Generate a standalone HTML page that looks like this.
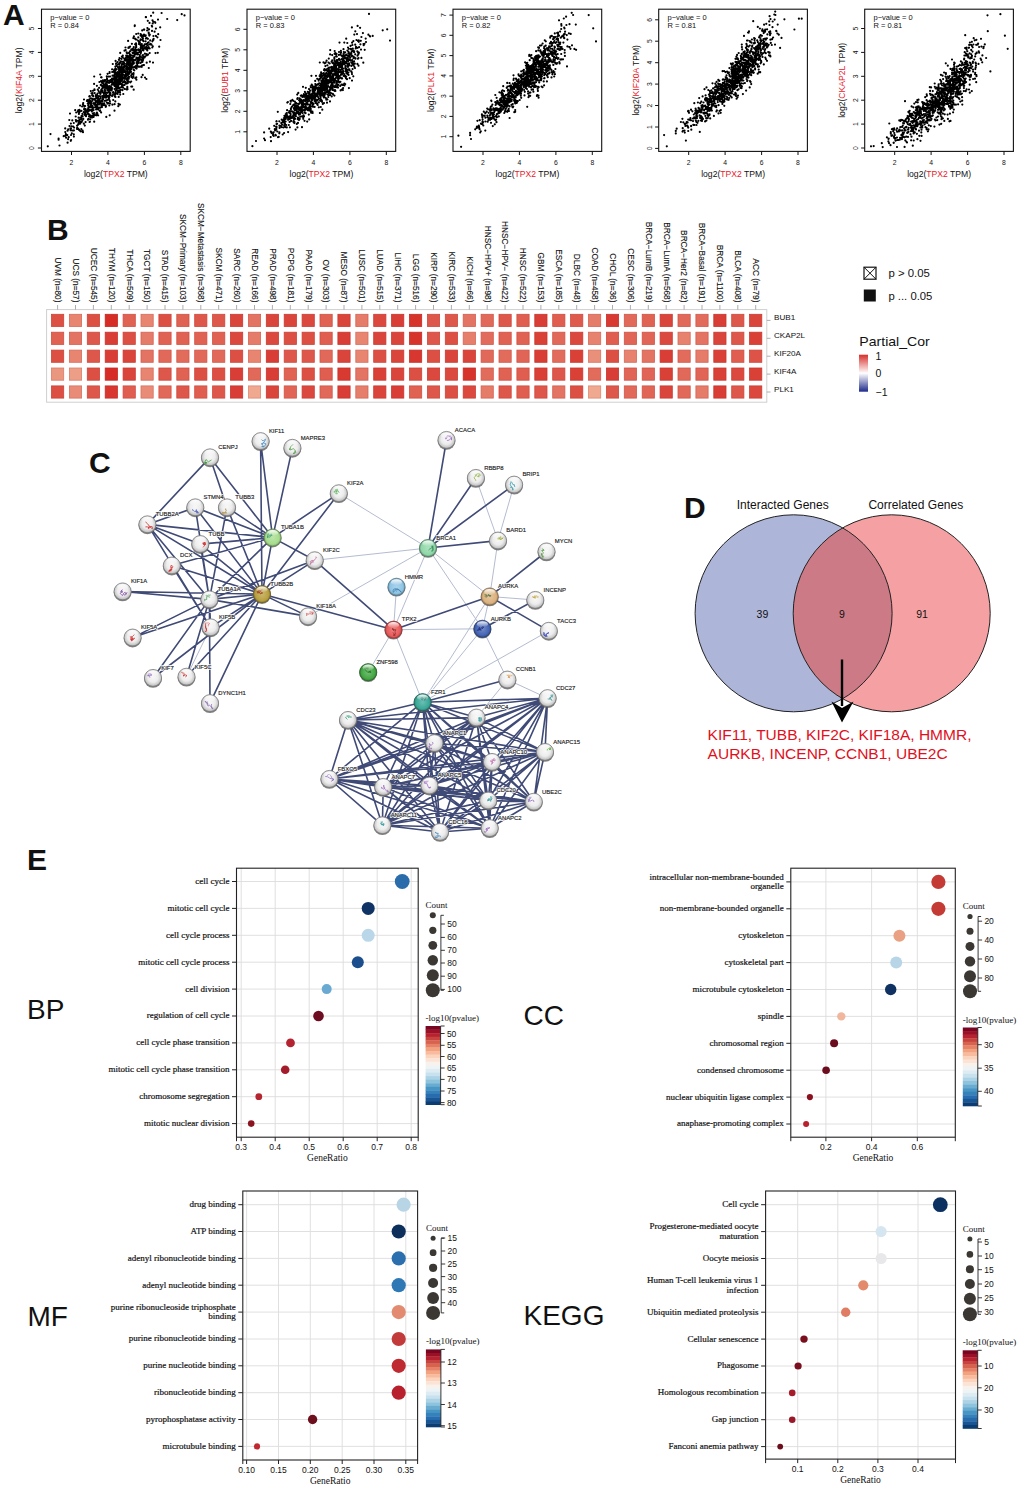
<!DOCTYPE html>
<html><head><meta charset="utf-8"><style>
html,body{margin:0;padding:0;background:#fff;width:1020px;height:1488px;overflow:hidden}
svg{display:block}
svg{font-family:"Liberation Sans",sans-serif;fill:#111}
</style></head><body>
<svg width="1020" height="1488" viewBox="0 0 1020 1488">
<rect width="1020" height="1488" fill="#fff"/>
<path d="M127.7 75.5h0M140.7 34.1h0M124.4 72h0M71.1 140h0M119.4 88.2h0M108.3 97h0M145.1 47.6h0M135.4 48.9h0M108.3 95.9h0M147.3 50.4h0M146 17.2h0M139.2 52h0M100.3 102.5h0M137.6 54.5h0M133.5 74.2h0M95.7 98.4h0M133.3 49.3h0M130.4 70.1h0M75.7 116.5h0M121.4 77.3h0M88.6 108h0M127.3 75.4h0M116.3 88.1h0M132.6 78h0M91.3 105.7h0M118.7 80.3h0M95.2 105.4h0M119.7 87.8h0M83.8 123.7h0M123.8 78.2h0M121.6 69.2h0M124.6 67.4h0M149.7 48.5h0M107.9 86.8h0M138.3 33.5h0M98.1 99.4h0M115.6 60.9h0M126.2 64h0M99.1 87.8h0M126.9 73.6h0M135.6 43.8h0M103.4 105.1h0M122.1 70.9h0M117.1 82.6h0M82.6 130.7h0M120.3 89.6h0M110.1 76.5h0M145.9 38.6h0M108.8 76.6h0M93.9 103.1h0M114.5 110.7h0M155.9 28.6h0M132.5 67.6h0M131 68.6h0M83.3 118.9h0M138.6 62.8h0M146.9 55.3h0M152.5 20.3h0M117.6 74.2h0M102.5 101.3h0M78.6 123.2h0M104.4 84.7h0M136.2 52.3h0M129.8 62.3h0M125.4 82.8h0M117.6 83.1h0M112.7 95.2h0M118.7 96.9h0M95.9 95.2h0M93.8 107.5h0M71 130.3h0M99 107.6h0M120.8 67.3h0M112.8 64h0M117.2 73.3h0M105.9 83.4h0M104.1 105h0M76.9 120.9h0M105.2 90.7h0M116.4 80.1h0M92.8 113.5h0M58.6 139.7h0M105.4 96.4h0M82.1 106.5h0M119 70.3h0M128.5 62.3h0M98.1 98.8h0M123.4 63.2h0M103 99.4h0M122.7 82.5h0M80.9 131.5h0M131.4 49.3h0M130.6 57.9h0M111.5 79.5h0M138 54.1h0M102.9 80.4h0M71.8 133.3h0M135.1 44.3h0M118.2 86.6h0M101.8 100.4h0M133.6 73.9h0M94 104h0M78.9 122.2h0M104.8 89.3h0M137.4 62.2h0M120.5 89.8h0M85.6 109.2h0M89.2 99.7h0M158 19.6h0M153.4 36h0M113.8 79.3h0M124.6 88.9h0M114.8 85.3h0M138.2 40.8h0M123.8 66.8h0M104.9 100.8h0M135.9 47.4h0M133.6 61.6h0M101 91h0M117.1 93.6h0M127.8 72.8h0M123.2 69h0M132 58.6h0M136.6 50.1h0M132.3 61.8h0M121.3 76.7h0M100.6 93.6h0M133.6 50.3h0M146.7 62.7h0M100.1 101.1h0M122.7 75.2h0M122.6 71.4h0M147.5 30.3h0M94.6 115h0M69.5 126h0M135.2 78.1h0M110.4 94.1h0M88.8 114.2h0M109.4 90.7h0M120.8 81.5h0M121.1 80.1h0M115.3 84.8h0M110.5 89.5h0M109.3 105.5h0M73.8 134.3h0M122.2 78.2h0M116.6 74.8h0M89.4 101.8h0M134.7 26.1h0M137.4 54.2h0M109.7 95.2h0M123.5 70.2h0M117.6 72.1h0M108.4 87.9h0M98.1 109.4h0M121.5 75.4h0M108.5 89.5h0M159.2 46.7h0M121.5 86.9h0M119.4 64.6h0M83 132.2h0M154.6 31.7h0M107.4 92.8h0M120.4 61.4h0M110.2 81.4h0M121.1 83.8h0M93.1 95.6h0M141.6 57h0M99.4 82h0M122.8 55.6h0M150.2 40.4h0M114.6 74.7h0M58.6 138.5h0M66.1 137.7h0M79.3 112.5h0M83.8 112.2h0M142.9 38.4h0M115.3 70.9h0M92.2 95.4h0M127.6 55.9h0M124.5 71.8h0M139.9 51.2h0M138.4 49.3h0M88.8 111h0M129.8 67h0M93 90.8h0M141.8 44h0M96.9 85.8h0M141.3 59.6h0M141 51.4h0M118.3 82.2h0M120.6 79.2h0M91.1 110h0M88.5 111.3h0M92.4 109.8h0M125.7 50.1h0M112 78.6h0M135.1 66.6h0M99.7 103.3h0M130.7 55.1h0M110.2 81.9h0M93.6 110h0M136.2 46.1h0M133.4 76.2h0M65.5 135.7h0M116.1 63.4h0M118.5 103.8h0M120.8 77h0M114.6 72.5h0M89.4 110.5h0M136.3 65.5h0M98.1 107.7h0M70.8 140.8h0M118 91.5h0M127.5 66.4h0M96.1 107.1h0M143.4 48h0M106.4 92.6h0M136.1 53.6h0M89.6 122h0M109.8 90.4h0M70.6 130.2h0M128.8 69h0M145.2 56.3h0M142.7 74.9h0M114.3 76.3h0M121.7 65.5h0M128.1 40.9h0M84.4 109.2h0M112.1 69.3h0M112.6 78.6h0M149.9 44.4h0M112.4 79.8h0M71 135h0M123.6 69.2h0M95.3 104.2h0M160.5 40h0M107.1 79.4h0M133.8 47h0M152 31h0M114.5 74.3h0M102.8 80.7h0M140.9 52.5h0M124.5 84.9h0M102.9 103.5h0M105.3 86.2h0M116.9 77.2h0M93.7 116.8h0M94.7 93.1h0M134.4 56.4h0M82.9 104.4h0M79.9 111.2h0M147.5 47.9h0M144.1 45.7h0M96.5 108h0M143.9 57.2h0M128.9 68.6h0M121.3 69.1h0M105.2 80.1h0M90.2 115.4h0M109.9 80.7h0M123.1 71.8h0M103.7 96h0M93.2 96.3h0M99.1 102h0M77.9 111.6h0M118.5 80.8h0M121 84h0M145.7 35.3h0M118 92.5h0M133.5 73.1h0M105.7 93.5h0M128.9 65.1h0M125.4 72.2h0M126.4 89.3h0M115.6 93.8h0M100.8 92.7h0M118.4 72h0M115.6 90.6h0M140.7 47.6h0M87.9 109.2h0M103.3 85.4h0M133.9 67.4h0M115.4 66.6h0M131.1 65.8h0M115.4 66.7h0M98.8 91.4h0M140.5 63h0M131 66h0M102.9 92.3h0M91.7 98.7h0M93.5 116h0M105.2 96.7h0M84.4 109.7h0M102.5 90.9h0M148.1 54.6h0M117.4 87.5h0M146.5 38.2h0M142.9 60.3h0M116.1 77.7h0M81.4 110.8h0M137.7 54.2h0M133.7 89.7h0M147.4 28h0M136.6 39.5h0M151.8 25.8h0M105.9 106.7h0M126.7 52.4h0M118.9 73.3h0M152.7 23.5h0M133 62h0M81.1 119.3h0M146.5 46.4h0M92.5 93.2h0M136.6 52.6h0M115.5 82.7h0M127.7 80.4h0M134.3 53.3h0M126.9 67.4h0M107.6 88.1h0M147.1 30.5h0M130.3 55.4h0M123.4 71.6h0M114.7 79.5h0M114.7 80.7h0M155.3 22.8h0M127.5 59.3h0M129.8 62.4h0M129.5 73.7h0M108.4 80.8h0M104 85.5h0M127.4 78.5h0M129.6 59.9h0M146.3 48.5h0M131.3 86.6h0M82.6 116.4h0M132.6 50h0M137.6 63.1h0M140.6 59.3h0M129.3 53.4h0M90.2 116.9h0M143.2 59.1h0M86.6 114.5h0M91.4 102.2h0M90.2 103.5h0M136.6 62h0M110.6 89.3h0M141.9 48.3h0M153.3 39.9h0M143.3 58h0M104.2 103.3h0M107.9 82.8h0M109.1 90h0M134.8 25.4h0M129.5 57.6h0M126.4 76.3h0M128.9 65.2h0M133.4 55.9h0M134.6 53.8h0M152 30.9h0M122.8 67.7h0M71 128.5h0M92.6 100.7h0M101.5 77.4h0M112 89h0M103.8 97.3h0M90.1 102.9h0M141.1 35.6h0M102.2 88.4h0M115.5 68.9h0M115 81.9h0M125.8 71.4h0M114.4 75.7h0M130.7 55.6h0M128.6 47.4h0M129.3 47.6h0M136.3 77.3h0M124 62.8h0M67.3 135.1h0M153 62.6h0M122.7 68.5h0M136.8 57.6h0M104.7 96h0M115.8 93.3h0M115.8 90.6h0M109.7 89.5h0M109.9 101.3h0M113.3 84.5h0M116.3 78.9h0M143.8 48.9h0M121.2 71.3h0M142.5 49.6h0M91.9 115.9h0M137.9 66.6h0M113.2 82.3h0M125.9 58.6h0M115.7 79.3h0M137.3 61.1h0M140.2 49.7h0M127.3 86.9h0M137.7 66.3h0M103.9 97.3h0M109.1 88.8h0M130.5 67.1h0M137.1 58.7h0M85.6 122.1h0M78.1 124.7h0M117.3 76.6h0M120.2 94.6h0M128.8 78.7h0M99.3 102h0M104.3 80.3h0M94.1 99h0M106.8 76.4h0M112.2 72h0M97.5 104.7h0M84.6 114.8h0M115.7 92.4h0M121.8 61.6h0M106.2 84.8h0M110.7 80.9h0M88.2 105.6h0M129.2 60.1h0M81.6 115.9h0M129.1 62.1h0M126.2 55.7h0M125.7 77.7h0M149.7 53h0M116.3 80.1h0M130 51.3h0M130 61.5h0M119 79.1h0M103.4 87.1h0M76.6 121.5h0M127.3 87.9h0M123.7 82.1h0M123.3 94h0M123.2 74.5h0M74.1 127.6h0M127.7 62.1h0M84 99.5h0M122.3 79.4h0M91.1 107.5h0M116.8 83.3h0M106.3 116.9h0M118.3 85.4h0M114.6 89h0M131.3 59.5h0M118.1 86.5h0M115.8 93.4h0M116 74.6h0M147.9 42.9h0M133.7 69.8h0M130.6 71.7h0M102.6 98h0M65.2 128.4h0M100.8 84.9h0M94.2 115h0M88.3 101.6h0M82 116.5h0M99 96.1h0M142.9 36.6h0M135.9 68.1h0M92.7 99h0M118.4 90.8h0M146.6 49.4h0M141.5 60.3h0M94.6 90.1h0M89.8 96.2h0M102.7 88.5h0M105.2 87.8h0M111.6 90.4h0M153.2 12.7h0M79.4 109.8h0M118.6 68.3h0M116.8 80.6h0M133.5 63.7h0M133.9 60.2h0M107 78.3h0M146.9 54.9h0M104.2 92.5h0M117.7 62h0M129.9 54.3h0M151 15.8h0M91.7 103.6h0M127.1 62.7h0M144.2 29.7h0M132.8 53.2h0M82.4 113.9h0M139.7 58h0M126.7 83.6h0M102 82.8h0M137.7 59.3h0M96.7 107.6h0M149.1 29.3h0M89 116.3h0M106.9 102.6h0M79.5 123.1h0M129.5 65h0M111.5 82.5h0M128.7 59.7h0M140.6 39.3h0M108.2 89.9h0M85.4 110.4h0M120.3 76.2h0M79.3 123.7h0M88.9 106.5h0M141 46h0M80.1 105.6h0M116.2 73.9h0M133.5 67.3h0M101.9 90.5h0M95.9 104.3h0M131.9 43.8h0M122.4 90.2h0M119.9 82.2h0M124.7 76.8h0M68.2 129.4h0M84.7 114.8h0M115.1 96.5h0M73.9 136.6h0M115.4 78.9h0M87.3 100.2h0M122.7 57.2h0M85.7 115.8h0M114.3 77.5h0M152.8 46.3h0M92.4 117.3h0M101.4 85.6h0M135.3 49.5h0M96.1 104.7h0M132.5 64.7h0M124.7 60.2h0M126.8 64h0M87.7 113.3h0M107.2 87.3h0M97.2 100.8h0M138.7 57.7h0M120.1 82.5h0M127.1 57.1h0M114.6 86.1h0M88.4 118.9h0M101 81.2h0M83.8 105.7h0M109.2 82.8h0M115.9 80.6h0M97.8 98.5h0M90.2 119.3h0M116.1 80h0M118.6 74.2h0M73.2 126.5h0M111.7 80.7h0M80.3 123.6h0M122.1 71.1h0M97.3 113.7h0M119.9 75.7h0M151.5 44.7h0M125.7 82.7h0M128.7 69.5h0M95.8 102.1h0M139.5 59h0M72.3 120.4h0M121.9 80.4h0M105.9 83h0M132.6 52.5h0M100.8 102.2h0M143.9 29.5h0M121.9 87.3h0M96.8 96.9h0M118.4 76.7h0M152.1 26.6h0M107.8 103.6h0M100.3 107.7h0M130.8 71.9h0M67.6 130.7h0M80.7 117.5h0M107.3 89.8h0M125.4 72.1h0M127.7 74.2h0M141.9 65.6h0M158.2 34.2h0M120.4 69.9h0M144 34.7h0M116.5 84.7h0M106.6 81.3h0M109.4 100.2h0M129.2 56.6h0M107.2 100h0M137.1 52.6h0M113 92.8h0M123.5 81.7h0M120.8 80.3h0M116.6 65.8h0M124.4 77.6h0M140.3 44.2h0M85.4 112.3h0M127.3 64.1h0M119.3 73.5h0M106.9 84.9h0M127 80.3h0M107.5 89.5h0M120.9 71.2h0M143 55.1h0M88.4 107.7h0M126.4 79.1h0M129.7 56.5h0M106.2 97.6h0M131 65.9h0M128.1 57.8h0M116.4 69.4h0M142.5 55.4h0M100.3 103.2h0M87.8 103.6h0M118.3 106.2h0M104.5 81.4h0M119.3 63.8h0M116.4 90.3h0M136 43.4h0M97.2 98.2h0M119 72.4h0M114.6 104.2h0M148.6 47.2h0M103.5 96h0M140 56.7h0M92.8 108.8h0M63.7 136.2h0M119.9 104.6h0M128.5 68h0M110.4 93.2h0M89.4 109.9h0M92.1 110.4h0M92.2 106.4h0M125.7 66.2h0M107.6 73.8h0M137.2 64.8h0M109.6 72.1h0M109.7 89.8h0M101.7 104h0M141.8 66.8h0M154.9 22h0M105.8 105.3h0M90.5 101.2h0M138.4 50h0M157.4 37.3h0M81.8 121.8h0M124.3 65.8h0M132.7 59.1h0M97.1 95.2h0M70.4 128.3h0M125.2 75.2h0M85.2 109.8h0M112.1 96.1h0M128.9 56.4h0M111.7 84.8h0M132 74h0M124.5 81.2h0M115.5 84.2h0M98.1 115.3h0M149.5 22.9h0M140.4 40.2h0M136.6 68.6h0M110.7 87.5h0M116 64h0M149.8 34.7h0M134.3 70.3h0M94.2 121.7h0M81.3 129.1h0M124.2 58.6h0M73.8 123h0M91.6 117.4h0M142.9 40h0M131.8 66.1h0M118.6 84.2h0M95.5 107.2h0M79.5 122.6h0M121.9 56.6h0M136.5 67.1h0M115.8 84.7h0M140.6 35.6h0M87.3 100.2h0M109.5 96.9h0M75.2 110.2h0M102.3 86.1h0M97.1 113.7h0M119.5 58.2h0M127.6 82.8h0M70.9 123.6h0M121.9 85.6h0M101.1 112.4h0M161.6 13h0M127.4 62.7h0M117.7 79.3h0M117.8 76.6h0M99.5 99.6h0M132.8 63.6h0M99.6 107.8h0M148.8 33.7h0M140.7 50.9h0M136.8 58.7h0M91.8 111.4h0M117.5 81.6h0M114.8 96.6h0M92.8 108.3h0M101.4 105.2h0M119.9 62.9h0M116.8 89h0M86 116.2h0M122.1 73.3h0M91.1 101.3h0M122.9 67.7h0M146.2 44.1h0M90.8 91.1h0M109.7 87.7h0M95.2 100.6h0M100.2 74.5h0M113.3 92.1h0M123.4 61.8h0M100.4 93.9h0M127.5 81.3h0M129.4 71.7h0M101.3 89.6h0M123 87.5h0M140.7 53.3h0M119.7 66.8h0M129.9 66.8h0M107 88.2h0M118.7 84.1h0M139.1 60.4h0M93.4 110.2h0M106.1 94.8h0M131.5 55.4h0M137.2 54.5h0M136.2 34h0M112 79.8h0M130.5 60.5h0M145.8 17.2h0M126.7 69.3h0M142.7 58.4h0M144.7 44.3h0M122.3 84.6h0M134 53.5h0M118 64.5h0M84.8 109.4h0M121.4 78.5h0M113.7 84.5h0M122.5 67.9h0M121.8 61.7h0M129.4 69.2h0M130.8 67.8h0M103.5 84.8h0M112.1 82.8h0M129.1 61.5h0M131.1 57.5h0M124.5 78.8h0M167.2 19h0M141.9 37h0M121.8 75.4h0M135.4 59.9h0M145.6 41.3h0M129.3 60.7h0M94.1 83.9h0M124.9 78.7h0M71.6 126.3h0M92.5 105.8h0M149.3 35.6h0M68.1 139.2h0M139 41.8h0M118.5 68.8h0M126.4 59.6h0M98.3 101.5h0M124.9 66.2h0M78.8 120.6h0M122.1 64.5h0M116.7 79.8h0M119.9 68h0M115.1 94.5h0M121.5 77.4h0M146.4 79h0M104 95.2h0M95.8 96.3h0M123.3 74.7h0M141.2 62.3h0M145.8 48.8h0M144.6 57.4h0M111.5 90.3h0M125.7 74.2h0M79.1 129.9h0M113.5 92.7h0M133.9 36.4h0M97.7 102.9h0M89.2 102.5h0M102 107.1h0M127.5 68.4h0M143.4 41.2h0M85.3 114.8h0M147.9 48.5h0M98.5 101.4h0M85 113.6h0M126.5 59.4h0M141.8 35.4h0M96.9 112.5h0M115.3 101.4h0M116.6 81.7h0M124.7 70.3h0M121.2 67.2h0M132.9 48.7h0M142 57.5h0M125.5 47.5h0M136.9 52.8h0M157.8 52.8h0M107.2 81.5h0M106.8 88.2h0M133 57.3h0M155.5 53.1h0M127.3 70.6h0M142.8 46.5h0M119.4 78.1h0M139.9 44h0M114.1 70.4h0M135.9 39.4h0M90.5 98.4h0M131.3 64.2h0M147.8 20.8h0M142.7 45.5h0M114.8 73.5h0M139.7 55.2h0M96.4 113.6h0M141.5 77.2h0M65.3 132.1h0M72.5 130.5h0M126.2 68.8h0M139.1 42.6h0M117.6 93.9h0M80.2 131h0M120.7 72.4h0M118.2 74.3h0M127.4 70.1h0M82.4 120.3h0M96.3 115.3h0M160.2 27.3h0M127.8 74.8h0M97.1 97.7h0M143.6 36.1h0M125 75.9h0M128.9 60.8h0M137.4 53.1h0M110.5 80h0M76.2 112.5h0M123.8 64.5h0M129.6 56.8h0M142.3 39.5h0M99.4 102.4h0M121.1 74.7h0M132.2 57.6h0M120.2 63h0M97.8 89.7h0M101.1 77.3h0M108.8 98.7h0M102.3 96h0M110.1 103.4h0M126.1 74.5h0M120 92.6h0M113.6 71.8h0M134.5 50.1h0M142.5 61.8h0M90.7 105.4h0M135.2 49.4h0M83.2 103.1h0M139.9 42.3h0M98.4 98.8h0M81.2 118.4h0M134.2 52h0M134.9 54.8h0M100 102.3h0M78.4 128.9h0M153.2 21.7h0M116.8 86.8h0M97.7 102.9h0M104.5 86.2h0M79.6 119.7h0M79.7 111.3h0M125.1 81.8h0M145.3 36.1h0M59.5 145.5h0M133 77.4h0M77 128.9h0M118.7 76.1h0M130 71.6h0M118.5 91.5h0M114.3 70.7h0M136 68h0M111.2 87h0M126.2 65.9h0M111.6 89.9h0M123.4 68.2h0M116 74.4h0M143.1 49.3h0M126.1 57.6h0M126 75.2h0M94.1 113h0M76.1 121.4h0M105.9 100.6h0M78.6 117.7h0M124.3 71.9h0M131.8 67.2h0M135.2 51.3h0M91.1 103.4h0M109.7 115.3h0M153.6 38.9h0M129.3 63.4h0M119.8 71.1h0M105.4 97.3h0M131.2 75.5h0M115.9 79.4h0M116.5 73.1h0M127.5 89.3h0M127.7 83.2h0M110.2 92.5h0M145 77.5h0M107.2 95.9h0M105.2 85.1h0M129.1 76.9h0M90.4 107.2h0M77.2 127.7h0M117 75.2h0M124.6 63.7h0M114.4 69.6h0M96.2 101.7h0M136.1 44.6h0M106.8 87.1h0M120 80.8h0M102.8 82.1h0M124.2 77.4h0M100.3 96.4h0M70 113.6h0M125.2 60.6h0M146.5 54.1h0M119.5 73.4h0M99.7 103.3h0M142.9 50.2h0M108.2 103.2h0M86.3 110.9h0M84.8 125.6h0M112.4 81h0M116.1 76.7h0M84.3 108.4h0M120.2 52.9h0M89.9 121.8h0M68.7 137.2h0M121.6 84.4h0M105.3 97.6h0M97.5 93.5h0M153 40h0M131.2 69.3h0M138.9 66.7h0M107.3 96.1h0M123 77h0M120.1 76.9h0M99.7 110.8h0M132.7 61.8h0M120.1 70h0M98.1 97.4h0M140.1 66.7h0M136.2 47.2h0M130.1 55.2h0M108.3 86.4h0M114.5 94.3h0M144 65h0M118.9 76.8h0M128 77.8h0M125.9 83.4h0M104.7 85.1h0M112.5 75.7h0M90.2 103.5h0M127.2 53.3h0M122 64.2h0M101.8 106.4h0M129.1 52.7h0M132.2 60.2h0M124.4 66.2h0M109.6 73h0M131 58h0M142.2 30.4h0M94.9 103.2h0M152.4 41.3h0M137.9 62.9h0M136.4 58h0M113.2 100h0M105.6 92.7h0M114.8 83.1h0M92.3 110.7h0M132.2 86.6h0M148.8 68h0M142.7 40.1h0M126.5 78.7h0M87.7 100.7h0M118.9 84.4h0M117.5 75.2h0M96.5 114h0M138.8 61.1h0M115.7 83h0M117.7 72.7h0M89.3 96.4h0M115.1 72h0M119.9 90.9h0M87.1 111.7h0M130 66h0M118.7 83.9h0M127.1 61.3h0M130.1 46.6h0M92.8 109.5h0M126.8 52.9h0M108.9 98.4h0M94.5 89.5h0M135 38.7h0M97.3 98.6h0M118.9 59.8h0M129.2 62.3h0M84.4 106h0M119.7 69.5h0M110.3 95h0M147.9 38.8h0M130.1 65.8h0M122.8 77.8h0M88 119.7h0M128.5 74.4h0M123 85.4h0M130.4 51.1h0M67.6 142.7h0M129.5 63.9h0M128.4 72.8h0M114.9 94.1h0M84.1 109.5h0M131 71.9h0M88 101.6h0M135.5 59.6h0M138.9 49.5h0M129.9 65.7h0M134.3 51.5h0M119.3 67.2h0M121.3 79h0M143 48.4h0M91.5 93.3h0M80.7 122.3h0M94.4 89.4h0M150.5 43.9h0M97 106.1h0M131.2 81.5h0M152.3 47.5h0M149.9 61.7h0M77.1 125.6h0M99.5 92.8h0M100.6 98.1h0M136.6 63.1h0M118 88.6h0M124.6 77.9h0M128.8 81.6h0M131.3 76.8h0M133.3 38.1h0M104.8 90.8h0M97.4 108.7h0M148.7 32.7h0M78.2 110.4h0M144.9 53.7h0M114.1 83.7h0M93.4 115.4h0M115.4 96.9h0M118 64.3h0M94.2 76.5h0M119.4 84.1h0M105.7 106.8h0M138.3 37.4h0M114.4 72h0M146.6 37.9h0M121.5 58.9h0M112.2 88h0M131.4 59.4h0M138.9 44h0M108.6 91.8h0M119.3 71.8h0M148 45h0M107.3 86h0M109.8 86h0M126.8 89.3h0M103.7 93.4h0M100.1 110.4h0M96.1 109.5h0M130.3 82.3h0M88.7 103.8h0M134 63.1h0M80.2 121.5h0M103.4 83.5h0M135.4 49.5h0M143.4 50.5h0M112.4 104.7h0M139.9 44.4h0M65.9 134.2h0M127.3 71.4h0M130.2 55.8h0M99.2 104.5h0M148.6 42.3h0M78.9 113.9h0M122.4 67.2h0M115.8 86.8h0M86.9 101h0M131.3 49.8h0M124.5 50.7h0M147.8 43h0M86.5 110.7h0M85.1 106h0M75.8 120.1h0M119.4 75.2h0M119.2 77.8h0M109.5 90.6h0M109.7 93.7h0M116.5 86.3h0M141.6 45.1h0M155.9 35.9h0M143.3 65.1h0M112.3 84.2h0M128.4 47.9h0M101.3 85h0M136.4 79.7h0M73.9 130.4h0M92.9 99.5h0M122.4 72.3h0M119.9 75.2h0M113.4 84.6h0M87.9 110.4h0M137.9 66.4h0M141.9 35.4h0M126.8 79.2h0M118.3 79.3h0M69.3 120h0M118 67.2h0M130.8 63.2h0M122.1 73.4h0M47.8 146.3h0M50.5 134.1h0M177.2 20.1h0M181.7 14.2h0M184.5 15.4h0" stroke="#000" stroke-width="2.2" stroke-linecap="round" fill="none"/>
<rect x="41.5" y="9.2" width="148.7" height="142.2" fill="none" stroke="#111" stroke-width="1.1"/>
<line x1="71.5" y1="151.4" x2="71.5" y2="155.0" stroke="#111" stroke-width="1"/>
<text x="71.5" y="165" font-size="6.8" text-anchor="middle">2</text>
<line x1="107.9" y1="151.4" x2="107.9" y2="155.0" stroke="#111" stroke-width="1"/>
<text x="107.9" y="165" font-size="6.8" text-anchor="middle">4</text>
<line x1="144.4" y1="151.4" x2="144.4" y2="155.0" stroke="#111" stroke-width="1"/>
<text x="144.4" y="165" font-size="6.8" text-anchor="middle">6</text>
<line x1="180.8" y1="151.4" x2="180.8" y2="155.0" stroke="#111" stroke-width="1"/>
<text x="180.8" y="165" font-size="6.8" text-anchor="middle">8</text>
<line x1="37.9" y1="148.0" x2="41.5" y2="148.0" stroke="#111" stroke-width="1"/>
<text transform="translate(34.3 148.0) rotate(-90)" font-size="6.8" text-anchor="middle">0</text>
<line x1="37.9" y1="124.1" x2="41.5" y2="124.1" stroke="#111" stroke-width="1"/>
<text transform="translate(34.3 124.1) rotate(-90)" font-size="6.8" text-anchor="middle">1</text>
<line x1="37.9" y1="100.2" x2="41.5" y2="100.2" stroke="#111" stroke-width="1"/>
<text transform="translate(34.3 100.2) rotate(-90)" font-size="6.8" text-anchor="middle">2</text>
<line x1="37.9" y1="76.3" x2="41.5" y2="76.3" stroke="#111" stroke-width="1"/>
<text transform="translate(34.3 76.3) rotate(-90)" font-size="6.8" text-anchor="middle">3</text>
<line x1="37.9" y1="52.4" x2="41.5" y2="52.4" stroke="#111" stroke-width="1"/>
<text transform="translate(34.3 52.4) rotate(-90)" font-size="6.8" text-anchor="middle">4</text>
<line x1="37.9" y1="28.5" x2="41.5" y2="28.5" stroke="#111" stroke-width="1"/>
<text transform="translate(34.3 28.5) rotate(-90)" font-size="6.8" text-anchor="middle">5</text>
<text x="50.3" y="19.7" font-size="7.5">p−value = 0</text>
<text x="50.3" y="28.1" font-size="7.5">R = 0.84</text>
<text x="115.8" y="176.5" font-size="8.6" text-anchor="middle">log2(<tspan fill="#e8202a">TPX2</tspan> TPM)</text>
<text transform="translate(22.0 80.3) rotate(-90)" font-size="8.6" text-anchor="middle">log2(<tspan fill="#e8202a">KIF4A</tspan> TPM)</text>
<path d="M333.2 82.3h0M346.2 68.6h0M329.9 82.2h0M276.6 121.3h0M324.9 88.8h0M313.8 91.2h0M350.6 54.4h0M340.9 65h0M313.8 97.9h0M352.8 48.7h0M351.5 56.2h0M344.7 64h0M305.8 106.5h0M343.1 88.1h0M339 63.8h0M301.2 101.9h0M338.8 76h0M335.9 75.6h0M281.2 123h0M326.9 91.6h0M294.1 108.9h0M332.8 70.5h0M321.8 80.6h0M338.1 62.9h0M296.8 123.9h0M324.2 81h0M300.7 110.7h0M325.2 74.9h0M289.3 111.1h0M329.3 73.2h0M327.1 83.4h0M330.1 54.4h0M355.2 54.3h0M313.4 104.1h0M343.8 56.1h0M303.6 115.4h0M321.1 72.3h0M331.7 68.8h0M304.6 94.3h0M332.4 67.7h0M341.1 64.5h0M308.9 110h0M327.6 87.4h0M322.6 82.1h0M288.1 119.8h0M325.8 80.6h0M315.6 99.2h0M351.4 66h0M314.3 92.6h0M299.4 103.5h0M320 89.4h0M361.4 57.9h0M338 87.6h0M336.5 53.9h0M288.8 125h0M344.1 74.1h0M352.4 64.3h0M358 40.9h0M323.1 93h0M308 96.7h0M284.1 120.3h0M309.9 107.8h0M341.7 66.4h0M335.3 86h0M330.9 80.4h0M323.1 80.3h0M318.2 93.2h0M324.2 93.4h0M301.4 109.9h0M299.3 110.1h0M276.5 126.7h0M304.5 120.8h0M326.3 99.7h0M318.3 87.3h0M322.7 88.1h0M311.4 97.8h0M309.6 98h0M282.4 124.6h0M310.7 102.1h0M370.1 36.5h0M321.9 82.4h0M298.3 107.6h0M264.1 138.5h0M310.9 106.5h0M287.6 117.8h0M324.5 95.5h0M334 82.3h0M303.6 104.1h0M328.9 80.1h0M308.5 92.4h0M328.2 74h0M286.4 117.4h0M336.9 76.2h0M336.1 74.1h0M317 94.7h0M343.5 49.2h0M308.4 97.3h0M277.3 131.5h0M340.6 77.6h0M323.7 75.6h0M307.3 108.3h0M339.1 67.4h0M299.5 107.6h0M284.4 115.8h0M310.3 105.7h0M342.9 62.4h0M326 82.2h0M291.1 111.2h0M294.7 104.1h0M363.5 44h0M358.9 52.5h0M319.3 83.3h0M330.1 92.6h0M320.3 87.9h0M343.7 75.9h0M329.3 91.5h0M310.4 110.9h0M341.4 84.7h0M339.1 62.9h0M306.5 96h0M322.6 86.4h0M333.3 67.2h0M328.7 81h0M337.5 77.1h0M342.1 78.4h0M337.8 64.8h0M326.8 76h0M306.1 93.5h0M339.1 78.5h0M352.2 60.1h0M305.6 113.1h0M328.2 71.6h0M328.1 75.5h0M353 50.9h0M300.1 108.3h0M275 130.5h0M340.7 72.7h0M315.9 84.8h0M294.3 117.4h0M314.9 87.5h0M326.3 81.1h0M326.6 92h0M320.8 100.9h0M316 99.8h0M314.8 94.9h0M279.3 133.3h0M327.7 76.6h0M322.1 78h0M294.9 109.2h0M340.2 86h0M342.9 90.1h0M315.2 87.3h0M329 67.5h0M323.1 90.1h0M313.9 91.3h0M303.6 106.9h0M327 88.4h0M314 87.5h0M364.7 49.8h0M327 75.3h0M324.9 70h0M288.5 119.1h0M360.1 27.8h0M312.9 106.7h0M325.9 75.8h0M315.7 93.6h0M326.6 60.7h0M298.6 109.2h0M347.1 70.6h0M304.9 91.9h0M328.3 95.2h0M355.7 48.5h0M320.1 95.9h0M264.1 132.4h0M271.6 133h0M284.8 116.5h0M289.3 117.9h0M348.4 72.5h0M320.8 107h0M297.7 98.1h0M333.1 74.6h0M330 90.3h0M345.4 67.4h0M343.9 55.9h0M294.3 123.1h0M335.3 53.1h0M298.5 111.3h0M347.3 66h0M302.4 96.9h0M346.8 60.6h0M346.5 73.4h0M323.8 78.1h0M326.1 79.8h0M296.6 103.7h0M294 119.7h0M297.9 117.9h0M331.2 73h0M317.5 95.7h0M340.6 90.4h0M305.2 107.9h0M336.2 67.7h0M315.7 99.7h0M299.1 100.3h0M341.7 73.2h0M338.9 72h0M271 141.2h0M321.6 95h0M324 87.5h0M326.3 78.5h0M320.1 88.1h0M294.9 105.8h0M341.8 89.7h0M303.6 104.9h0M276.3 129.6h0M323.5 95.4h0M333 77.4h0M301.6 112.2h0M348.9 56.3h0M311.9 100.2h0M341.6 63.4h0M295.1 118.8h0M315.3 84h0M276.1 126.8h0M334.3 59h0M350.7 60.3h0M348.2 66.7h0M319.8 88.9h0M327.2 86.9h0M333.6 86.2h0M289.9 117.2h0M317.6 92.6h0M318.1 97h0M355.4 58.1h0M317.9 99.8h0M276.5 127.8h0M329.1 93.1h0M300.8 95.7h0M366 42h0M312.6 89.4h0M339.3 82.5h0M357.5 47.8h0M320 91h0M308.3 93.3h0M346.4 54.5h0M330 95h0M308.4 92h0M310.8 110.1h0M322.4 76h0M299.2 109.4h0M300.2 116.6h0M339.9 63.2h0M288.4 118.3h0M285.4 127.1h0M353 64.4h0M349.6 55h0M302 116.4h0M349.4 69.3h0M334.4 58.1h0M326.8 90h0M310.7 95.7h0M295.7 109.2h0M315.4 86.4h0M328.6 73.5h0M309.2 119.4h0M298.7 112.9h0M304.6 95.5h0M283.4 127.5h0M324 70.1h0M326.5 81.3h0M351.2 71.4h0M323.5 81.4h0M339 52h0M311.2 103.4h0M334.4 70.3h0M330.9 87.3h0M331.9 83.6h0M321.1 87.7h0M306.3 98.8h0M323.9 82.9h0M321.1 86.9h0M346.2 38.7h0M293.4 121.4h0M308.8 114.6h0M339.4 65h0M320.9 87.3h0M336.6 87.2h0M320.9 74.2h0M304.3 109.7h0M346 78.3h0M336.5 69.4h0M308.4 95.8h0M297.2 94.6h0M299 120h0M310.7 108.5h0M289.9 119h0M308 104.4h0M353.6 56.6h0M322.9 93.1h0M352 74.1h0M348.4 65.9h0M321.6 82.1h0M286.9 115h0M343.2 73.2h0M339.2 65.5h0M368.4 34.7h0M352.9 61.8h0M342.1 71.3h0M357.3 51.3h0M311.4 75.8h0M332.2 76.2h0M324.4 93.3h0M358.2 52.6h0M338.5 76.9h0M286.6 113.1h0M352 80.6h0M298 117.7h0M342.1 59.4h0M321 85.1h0M333.2 76.5h0M339.8 63h0M332.4 90h0M313.1 93.3h0M352.6 69.1h0M335.8 86.5h0M328.9 76.5h0M320.2 96.3h0M320.2 92.6h0M360.8 40.8h0M333 86.8h0M335.3 68.8h0M335 53.4h0M313.9 97.1h0M309.5 92.1h0M332.9 69.8h0M335.1 86.9h0M351.8 72.3h0M336.8 73.1h0M288.1 132.1h0M338.1 71.4h0M343.1 64h0M346.1 58.7h0M334.8 70.8h0M295.7 103h0M348.7 64.3h0M292.1 106.5h0M296.9 107.4h0M295.7 108.5h0M342.1 69.2h0M316.1 85.5h0M347.4 70h0M358.8 41.8h0M348.8 48.8h0M309.7 104.6h0M313.4 103.5h0M314.6 100.9h0M340.3 69.8h0M335 71.4h0M331.9 69.8h0M334.4 57.4h0M338.9 54.9h0M340.1 66.9h0M357.5 55.7h0M328.3 92.5h0M276.5 124h0M298.1 106.3h0M307 104h0M317.5 93.3h0M309.3 100.7h0M295.6 129.6h0M346.6 63.5h0M307.7 98.7h0M321 89.7h0M320.5 98.2h0M331.3 78.1h0M319.9 85.6h0M336.2 56.2h0M334.1 65.7h0M334.8 69.4h0M341.8 68.4h0M329.5 92.6h0M272.8 134h0M358.5 65.7h0M328.2 82.5h0M342.3 56.6h0M310.2 90.6h0M321.3 80.6h0M321.3 88.2h0M315.2 86.1h0M315.4 96.2h0M318.8 107.3h0M321.8 86.7h0M349.3 59.6h0M326.7 98.8h0M348 67h0M297.4 127.4h0M343.4 71.2h0M318.7 80.7h0M331.4 84.5h0M321.2 77.2h0M342.8 64.6h0M345.7 71.5h0M332.8 93.8h0M343.2 58.8h0M309.4 94.5h0M314.6 106.9h0M336 77.9h0M342.6 55.9h0M291.1 120.9h0M283.6 120.2h0M322.8 103.9h0M325.7 92.3h0M334.3 68.6h0M304.8 112.7h0M309.8 110.5h0M299.6 118.4h0M312.3 99.9h0M317.7 105h0M303 106.4h0M290.1 113.4h0M321.2 75.3h0M327.3 86.1h0M311.7 84.7h0M316.2 88.6h0M293.7 115.3h0M334.7 70.2h0M287.1 110.2h0M334.6 60.9h0M331.7 71.1h0M331.2 79.5h0M355.2 44.7h0M321.8 86h0M335.5 72.7h0M335.5 71.8h0M324.5 69.2h0M308.9 109.4h0M282.1 124.3h0M332.8 87.3h0M329.2 72.7h0M328.8 70.9h0M328.7 68.7h0M279.6 127.9h0M333.2 76.1h0M289.5 112.6h0M327.8 80.3h0M296.6 109.2h0M322.3 85.6h0M311.8 95.2h0M323.8 86.9h0M320.1 85.7h0M336.8 87.2h0M323.6 89.8h0M321.3 99.8h0M321.5 88.9h0M353.4 63.6h0M339.2 65.2h0M336.1 61.5h0M308.1 110.3h0M270.7 137.1h0M306.3 99.9h0M299.7 98.3h0M293.8 108.6h0M287.5 116.4h0M304.5 104.5h0M348.4 65.6h0M341.4 64.4h0M298.2 106.3h0M323.9 84.4h0M352.1 63.3h0M347 79.2h0M300.1 114.1h0M295.3 114.9h0M308.2 109.6h0M310.7 95.8h0M317.1 104.1h0M358.7 53.4h0M284.9 119.3h0M324.1 78.4h0M322.3 85.3h0M339 58.8h0M339.4 76.1h0M312.5 102.9h0M352.4 45h0M309.7 106.1h0M323.2 87.8h0M335.4 91h0M356.5 40h0M297.2 105.8h0M332.6 84.2h0M349.7 78.2h0M338.3 69h0M287.9 117.2h0M345.2 52.3h0M332.2 60.3h0M307.5 99.6h0M343.2 68.7h0M302.2 107.9h0M354.6 57.7h0M294.5 122.2h0M312.4 104h0M285 121.9h0M335 90.5h0M317 103.3h0M334.2 64.1h0M346.1 70.5h0M313.7 89.1h0M290.9 109.2h0M325.8 83.9h0M284.8 116.6h0M294.4 114.4h0M346.5 72.1h0M285.6 121.5h0M321.7 87.4h0M339 69.6h0M307.4 100.9h0M301.4 109.8h0M337.4 62.1h0M327.9 83.7h0M325.4 88h0M330.2 71h0M273.7 136h0M290.2 116.9h0M320.6 76.5h0M279.4 125.7h0M320.9 76.6h0M292.8 116.3h0M328.2 86.1h0M291.2 117h0M319.8 94.5h0M358.3 54.4h0M297.9 113h0M306.9 95.7h0M340.8 64.9h0M301.6 108.2h0M338 78.9h0M330.2 50.1h0M332.3 79.3h0M293.2 105h0M312.7 105.8h0M302.7 111h0M344.2 52.8h0M325.6 93.7h0M332.6 87h0M320.1 89.9h0M293.9 118.3h0M306.5 104.4h0M289.3 116.6h0M314.7 87.5h0M321.4 86.5h0M303.3 103h0M295.7 103h0M321.6 75.8h0M324.1 88.5h0M278.7 136.9h0M317.2 100.4h0M285.8 114.1h0M327.6 86.4h0M302.8 110.7h0M325.4 88.2h0M357 34.1h0M331.2 77.9h0M334.2 79h0M301.3 111.9h0M345 75.6h0M277.8 111.8h0M327.4 82.6h0M311.4 96.4h0M338.1 74.5h0M306.3 94.3h0M349.4 70.3h0M327.4 99.5h0M302.3 110.1h0M323.9 82.7h0M357.6 25.9h0M313.3 96.4h0M305.8 109.2h0M336.3 75.5h0M273.1 135.2h0M286.2 125h0M312.8 95.5h0M330.9 76h0M333.2 82.6h0M347.4 50.5h0M363.7 45.2h0M325.9 82.6h0M349.5 65.1h0M322 84.3h0M312.1 93.7h0M314.9 88.9h0M334.7 82.7h0M312.7 91.3h0M342.6 72.5h0M318.5 90h0M329 73.8h0M326.3 69.7h0M322.1 91.2h0M329.9 89.8h0M345.8 62h0M290.9 108.3h0M332.8 79.9h0M324.8 63.3h0M312.4 111.5h0M332.5 63h0M313 86.7h0M326.4 73.2h0M348.5 69.3h0M293.9 104.5h0M331.9 66.8h0M335.2 62.4h0M311.7 99h0M336.5 75.3h0M333.6 63.7h0M321.9 84.5h0M348 64.8h0M305.8 108.9h0M293.3 112.2h0M323.8 97.5h0M310 94.3h0M324.8 83.3h0M321.9 100.9h0M341.5 63.4h0M302.7 96.8h0M324.5 82.8h0M320.1 100.5h0M354.1 61.3h0M309 93.3h0M345.5 77.1h0M298.3 112.1h0M269.2 128.7h0M325.4 86.6h0M334 81h0M315.9 86.7h0M294.9 101.7h0M297.6 107.4h0M297.7 119.2h0M331.2 93.3h0M313.1 97.9h0M342.7 84.9h0M315.1 94.8h0M315.2 86.6h0M307.2 121.6h0M347.3 63.8h0M360.4 44.3h0M311.3 101.9h0M296 108.9h0M343.9 60.4h0M362.9 33.1h0M287.3 102.6h0M329.8 76.8h0M338.2 80.1h0M302.6 113.1h0M275.9 135.5h0M330.7 72.3h0M290.7 114.1h0M317.6 87.8h0M334.4 73.3h0M317.2 78.8h0M337.5 61.4h0M330 70.3h0M321 94.2h0M303.6 107.1h0M355 68.1h0M345.9 70.1h0M342.1 66.5h0M316.2 103.1h0M321.5 93.5h0M355.3 31.3h0M339.8 71.5h0M299.7 118.9h0M286.8 127.4h0M329.7 80.7h0M279.3 121.3h0M297.1 111.3h0M348.4 51.7h0M337.3 69.3h0M324.1 95.2h0M301 99.7h0M285 123.9h0M327.4 65.3h0M342 73.4h0M321.3 89.4h0M346.1 68.9h0M292.8 116.2h0M315 90.4h0M280.7 125.9h0M307.8 91.8h0M302.6 102.6h0M325 70.5h0M333.1 75.8h0M276.4 121.4h0M327.4 71.3h0M306.6 103.1h0M332.9 62.5h0M323.2 81.4h0M323.3 87.9h0M305 104h0M338.3 72.7h0M305.1 101.2h0M354.3 66.7h0M346.2 62.4h0M342.3 73h0M297.3 98.9h0M323 79.7h0M320.3 74.7h0M298.3 92.9h0M306.9 97.9h0M325.4 66.1h0M322.3 83.7h0M291.5 111.3h0M327.6 90.2h0M296.6 110.3h0M328.4 68h0M351.7 51.7h0M296.3 113.7h0M315.2 93.7h0M300.7 112.4h0M305.7 107.6h0M318.8 102.4h0M328.9 70.3h0M305.9 94.3h0M333 77.4h0M334.9 87.2h0M306.8 103.4h0M328.5 62.6h0M346.2 76.5h0M325.2 88.6h0M335.4 78.4h0M312.5 90h0M324.2 96.2h0M344.6 61.7h0M298.9 114.6h0M311.6 100h0M337 84h0M342.7 61.1h0M341.7 72.3h0M317.5 96.5h0M336 62.8h0M351.3 53.7h0M332.2 55.1h0M348.2 56.3h0M350.2 57.7h0M327.8 80.4h0M339.5 42.6h0M323.5 74.8h0M290.3 118.2h0M326.9 79.5h0M319.2 94.2h0M328 75.2h0M327.3 86.5h0M334.9 79.7h0M336.3 68.7h0M309 89.1h0M317.6 84.3h0M334.6 67.6h0M336.6 72.2h0M330 101.4h0M372.7 35.9h0M347.4 63.7h0M327.3 77.1h0M340.9 50.9h0M351.1 49.5h0M334.8 91h0M299.6 108h0M330.4 81.1h0M277.1 123.8h0M364.5 43.8h0M298 122.9h0M354.8 63.7h0M273.6 132.3h0M344.5 85.5h0M324 86.4h0M331.9 80.2h0M303.8 96.6h0M330.4 80.2h0M284.3 125.5h0M327.6 82.9h0M322.2 87.1h0M325.4 75.5h0M320.6 96.9h0M327 102.7h0M351.9 27.4h0M309.5 93.4h0M301.3 106.6h0M328.8 58.6h0M357.4 63.9h0M346.7 70.8h0M351.3 62.4h0M350.1 53.7h0M317 96.1h0M331.2 71.1h0M284.6 123.6h0M319 79.4h0M339.4 65.5h0M303.2 117.3h0M294.7 113h0M307.5 109.9h0M333 78h0M348.9 60.3h0M290.8 101.7h0M353.4 58.1h0M304 116.4h0M290.5 115.8h0M332 88.6h0M347.3 43h0M302.4 100.8h0M320.8 75.2h0M322.1 91h0M330.2 89.2h0M326.7 80.4h0M338.4 84.8h0M347.5 72h0M331 85.8h0M342.4 68.7h0M363.3 62.7h0M312.7 113h0M312.3 85.4h0M338.5 76.6h0M361 49.6h0M332.8 71.3h0M348.3 56.4h0M324.9 90.6h0M345.4 68.7h0M319.6 76.1h0M341.4 55.5h0M296 106.5h0M336.8 56.6h0M353.3 76.3h0M348.2 59.7h0M320.3 91.6h0M345.2 84.1h0M301.9 103.9h0M347 55.5h0M270.8 131.7h0M278 137.2h0M331.7 80h0M344.6 62.5h0M323.1 88.4h0M285.7 118.9h0M326.2 78.8h0M323.7 73.2h0M332.9 74.4h0M287.9 102.1h0M301.8 104.7h0M365.7 38.6h0M333.3 68.7h0M302.6 106.2h0M349.1 63.4h0M330.5 67.4h0M334.4 95.6h0M342.9 84.5h0M316 75.8h0M281.7 119.6h0M329.3 75.1h0M335.1 71.4h0M347.8 58.2h0M304.9 110.5h0M326.6 85.4h0M337.7 81.7h0M325.7 73.3h0M303.3 100.2h0M306.6 100h0M314.3 91.4h0M307.8 101.7h0M315.6 102.9h0M331.6 61.7h0M325.5 78h0M319.1 91.4h0M340 63.3h0M348 47.5h0M296.2 103.1h0M340.7 61.8h0M288.7 112.5h0M345.4 65.9h0M303.9 94.2h0M286.7 113.7h0M339.7 60h0M340.4 81.8h0M305.5 98h0M283.9 118h0M358.7 40.3h0M322.3 109.7h0M303.2 118.8h0M310 96.5h0M285.1 126.8h0M285.2 118.5h0M330.6 79.6h0M350.8 48.8h0M265 140.2h0M338.5 81.4h0M282.5 120.2h0M324.2 87.6h0M335.5 85.4h0M324 103.1h0M319.8 62.5h0M341.5 71.6h0M316.7 94.6h0M331.7 96.4h0M317.1 100.7h0M328.9 82.2h0M321.5 85.1h0M348.6 52.2h0M331.6 85.1h0M331.5 73.6h0M299.6 100.1h0M281.6 127.1h0M311.4 98.2h0M284.1 133h0M329.8 87.4h0M337.3 86h0M340.7 62.1h0M296.6 112.4h0M315.2 80.9h0M359.1 47.2h0M334.8 67h0M325.3 79.6h0M310.9 96.5h0M336.7 83.5h0M321.4 73.6h0M322 88.3h0M333 94.3h0M333.2 82h0M315.7 102.7h0M350.5 45.9h0M312.7 87.9h0M310.7 86h0M334.6 53.8h0M295.9 116.2h0M282.7 134.5h0M322.5 95.4h0M330.1 75.7h0M319.9 113h0M301.7 111h0M341.6 59.2h0M312.3 103.7h0M325.5 85.2h0M308.3 107.6h0M329.7 63.5h0M305.8 87.8h0M275.5 134.8h0M330.7 86.9h0M352 55.6h0M325 78.1h0M305.2 99.9h0M348.4 53.6h0M313.7 86.9h0M291.8 106.9h0M290.3 104h0M317.9 89.3h0M321.6 91.3h0M289.8 117h0M325.7 62.6h0M295.4 105.6h0M274.2 125.8h0M327.1 69h0M310.8 87.3h0M303 86.8h0M358.5 58h0M336.7 69.8h0M344.4 55.8h0M312.8 88.6h0M328.5 83.6h0M325.6 97.8h0M305.2 104.6h0M338.2 77.3h0M325.6 84h0M303.6 95.7h0M345.6 55.2h0M341.7 78.5h0M335.6 80.5h0M313.8 93h0M320 78.7h0M349.5 59.4h0M324.4 82.4h0M333.5 90.1h0M331.4 82.2h0M310.2 104.4h0M318 89h0M295.7 113.3h0M332.7 84.8h0M327.5 91.7h0M307.3 99.3h0M334.6 81h0M337.7 60.1h0M329.9 78h0M315.1 96h0M336.5 63.7h0M347.7 74.1h0M300.4 100.8h0M357.9 58.7h0M343.4 58.2h0M341.9 74.4h0M318.7 98.7h0M311.1 112.7h0M320.3 88.7h0M297.8 106.6h0M337.7 85.8h0M354.3 34.6h0M348.2 61.2h0M332 88.5h0M293.2 100.8h0M324.4 88.8h0M323 73.5h0M302 127.2h0M344.3 42.6h0M321.2 86.6h0M323.2 86.4h0M294.8 110.5h0M320.6 99h0M325.4 75.8h0M292.6 111.7h0M335.5 71h0M324.2 90.6h0M332.6 88.4h0M335.6 70.6h0M298.3 103.8h0M369.8 36.1h0M332.3 79.4h0M314.4 99.2h0M300 102.9h0M340.5 54.4h0M302.8 106.7h0M324.4 93h0M334.7 51h0M289.9 127.3h0M325.2 82.1h0M315.8 94.4h0M353.4 41.1h0M335.6 75.5h0M328.3 96.9h0M293.5 121.7h0M334 74.7h0M328.5 81.5h0M335.9 80.5h0M273.1 134.2h0M335 90.1h0M333.9 90.3h0M320.4 94.7h0M289.6 121.9h0M336.5 74.7h0M293.5 122h0M341 52.7h0M344.4 83.5h0M335.4 65.9h0M339.8 64.3h0M324.8 70.6h0M326.8 70.2h0M348.5 74.9h0M297 108.3h0M286.2 115.4h0M299.9 101.3h0M356 46.9h0M302.5 110h0M336.7 60h0M357.8 52.1h0M355.4 58.7h0M282.6 122h0M305 106.8h0M306.1 107.5h0M342.1 65.9h0M323.5 62.4h0M330.1 76.3h0M334.3 74.3h0M336.8 77h0M338.8 67h0M310.3 107.8h0M302.9 101.7h0M354.2 51.4h0M283.7 121.6h0M350.4 53.3h0M319.6 91.3h0M298.9 104.1h0M320.9 83.6h0M323.5 80.9h0M299.7 108.2h0M324.9 76.5h0M311.2 99h0M343.8 52h0M319.9 90.3h0M352.1 42.7h0M327 80h0M317.7 91.6h0M336.9 82.3h0M344.4 58.1h0M314.1 91.9h0M324.8 84.1h0M353.5 50.6h0M312.8 94.9h0M315.3 101.3h0M332.3 88.2h0M309.2 94.5h0M305.6 101.3h0M301.6 95.3h0M335.8 53.9h0M294.2 107.4h0M339.5 63.4h0M285.7 117h0M308.9 98.9h0M340.9 74.8h0M348.9 88.1h0M317.9 84.7h0M345.4 57.5h0M271.4 132.2h0M332.8 75.3h0M335.7 64.1h0M304.7 96.7h0M354.1 52.2h0M284.4 123h0M327.9 75.9h0M321.3 80.9h0M292.4 99.9h0M336.8 81.4h0M330 74.7h0M353.3 65h0M292 117.9h0M290.6 100.8h0M281.3 126.6h0M324.9 85.5h0M324.7 89.7h0M315 86.8h0M315.2 97.2h0M322 101.8h0M347.1 60.3h0M361.4 37h0M348.8 60.4h0M317.8 90h0M333.9 82.2h0M306.8 108.9h0M341.9 67.3h0M279.4 132.3h0M298.4 112.5h0M327.9 90.7h0M325.4 86.1h0M318.9 83.5h0M293.4 114h0M343.4 54.1h0M347.4 57.9h0M332.3 78.4h0M323.8 93.7h0M274.8 129.2h0M323.5 96.3h0M336.3 65.8h0M327.6 94.3h0M252.4 146.2h0M256 141h0M382.7 30.3h0M387.2 29.3h0M390 40.6h0M369 13.9h0" stroke="#000" stroke-width="2.2" stroke-linecap="round" fill="none"/>
<rect x="247" y="9.2" width="148.7" height="142.2" fill="none" stroke="#111" stroke-width="1.1"/>
<line x1="277.0" y1="151.4" x2="277.0" y2="155.0" stroke="#111" stroke-width="1"/>
<text x="277.0" y="165" font-size="6.8" text-anchor="middle">2</text>
<line x1="313.4" y1="151.4" x2="313.4" y2="155.0" stroke="#111" stroke-width="1"/>
<text x="313.4" y="165" font-size="6.8" text-anchor="middle">4</text>
<line x1="349.9" y1="151.4" x2="349.9" y2="155.0" stroke="#111" stroke-width="1"/>
<text x="349.9" y="165" font-size="6.8" text-anchor="middle">6</text>
<line x1="386.3" y1="151.4" x2="386.3" y2="155.0" stroke="#111" stroke-width="1"/>
<text x="386.3" y="165" font-size="6.8" text-anchor="middle">8</text>
<line x1="243.4" y1="131.8" x2="247.0" y2="131.8" stroke="#111" stroke-width="1"/>
<text transform="translate(239.8 131.8) rotate(-90)" font-size="6.8" text-anchor="middle">1</text>
<line x1="243.4" y1="111.3" x2="247.0" y2="111.3" stroke="#111" stroke-width="1"/>
<text transform="translate(239.8 111.3) rotate(-90)" font-size="6.8" text-anchor="middle">2</text>
<line x1="243.4" y1="90.8" x2="247.0" y2="90.8" stroke="#111" stroke-width="1"/>
<text transform="translate(239.8 90.8) rotate(-90)" font-size="6.8" text-anchor="middle">3</text>
<line x1="243.4" y1="70.3" x2="247.0" y2="70.3" stroke="#111" stroke-width="1"/>
<text transform="translate(239.8 70.3) rotate(-90)" font-size="6.8" text-anchor="middle">4</text>
<line x1="243.4" y1="49.8" x2="247.0" y2="49.8" stroke="#111" stroke-width="1"/>
<text transform="translate(239.8 49.8) rotate(-90)" font-size="6.8" text-anchor="middle">5</text>
<line x1="243.4" y1="29.3" x2="247.0" y2="29.3" stroke="#111" stroke-width="1"/>
<text transform="translate(239.8 29.3) rotate(-90)" font-size="6.8" text-anchor="middle">6</text>
<text x="255.8" y="19.7" font-size="7.5">p−value = 0</text>
<text x="255.8" y="28.1" font-size="7.5">R = 0.83</text>
<text x="321.4" y="176.5" font-size="8.6" text-anchor="middle">log2(<tspan fill="#e8202a">TPX2</tspan> TPM)</text>
<text transform="translate(227.5 80.3) rotate(-90)" font-size="8.6" text-anchor="middle">log2(<tspan fill="#e8202a">BUB1</tspan> TPM)</text>
<path d="M539.2 80.5h0M552.2 62.3h0M535.9 86.2h0M482.6 119.7h0M530.9 82.8h0M519.8 90.7h0M556.6 42h0M546.9 81.4h0M519.8 89h0M558.8 42.3h0M557.5 36.6h0M550.7 53.7h0M511.8 99.7h0M549.1 47.3h0M545 52.1h0M507.2 82.9h0M544.8 40.3h0M541.9 66.5h0M487.2 108.5h0M532.9 72h0M500.1 112.1h0M538.8 61.1h0M527.8 67.7h0M544.1 85.3h0M502.8 93.7h0M530.2 83.9h0M506.7 87.8h0M531.2 73.5h0M495.3 108.6h0M535.3 58.6h0M533.1 76.7h0M536.1 51.2h0M561.2 54h0M519.4 92.1h0M549.8 67.2h0M509.6 92.7h0M527.1 80.4h0M537.7 61.5h0M510.6 87.5h0M538.4 60.8h0M547.1 48.2h0M514.9 83.2h0M533.6 74h0M528.6 84.8h0M494.1 116.8h0M531.8 68.5h0M521.6 89.7h0M557.4 58.4h0M520.3 93.5h0M505.4 102.2h0M526 79.1h0M567.4 39.6h0M544 72.8h0M542.5 59h0M494.8 124.3h0M550.1 59.6h0M558.4 35.8h0M564 37.9h0M529.1 67.8h0M514 92.1h0M490.1 110.9h0M515.9 90.8h0M547.7 63.3h0M541.3 62.2h0M536.9 61.4h0M529.1 95.6h0M524.2 90h0M530.2 95.8h0M507.4 106h0M505.3 110.2h0M482.5 123.5h0M510.5 98.7h0M532.3 66.8h0M524.3 73h0M528.7 86h0M517.4 94h0M515.6 87h0M488.4 119.9h0M516.7 93.9h0M576.1 49.8h0M527.9 73.6h0M504.3 100.4h0M470.1 135.2h0M516.9 101h0M493.6 118.3h0M530.5 73.4h0M540 72.2h0M509.6 106.4h0M534.9 75.8h0M514.5 86.2h0M534.2 62.1h0M492.4 104.5h0M542.9 63.1h0M542.1 62.7h0M523 82.1h0M549.5 50.4h0M514.4 88.1h0M483.3 125.5h0M546.6 67.6h0M529.7 81.2h0M513.3 88.4h0M545.1 66.9h0M505.5 106.4h0M490.4 108.2h0M516.3 79.5h0M548.9 67h0M532 76.6h0M497.1 101h0M500.7 107.9h0M569.5 24.2h0M564.9 55.9h0M525.3 84h0M536.1 65.3h0M526.3 68.1h0M549.7 47.2h0M535.3 86.9h0M516.4 102.8h0M547.4 68.1h0M545.1 53.8h0M512.5 89h0M528.6 69.5h0M539.3 61.5h0M534.7 77.9h0M543.5 67.2h0M548.1 67.7h0M543.8 55.2h0M532.8 86h0M512.1 94.4h0M545.1 59.6h0M558.2 34.4h0M511.6 101.1h0M534.2 69.7h0M534.1 82.4h0M559 35.7h0M506.1 102.9h0M481 123.7h0M546.7 69.7h0M521.9 90.5h0M500.3 109.9h0M520.9 91.5h0M532.3 64.9h0M532.6 83.7h0M526.8 78.6h0M522 78.6h0M520.8 95.7h0M485.3 130.6h0M533.7 69.6h0M528.1 93.6h0M500.9 110.3h0M546.2 61.7h0M548.9 55.1h0M521.2 88.4h0M535 78.8h0M529.1 69.8h0M519.9 85.6h0M509.6 83.2h0M533 82.5h0M520 88.1h0M570.7 33.9h0M533 69.6h0M530.9 74.6h0M494.5 110.6h0M566.1 16.7h0M518.9 89.7h0M531.9 71.6h0M521.7 84.1h0M532.6 80.3h0M504.6 96.6h0M553.1 72.6h0M510.9 87.5h0M534.3 87.1h0M561.7 47.1h0M526.1 80.5h0M470.1 132.9h0M477.6 127.4h0M490.8 106.7h0M495.3 95h0M554.4 41h0M526.8 79.3h0M503.7 106.9h0M539.1 75.3h0M536 60.3h0M551.4 45.9h0M549.9 43.4h0M500.3 98.9h0M541.3 53.2h0M504.5 106h0M553.3 61.1h0M508.4 105.5h0M552.8 53.8h0M552.5 55.9h0M529.8 76.7h0M532.1 86h0M502.6 102.4h0M500 100.5h0M503.9 101.8h0M537.2 95h0M523.5 84.1h0M546.6 63.8h0M511.2 89h0M542.2 66.4h0M521.7 80.5h0M505.1 104h0M547.7 55.9h0M544.9 52.7h0M477 126.6h0M527.6 77.3h0M530 76.1h0M532.3 69.7h0M526.1 82.4h0M500.9 101.9h0M547.8 77.2h0M509.6 98.9h0M482.3 116.6h0M529.5 72.2h0M539 77.2h0M507.6 104.7h0M554.9 47.2h0M517.9 86.6h0M547.6 54.7h0M501.1 104.5h0M521.3 85.2h0M482.1 115.6h0M540.3 75.7h0M556.7 63.8h0M554.2 41.6h0M525.8 88.1h0M533.2 68.1h0M539.6 74h0M495.9 116.4h0M523.6 71.2h0M524.1 83.9h0M561.4 59.4h0M523.9 85.4h0M482.5 121.8h0M535.1 74.3h0M506.8 98.7h0M572 45.3h0M518.6 91h0M545.3 57.5h0M563.5 35.1h0M526 80.9h0M514.3 98.9h0M552.4 74.3h0M536 58.3h0M514.4 101.3h0M516.8 94h0M528.4 79.1h0M505.2 98.2h0M506.2 100.6h0M545.9 69.1h0M494.4 111.1h0M491.4 101.1h0M559 20.3h0M555.6 53h0M508 94.2h0M555.4 69h0M540.4 64.9h0M532.8 68.4h0M516.7 92.9h0M501.7 92.3h0M521.4 79h0M534.6 67.4h0M515.2 111.8h0M504.7 105.9h0M510.6 91.1h0M489.4 118h0M530 92.7h0M532.5 80.1h0M557.2 32.9h0M529.5 72.1h0M545 53.7h0M517.2 88.5h0M540.4 51.7h0M536.9 95.9h0M537.9 80.4h0M527.1 64.2h0M512.3 86.8h0M529.9 75.5h0M527.1 83.3h0M552.2 72.6h0M499.4 109.2h0M514.8 93.4h0M545.4 70.4h0M526.9 69h0M542.6 54.7h0M526.9 83h0M510.3 90h0M552 54.9h0M542.5 62h0M514.4 96.3h0M503.2 86.2h0M505 111.7h0M516.7 91.5h0M495.9 103h0M514 85.2h0M559.6 63.4h0M528.9 86.6h0M558 48.8h0M554.4 60h0M527.6 85.4h0M492.9 113.5h0M549.2 58.9h0M545.2 51.1h0M574.4 48.9h0M558.9 35.5h0M548.1 60.9h0M563.3 35.5h0M517.4 92.4h0M538.2 47.4h0M530.4 92.6h0M564.2 27.7h0M544.5 66.7h0M492.6 113.6h0M558 32.7h0M504 103.6h0M548.1 49.6h0M527 68.1h0M539.2 73.5h0M545.8 41.3h0M538.4 57.2h0M519.1 89.7h0M558.6 44.6h0M541.8 71.9h0M534.9 69.7h0M526.2 73.8h0M526.2 72.6h0M566.8 35.1h0M539 72.9h0M541.3 71.7h0M541 74.9h0M519.9 89.4h0M515.5 86.8h0M538.9 73.6h0M541.1 72.2h0M557.8 59h0M542.8 58.6h0M494.1 112.5h0M544.1 78.3h0M549.1 46.3h0M552.1 43.4h0M540.8 66h0M501.7 106.5h0M554.7 51.6h0M498.1 113.4h0M502.9 96.3h0M501.7 95h0M548.1 48.3h0M522.1 83.2h0M553.4 50.3h0M564.8 34.1h0M554.8 33.4h0M515.7 97.4h0M519.4 87.9h0M520.6 92h0M546.3 72.2h0M541 62.8h0M537.9 58.9h0M540.4 76.5h0M544.9 52.3h0M546.1 54h0M563.5 36.3h0M534.3 60.9h0M482.5 124.2h0M504.1 91.1h0M513 96.5h0M523.5 79.3h0M515.3 103.4h0M501.6 97.8h0M552.6 53.3h0M513.7 97.4h0M527 89h0M526.5 79.1h0M537.3 57.8h0M525.9 77h0M542.2 68h0M540.1 74.1h0M540.8 76h0M547.8 62h0M535.5 86.1h0M478.8 125.7h0M564.5 28.4h0M534.2 73.6h0M548.3 59.8h0M516.2 95.4h0M527.3 74.1h0M527.3 74.8h0M521.2 74.7h0M521.4 91.5h0M524.8 91.8h0M527.8 84.7h0M555.3 63.5h0M532.7 75.2h0M554 56.6h0M503.4 108.6h0M549.4 57.8h0M524.7 74.5h0M537.4 63.5h0M527.2 85.6h0M548.8 57.6h0M551.7 51.6h0M538.8 62.4h0M549.2 60.9h0M515.4 101.5h0M520.6 84h0M542 74.3h0M548.6 61.8h0M497.1 110.1h0M489.6 109.5h0M528.8 82.8h0M531.7 74.4h0M540.3 69h0M510.8 100.1h0M515.8 84.7h0M505.6 104h0M518.3 85.2h0M523.7 81.5h0M509 111h0M496.1 119.6h0M527.2 106.8h0M533.3 71.6h0M517.7 87.6h0M522.2 89.5h0M499.7 109.6h0M540.7 69.6h0M493.1 115.8h0M540.6 67h0M537.7 70h0M537.2 78.3h0M561.2 29h0M527.8 71.2h0M541.5 69.5h0M541.5 45.3h0M530.5 55.8h0M514.9 82.8h0M488.1 109.3h0M538.8 73.9h0M535.2 75h0M534.8 86.7h0M534.7 76.4h0M485.6 112.8h0M539.2 71.8h0M495.5 120.2h0M533.8 59.4h0M502.6 90.3h0M528.3 66.3h0M517.8 101.2h0M529.8 70.5h0M526.1 88.2h0M542.8 65.6h0M529.6 71.8h0M527.3 67.3h0M527.5 85.2h0M559.4 49.9h0M545.2 73.9h0M542.1 64.9h0M514.1 100.2h0M476.7 127.9h0M512.3 88.9h0M505.7 100.8h0M499.8 105.2h0M493.5 109.8h0M510.5 90.4h0M554.4 37.4h0M547.4 70.8h0M504.2 113h0M529.9 73.1h0M558.1 40.3h0M553 39.1h0M506.1 94.8h0M501.3 93.2h0M514.2 88.9h0M516.7 95.3h0M523.1 76h0M564.7 50h0M490.9 117.8h0M530.1 73.8h0M528.3 81.3h0M545 52.8h0M545.4 65h0M518.5 74.4h0M558.4 58.1h0M515.7 86h0M529.2 82.1h0M541.4 52.3h0M562.5 48.9h0M503.2 97.8h0M538.6 97.7h0M555.7 57.9h0M544.3 46.7h0M493.9 110h0M551.2 54.2h0M538.2 60.8h0M513.5 75.3h0M549.2 68.2h0M508.2 98.8h0M560.6 49.6h0M500.5 100.6h0M518.4 94.2h0M491 122.8h0M541 80.3h0M523 78.8h0M540.2 64.8h0M552.1 45.4h0M519.7 100h0M496.9 114.1h0M531.8 80.2h0M490.8 108.7h0M500.4 102.4h0M552.5 55.4h0M491.6 119h0M527.7 77.9h0M545 66.3h0M513.4 86.7h0M507.4 86.7h0M543.4 62.2h0M533.9 83.2h0M531.4 55h0M536.2 65.1h0M479.7 120.2h0M496.2 108.3h0M526.6 79.2h0M485.4 117.7h0M526.9 78.1h0M498.8 116.4h0M534.2 79.3h0M497.2 108.7h0M525.8 80.1h0M564.3 38.2h0M503.9 99.2h0M512.9 107.3h0M546.8 69.2h0M507.6 103.4h0M544 61.3h0M536.2 72.6h0M538.3 50.4h0M499.2 108.8h0M518.7 90.2h0M508.7 108.8h0M550.2 37.7h0M531.6 74.8h0M538.6 69.3h0M526.1 86.4h0M499.9 105.1h0M512.5 96.8h0M495.3 102.2h0M520.7 92.8h0M527.4 83.4h0M509.3 101h0M501.7 100.1h0M527.6 76.7h0M530.1 68.5h0M484.7 115.8h0M523.2 79.2h0M491.8 112.5h0M533.6 65.4h0M508.8 94.1h0M531.4 72.7h0M563 59.3h0M537.2 74h0M540.2 73.1h0M507.3 111.8h0M551 41.9h0M483.8 111.7h0M533.4 64h0M517.4 85h0M544.1 48.2h0M512.3 106.8h0M555.4 37h0M533.4 91.7h0M508.3 96.9h0M529.9 76.2h0M563.6 35.5h0M519.3 82.5h0M511.8 89.6h0M542.3 71.1h0M479.1 126.9h0M492.2 117.5h0M518.8 87.2h0M536.9 73.3h0M539.2 82.5h0M553.4 42.7h0M569.7 47.1h0M531.9 79.6h0M555.5 58h0M528 85.6h0M518.1 84.4h0M520.9 91.7h0M540.7 79.7h0M518.7 93.5h0M548.6 68.1h0M524.5 95.4h0M535 63.9h0M532.3 64.8h0M528.1 91.4h0M535.9 57.1h0M551.8 35.8h0M496.9 117.2h0M538.8 64.4h0M530.8 78.9h0M518.4 82.1h0M538.5 95.6h0M519 83.2h0M532.4 78h0M554.5 46.5h0M499.9 100h0M537.9 90.9h0M541.2 66.2h0M517.7 89.4h0M542.5 58.7h0M539.6 56.8h0M527.9 73h0M554 59.9h0M511.8 89.7h0M499.3 111.2h0M529.8 70.8h0M516 92.3h0M530.8 78h0M527.9 78.2h0M547.5 74.7h0M508.7 100.1h0M530.5 87.1h0M526.1 73.4h0M560.1 31.6h0M515 102.9h0M551.5 77.4h0M504.3 100.2h0M475.2 129.3h0M531.4 83.9h0M540 45.7h0M521.9 88.6h0M500.9 111.6h0M503.6 104.3h0M503.7 100.4h0M537.2 55.6h0M519.1 85.6h0M548.7 70.2h0M521.1 90h0M521.2 71.3h0M513.2 106.6h0M553.3 53.3h0M566.4 25h0M517.3 87.6h0M502 105.3h0M549.9 65.3h0M568.9 33.3h0M493.3 108.4h0M535.8 69.3h0M544.2 52.7h0M508.6 96.4h0M481.9 114.3h0M536.7 69.1h0M496.7 102.8h0M523.6 86.2h0M540.4 50.3h0M523.2 73.7h0M543.5 56.6h0M536 80h0M527 78.5h0M509.6 118h0M561 48h0M551.9 52.5h0M548.1 66.9h0M522.2 83.6h0M527.5 74.1h0M561.3 24.2h0M545.8 60.6h0M505.7 111.3h0M492.8 126.1h0M535.7 72.8h0M485.3 113.3h0M503.1 95.2h0M554.4 50.3h0M543.3 69.7h0M530.1 83.1h0M507 100.2h0M491 112.9h0M533.4 68.4h0M548 57.1h0M527.3 62.9h0M552.1 52.3h0M498.8 103.4h0M521 77.6h0M486.7 111.7h0M513.8 97.7h0M508.6 109.3h0M531 87.3h0M539.1 64.2h0M482.4 117.4h0M533.4 70.5h0M512.6 88.1h0M573.1 15h0M538.9 75h0M529.2 55.9h0M529.3 54.9h0M511 89.8h0M544.3 63.8h0M511.1 93.5h0M560.3 59.6h0M552.2 53.4h0M548.3 65.9h0M503.3 103.2h0M529 80.7h0M526.3 63.3h0M504.3 107.5h0M512.9 91.3h0M531.4 79h0M528.3 65.1h0M497.5 100.9h0M533.6 86.8h0M502.6 109.7h0M534.4 69.9h0M557.7 54.1h0M502.3 100.4h0M521.2 85h0M506.7 106.9h0M511.7 96.9h0M524.8 78.2h0M534.9 72.5h0M511.9 93.5h0M539 64.3h0M540.9 66.8h0M512.8 83.7h0M534.5 83.6h0M552.2 48.8h0M531.2 80.2h0M541.4 61.3h0M518.5 81.7h0M530.2 71.2h0M550.6 48.5h0M504.9 95.8h0M517.6 85h0M543 65.7h0M548.7 50h0M547.7 48.8h0M523.5 76.3h0M542 61.9h0M557.3 44.9h0M538.2 86.8h0M554.2 59.8h0M556.2 51.3h0M533.8 64.2h0M545.5 49.3h0M529.5 76.2h0M496.3 115.8h0M532.9 69.7h0M525.2 73.5h0M534 66h0M533.3 79.8h0M540.9 75.9h0M542.3 72.8h0M515 99.8h0M523.6 75.2h0M540.6 63.2h0M542.6 43.5h0M536 56h0M553.4 59.4h0M533.3 67.7h0M546.9 55h0M557.1 63h0M540.8 77.8h0M505.6 105.5h0M536.4 59.1h0M483.1 122.1h0M570.5 48.8h0M504 101.3h0M560.8 37.7h0M479.6 129.2h0M550.5 36.3h0M530 83.5h0M537.9 59.3h0M509.8 91.7h0M536.4 77.2h0M490.3 114.7h0M533.6 73.2h0M528.2 82h0M531.4 69.1h0M526.6 80h0M533 89.4h0M557.9 46.5h0M515.5 100.1h0M507.3 100.7h0M534.8 70.1h0M563.4 42.6h0M552.7 42.9h0M557.3 49h0M556.1 54.9h0M523 70.6h0M537.2 63.1h0M490.6 114.6h0M525 82h0M545.4 65h0M509.2 96.7h0M500.7 111.3h0M513.5 80h0M539 56.5h0M554.9 74.2h0M496.8 114.5h0M559.4 46.4h0M510 101.2h0M496.5 122.2h0M538 62.6h0M553.3 64.9h0M508.4 93.1h0M526.8 76.5h0M528.1 66.1h0M536.2 78.9h0M532.7 58.3h0M544.4 74.1h0M553.5 37h0M537 60.3h0M548.4 53.6h0M569.3 47h0M518.7 75.5h0M518.3 82.3h0M544.5 78.2h0M567 66.4h0M538.8 74.3h0M554.3 60.4h0M530.9 70h0M551.4 53.3h0M525.6 78.9h0M547.4 64h0M502 97.4h0M542.8 69.4h0M559.3 62.1h0M554.2 76.5h0M526.3 76.5h0M551.2 61.1h0M507.9 110.7h0M553 62h0M476.8 127.2h0M484 115.6h0M537.7 88.9h0M550.6 59.7h0M529.1 71.6h0M491.7 110h0M532.2 67.6h0M529.7 60.2h0M538.9 75.8h0M493.9 114.6h0M507.8 90.7h0M571.7 12.8h0M539.3 64.2h0M508.6 99.9h0M555.1 62.4h0M536.5 64.5h0M540.4 62.8h0M548.9 67.8h0M522 89h0M487.7 121.7h0M535.3 66.1h0M541.1 66.7h0M553.8 38.8h0M510.9 85.4h0M532.6 71.2h0M543.7 51h0M531.7 65.8h0M509.3 86h0M512.6 97.2h0M520.3 81.2h0M513.8 78.5h0M521.6 79.6h0M537.6 72.5h0M531.5 72.8h0M525.1 62.3h0M546 63.6h0M554 57.6h0M502.2 97h0M546.7 62.6h0M494.7 119.5h0M551.4 69.9h0M509.9 95.8h0M492.7 115.3h0M545.7 45.7h0M546.4 65.2h0M511.5 104.8h0M489.9 118.5h0M564.7 52.7h0M528.3 68.1h0M509.2 102.3h0M516 78.6h0M491.1 109.5h0M491.2 100.5h0M536.6 70.5h0M556.8 38.9h0M471 139h0M544.5 65.8h0M488.5 119.4h0M530.2 66h0M541.5 65.7h0M530 70.5h0M525.8 86.6h0M547.5 70.9h0M522.7 84.3h0M537.7 56.3h0M523.1 83.6h0M534.9 57.1h0M527.5 81.6h0M554.6 53.8h0M537.6 71.7h0M537.5 70.9h0M505.6 104.7h0M487.6 117.2h0M517.4 95.1h0M490.1 119.8h0M535.8 56.4h0M543.3 54h0M546.7 61.8h0M502.6 106.7h0M521.2 97.8h0M565.1 31.7h0M540.8 71.4h0M531.3 57.9h0M516.9 102.8h0M542.7 59.8h0M527.4 68.5h0M528 82.8h0M539 47.9h0M539.2 57.3h0M521.7 76.4h0M556.5 57.1h0M518.7 79.3h0M516.7 81.5h0M540.6 64h0M501.9 91h0M488.7 112.8h0M528.5 97.2h0M536.1 66.8h0M525.9 65.5h0M507.7 102.1h0M547.6 50.2h0M518.3 92.8h0M531.5 74.7h0M514.3 112.2h0M535.7 86.8h0M511.8 96.2h0M481.5 123.9h0M536.7 86.5h0M558 38.8h0M531 72.1h0M511.2 101.1h0M554.4 72h0M519.7 81.9h0M497.8 110.1h0M496.3 103.7h0M523.9 73h0M527.6 81.8h0M495.8 110.3h0M531.7 68h0M501.4 105.6h0M480.2 132.5h0M533.1 68h0M516.8 87.2h0M509 101.3h0M564.5 33.8h0M542.7 67.4h0M550.4 59.6h0M518.8 81.6h0M534.5 84.8h0M531.6 89.7h0M511.2 96.4h0M544.2 75.2h0M531.6 67.7h0M509.6 102.2h0M551.6 72.1h0M547.7 62.6h0M541.6 86.5h0M519.8 76.2h0M526 81.3h0M555.5 43h0M530.4 72.2h0M539.5 65.5h0M537.4 79.2h0M516.2 84.4h0M524 85.8h0M501.7 109.2h0M538.7 87.2h0M533.5 62h0M513.3 95.1h0M540.6 70.1h0M543.7 81.4h0M535.9 62.5h0M521.1 86.8h0M542.5 54.4h0M553.7 52.5h0M506.4 105.8h0M563.9 34.4h0M549.4 72.7h0M547.9 73.9h0M524.7 83h0M517.1 83.9h0M526.3 71.4h0M503.8 102.8h0M543.7 64h0M560.3 42.5h0M554.2 53.7h0M538 73.6h0M499.2 103h0M530.4 81.1h0M529 80h0M508 89.7h0M550.3 53.6h0M527.2 84.3h0M529.2 71.8h0M500.8 105.8h0M526.6 74.7h0M531.4 83.3h0M498.6 111.8h0M541.5 78.8h0M530.2 67.1h0M538.6 55.3h0M541.6 53.9h0M504.3 99.2h0M575.8 24.6h0M538.3 70.8h0M520.4 81.9h0M506 101.5h0M546.5 69.9h0M508.8 90.4h0M530.4 68.9h0M540.7 61.2h0M495.9 109.7h0M531.2 79.2h0M521.8 84.5h0M559.4 43.6h0M541.6 76.2h0M534.3 76.9h0M499.5 113h0M540 56.5h0M534.5 84.8h0M541.9 76.4h0M479.1 127.9h0M541 64.4h0M539.9 75.7h0M526.4 66.1h0M495.6 105h0M542.5 87.2h0M499.5 104.7h0M547 56.2h0M550.4 68.7h0M541.4 66.4h0M545.8 60h0M530.8 82.1h0M532.8 75.3h0M554.5 48h0M503 106.5h0M492.2 112.9h0M505.9 108.8h0M562 36.4h0M508.5 102.6h0M542.7 52.6h0M563.8 18.5h0M561.4 25.7h0M488.6 118.3h0M511 92.5h0M512.1 96.6h0M548.1 53.9h0M529.5 84.9h0M536.1 80.3h0M540.3 67.3h0M542.8 71.8h0M544.8 50.1h0M516.3 85.2h0M508.9 95.3h0M560.2 46.8h0M489.7 115.7h0M556.4 39.3h0M525.6 81.1h0M504.9 101.3h0M526.9 64.7h0M529.5 76.6h0M505.7 102.4h0M530.9 78.3h0M517.2 80h0M549.8 61.6h0M525.9 85.4h0M558.1 35.9h0M533 64h0M523.7 71.9h0M542.9 72.2h0M550.4 51.5h0M520.1 91.6h0M530.8 72.8h0M559.5 62.8h0M518.8 89.8h0M521.3 77.2h0M538.3 66.8h0M515.2 110.1h0M511.6 87.7h0M507.6 96.2h0M541.8 67.7h0M500.2 105.5h0M545.5 64.3h0M491.7 106.1h0M514.9 92.3h0M546.9 75.4h0M554.9 59.9h0M523.9 69.9h0M551.4 43.5h0M477.4 120.8h0M538.8 75.6h0M541.7 60h0M510.7 88.4h0M560.1 44h0M490.4 109.7h0M533.9 63.1h0M527.3 71.1h0M498.4 104.1h0M542.8 59.4h0M536 82.2h0M559.3 49.1h0M498 102h0M496.6 97.8h0M487.3 115.5h0M530.9 66.7h0M530.7 76.2h0M521 93.7h0M521.2 82.3h0M528 75.2h0M553.1 61.9h0M567.4 46.4h0M554.8 50.4h0M523.8 87.5h0M539.9 62.2h0M512.8 104h0M547.9 50.4h0M485.4 121.5h0M504.4 99.1h0M533.9 87h0M531.4 67.4h0M524.9 80.4h0M499.4 92.3h0M549.4 73.3h0M553.4 71.2h0M538.3 61.9h0M529.8 69.6h0M480.8 131.3h0M529.5 73h0M542.3 55.5h0M533.6 60.8h0M458.4 135.7h0M461.1 146.8h0M588.7 15.1h0M593.2 28.3h0M596 41.4h0" stroke="#000" stroke-width="2.2" stroke-linecap="round" fill="none"/>
<rect x="453" y="9.2" width="148.7" height="142.2" fill="none" stroke="#111" stroke-width="1.1"/>
<line x1="483.0" y1="151.4" x2="483.0" y2="155.0" stroke="#111" stroke-width="1"/>
<text x="483.0" y="165" font-size="6.8" text-anchor="middle">2</text>
<line x1="519.4" y1="151.4" x2="519.4" y2="155.0" stroke="#111" stroke-width="1"/>
<text x="519.4" y="165" font-size="6.8" text-anchor="middle">4</text>
<line x1="555.9" y1="151.4" x2="555.9" y2="155.0" stroke="#111" stroke-width="1"/>
<text x="555.9" y="165" font-size="6.8" text-anchor="middle">6</text>
<line x1="592.3" y1="151.4" x2="592.3" y2="155.0" stroke="#111" stroke-width="1"/>
<text x="592.3" y="165" font-size="6.8" text-anchor="middle">8</text>
<line x1="449.4" y1="136.7" x2="453.0" y2="136.7" stroke="#111" stroke-width="1"/>
<text transform="translate(445.8 136.7) rotate(-90)" font-size="6.8" text-anchor="middle">1</text>
<line x1="449.4" y1="116.4" x2="453.0" y2="116.4" stroke="#111" stroke-width="1"/>
<text transform="translate(445.8 116.4) rotate(-90)" font-size="6.8" text-anchor="middle">2</text>
<line x1="449.4" y1="96.2" x2="453.0" y2="96.2" stroke="#111" stroke-width="1"/>
<text transform="translate(445.8 96.2) rotate(-90)" font-size="6.8" text-anchor="middle">3</text>
<line x1="449.4" y1="75.9" x2="453.0" y2="75.9" stroke="#111" stroke-width="1"/>
<text transform="translate(445.8 75.9) rotate(-90)" font-size="6.8" text-anchor="middle">4</text>
<line x1="449.4" y1="55.6" x2="453.0" y2="55.6" stroke="#111" stroke-width="1"/>
<text transform="translate(445.8 55.6) rotate(-90)" font-size="6.8" text-anchor="middle">5</text>
<line x1="449.4" y1="35.3" x2="453.0" y2="35.3" stroke="#111" stroke-width="1"/>
<text transform="translate(445.8 35.3) rotate(-90)" font-size="6.8" text-anchor="middle">6</text>
<line x1="449.4" y1="15.1" x2="453.0" y2="15.1" stroke="#111" stroke-width="1"/>
<text transform="translate(445.8 15.1) rotate(-90)" font-size="6.8" text-anchor="middle">7</text>
<text x="461.8" y="19.7" font-size="7.5">p−value = 0</text>
<text x="461.8" y="28.1" font-size="7.5">R = 0.82</text>
<text x="527.4" y="176.5" font-size="8.6" text-anchor="middle">log2(<tspan fill="#e8202a">TPX2</tspan> TPM)</text>
<text transform="translate(433.5 80.3) rotate(-90)" font-size="8.6" text-anchor="middle">log2(<tspan fill="#e8202a">PLK1</tspan> TPM)</text>
<path d="M744.9 64.5h0M757.9 66.8h0M741.6 88.1h0M688.3 110.9h0M736.6 71.5h0M725.5 79.1h0M762.3 48.3h0M752.6 59.1h0M725.5 89.1h0M764.5 52.5h0M763.2 46.8h0M756.4 63.9h0M717.5 98.9h0M754.8 42.3h0M750.7 58.7h0M712.9 105.3h0M750.5 41.6h0M747.6 49.5h0M692.9 118.5h0M738.6 89.3h0M705.8 98.1h0M744.5 53.4h0M733.5 83.9h0M749.8 45.5h0M708.5 110.4h0M735.9 78.4h0M712.4 104.1h0M736.9 73.3h0M701 112.5h0M741 56.6h0M738.8 76.1h0M741.8 65.1h0M766.9 38.3h0M725.1 85.6h0M755.5 61.9h0M715.3 98.1h0M732.8 67.1h0M743.4 59.5h0M716.3 105.8h0M744.1 70.7h0M752.8 66.8h0M720.6 98.2h0M739.3 78.2h0M734.3 88.8h0M699.8 109.6h0M737.5 65.8h0M727.3 84.1h0M763.1 49h0M726 85.5h0M711.1 107.6h0M731.7 71.4h0M749.7 87.4h0M748.2 58h0M700.5 111.6h0M755.8 50.7h0M764.1 45.5h0M769.7 52.7h0M734.8 77.9h0M719.7 96.6h0M695.8 117.1h0M721.6 91.8h0M753.4 61h0M747 40.6h0M742.6 80.5h0M734.8 80.8h0M729.9 93.7h0M735.9 77.5h0M713.1 88.4h0M711 102.3h0M688.2 127.6h0M716.2 107.2h0M738 68.7h0M730 88.7h0M734.4 72h0M723.1 95.6h0M721.3 96.1h0M694.1 118.2h0M722.4 103.9h0M733.6 88.9h0M710 102h0M675.8 130.9h0M722.6 71.2h0M699.3 110h0M736.2 68h0M745.7 69.9h0M715.3 98.9h0M740.6 70.9h0M720.2 84.3h0M739.9 80.9h0M698.1 111.7h0M748.6 32.7h0M747.8 72.1h0M728.7 99.8h0M755.2 59h0M720.1 94h0M689 112.8h0M752.3 52h0M735.4 66.2h0M719 99.7h0M750.8 59.3h0M711.2 99.7h0M696.1 121.3h0M722 88.6h0M754.6 57.2h0M737.7 71.8h0M702.8 119.2h0M706.4 120.6h0M775.2 11.6h0M770.6 33.4h0M731 82.2h0M741.8 44.6h0M732 71.2h0M755.4 48.3h0M741 76.3h0M722.1 87.6h0M753.1 53.3h0M750.8 61.2h0M718.2 83.5h0M734.3 70.7h0M745 59.8h0M740.4 78.3h0M749.2 67.3h0M753.8 43.2h0M749.5 57.6h0M738.5 77.8h0M717.8 92.4h0M750.8 58.1h0M763.9 46.9h0M717.3 96.8h0M739.9 63.9h0M739.8 68h0M764.7 50.8h0M711.8 106.3h0M686.7 122.2h0M752.4 67.2h0M727.6 83.5h0M706 107.3h0M726.6 96.7h0M738 95.5h0M738.3 80.7h0M732.5 79.5h0M727.7 84.7h0M726.5 75.3h0M691 120.3h0M739.4 72.5h0M733.8 74.8h0M706.6 109.1h0M751.9 39.5h0M754.6 60h0M726.9 92.9h0M740.7 75.1h0M734.8 66.2h0M725.6 91.7h0M715.3 103.5h0M738.7 67.3h0M725.7 77.1h0M776.4 31.2h0M738.7 66.3h0M736.6 81.2h0M700.2 103.2h0M771.8 45h0M724.6 90.5h0M737.6 78h0M727.4 93.1h0M738.3 74.1h0M710.3 97.9h0M758.8 58h0M716.6 81.8h0M740 69.1h0M767.4 34.4h0M731.8 87.4h0M675.8 133.4h0M683.3 122.3h0M696.5 121.9h0M701 116.1h0M760.1 56.6h0M732.5 91.4h0M709.4 99.2h0M744.8 73.8h0M741.7 53.9h0M757.1 64.6h0M755.6 56.8h0M706 106.6h0M747 73.3h0M710.2 118.4h0M759 56h0M714.1 99.3h0M758.5 59.8h0M758.2 47.2h0M735.5 93.5h0M737.8 71.3h0M708.3 90h0M705.7 100.6h0M709.6 96.4h0M742.9 71.7h0M729.2 87.2h0M752.3 45.6h0M716.9 98.9h0M747.9 56h0M727.4 93.7h0M710.8 99.6h0M753.4 54.1h0M750.6 81.9h0M682.7 128.2h0M733.3 74h0M735.7 71.5h0M738 70.4h0M731.8 69.4h0M706.6 106.8h0M753.5 63.7h0M715.3 91h0M688 111.3h0M735.2 80.1h0M744.7 51.4h0M713.3 101.2h0M760.6 63.3h0M723.6 96.8h0M753.3 65h0M706.8 98.1h0M727 85h0M687.8 126.4h0M746 63.4h0M762.4 29.3h0M759.9 48.7h0M731.5 87.4h0M738.9 69.4h0M745.3 73.7h0M701.6 107.7h0M729.3 74.8h0M729.8 81.2h0M767.1 43.8h0M729.6 82h0M688.2 131h0M740.8 55.8h0M712.5 83.3h0M777.7 24.6h0M724.3 105.8h0M751 65.7h0M769.2 52.8h0M731.7 97.4h0M720 94.3h0M758.1 52h0M741.7 75.7h0M720.1 84.3h0M722.5 90.3h0M734.1 87h0M710.9 99.2h0M711.9 110.6h0M751.6 61.7h0M700.1 117.9h0M697.1 113.3h0M764.7 44.9h0M761.3 52.6h0M713.7 97.6h0M761.1 41.3h0M746.1 62.1h0M738.5 62.9h0M722.4 99.2h0M707.4 102.8h0M727.1 71.6h0M740.3 71.2h0M720.9 110h0M710.4 95.8h0M716.3 98.5h0M695.1 113h0M735.7 73.9h0M738.2 67.9h0M762.9 30.7h0M735.2 75.8h0M750.7 51.1h0M722.9 100.8h0M746.1 73.3h0M742.6 69.8h0M743.6 52.2h0M732.8 87h0M718 97.9h0M735.6 70.5h0M732.8 84.3h0M757.9 64.3h0M705.1 121.4h0M720.5 86.4h0M751.1 70.2h0M732.6 76.8h0M748.3 56.8h0M732.6 88.8h0M716 93.9h0M757.7 73.7h0M748.2 63.3h0M720.1 101.4h0M708.9 102.6h0M710.7 101.1h0M722.4 89.2h0M701.6 107.1h0M719.7 98.6h0M765.3 57.6h0M734.6 88.9h0M763.7 32.1h0M760.1 59.1h0M733.3 82.2h0M698.6 111.6h0M754.9 55.8h0M750.9 69.2h0M780.1 47.9h0M764.6 31.5h0M753.8 61.6h0M769 55.3h0M723.1 95.3h0M743.9 66.7h0M736.1 94h0M769.9 33.7h0M750.2 59.8h0M698.3 111.3h0M763.7 43.2h0M709.7 110.7h0M753.8 72.6h0M732.7 81.6h0M744.9 71.2h0M751.5 42.7h0M744.1 69.9h0M724.8 84.9h0M764.3 41.9h0M747.5 80.6h0M740.6 63.9h0M731.9 84.9h0M731.9 93.5h0M772.5 27.2h0M744.7 54.4h0M747 64.9h0M746.7 66.8h0M725.6 92.9h0M721.2 95.5h0M744.6 55.7h0M746.8 63.1h0M763.5 39h0M748.5 56.2h0M699.8 131.9h0M749.8 58.8h0M754.8 48.5h0M757.8 48.5h0M746.5 79h0M707.4 111.3h0M760.4 40.2h0M703.8 106.5h0M708.6 101.5h0M707.4 113.9h0M753.8 52.9h0M727.8 73h0M759.1 48.8h0M770.5 19.1h0M760.5 38h0M721.4 85.4h0M725.1 93.7h0M726.3 92.3h0M752 64.7h0M746.7 52.8h0M743.6 55.7h0M746.1 75h0M750.6 72.6h0M751.8 56.8h0M769.2 21.4h0M740 69.4h0M688.2 119.6h0M709.8 100.1h0M718.7 90.2h0M729.2 84.9h0M721 88.6h0M707.3 101.1h0M758.3 51.4h0M719.4 80.8h0M732.7 89.4h0M732.2 83.9h0M743 76.6h0M731.6 71.8h0M747.9 52h0M745.8 72.5h0M746.5 63.7h0M753.5 60.7h0M741.2 83.4h0M684.5 130.6h0M770.2 31.4h0M739.9 66.7h0M754 63h0M721.9 91.5h0M733 72.4h0M733 67.5h0M726.9 83.3h0M727.1 92.8h0M730.5 96h0M733.5 78.5h0M761 50.2h0M738.4 79.1h0M759.7 55.9h0M709.1 108.2h0M755.1 52.6h0M730.4 76.7h0M743.1 76.1h0M732.9 63.4h0M754.5 40.1h0M757.4 53.9h0M744.5 63.7h0M754.9 38.5h0M721.1 99.5h0M726.3 91.9h0M747.7 68.9h0M754.3 65.5h0M702.8 105.4h0M695.3 118.2h0M734.5 77.1h0M737.4 74h0M746 66.8h0M716.5 85.4h0M721.5 93.1h0M711.3 108.2h0M724 100.4h0M729.4 89.3h0M714.7 97.3h0M701.8 109.9h0M732.9 77.1h0M739 76.7h0M723.4 86.2h0M727.9 81.2h0M705.4 115.9h0M746.4 60.5h0M698.8 111.2h0M746.3 67.1h0M743.4 57.4h0M742.9 67.9h0M766.9 47.6h0M733.5 70.7h0M747.2 46h0M747.2 74.7h0M736.2 76.6h0M720.6 85.7h0M693.8 114.5h0M744.5 56.7h0M740.9 58.3h0M740.5 87.8h0M740.4 64.7h0M691.3 129.7h0M744.9 75.2h0M701.2 118.6h0M739.5 67.7h0M708.3 116.5h0M734 77.5h0M723.5 101.9h0M735.5 58.8h0M731.8 85.4h0M748.5 62.1h0M735.3 87.5h0M733 84.6h0M733.2 67.7h0M765.1 38.7h0M750.9 70.8h0M747.8 67.7h0M719.8 94.7h0M682.4 118.8h0M718 96.2h0M711.4 98.7h0M705.5 100.4h0M699.2 98.1h0M716.2 92.2h0M760.1 59.3h0M753.1 66.6h0M709.9 91.2h0M735.6 73h0M763.8 64.4h0M758.7 55.1h0M711.8 104.8h0M707 108.5h0M719.9 88.3h0M722.4 85.4h0M728.8 72.6h0M770.4 56.5h0M696.6 113.9h0M735.8 78.3h0M734 87.9h0M750.7 50.7h0M751.1 72.2h0M724.2 100.4h0M764.1 24.7h0M721.4 88.5h0M734.9 70h0M747.1 50.5h0M768.2 52.1h0M708.9 94.6h0M744.3 65.7h0M761.4 40.3h0M750 51.9h0M699.6 108.9h0M756.9 55.7h0M743.9 67.3h0M719.2 92.8h0M754.9 43.1h0M713.9 115.9h0M766.3 23.8h0M706.2 113.2h0M724.1 71h0M696.7 112.6h0M746.7 46.5h0M728.7 85.9h0M745.9 47.8h0M757.8 46h0M725.4 84h0M702.6 107.1h0M737.5 97.3h0M696.5 125h0M706.1 118.1h0M758.2 49.1h0M697.3 116.4h0M733.4 71.6h0M750.7 55.5h0M719.1 84.2h0M713.1 105.4h0M749.1 57.5h0M739.6 76.7h0M737.1 85.6h0M741.9 86.3h0M685.4 125.9h0M701.9 117h0M732.3 85h0M691.1 126.2h0M732.6 89.7h0M704.5 89.2h0M739.9 71.4h0M702.9 118.8h0M731.5 82.9h0M770 35.1h0M709.6 114.3h0M718.6 86.4h0M752.5 66.8h0M713.3 96.2h0M749.7 65.2h0M741.9 77.5h0M744 35.9h0M704.9 112.5h0M724.4 101.6h0M714.4 103.1h0M755.9 63.9h0M737.3 65h0M744.3 62.8h0M731.8 91.6h0M705.6 95.4h0M718.2 97.2h0M701 120.6h0M726.4 77.7h0M733.1 73.8h0M715 106.4h0M707.4 114h0M733.3 80.9h0M735.8 82.9h0M690.4 118.2h0M728.9 81.8h0M697.5 122.8h0M739.3 83.1h0M714.5 101h0M737.1 63.3h0M768.7 44.8h0M742.9 62.9h0M745.9 71.8h0M713 97.3h0M756.7 58.6h0M689.5 119.8h0M739.1 81.5h0M723.1 96.6h0M749.8 41h0M718 88.4h0M761.1 60.9h0M739.1 62.1h0M714 101h0M735.6 64.7h0M769.3 52.4h0M725 89.4h0M717.5 99.6h0M748 70.1h0M684.8 132.6h0M697.9 102.5h0M724.5 89.1h0M742.6 72.4h0M744.9 83h0M759.1 37.3h0M775.4 15h0M737.6 76.4h0M761.2 62.2h0M733.7 74h0M723.8 89.7h0M726.6 99.2h0M746.4 43.9h0M724.4 83h0M754.3 65.9h0M730.2 90h0M740.7 63.7h0M738 63.1h0M733.8 73.5h0M741.6 65.1h0M757.5 55.3h0M702.6 96.4h0M744.5 69.4h0M736.5 73.6h0M724.1 85.9h0M744.2 69.6h0M724.7 81.9h0M738.1 59.2h0M760.2 72.2h0M705.6 108.9h0M743.6 55.2h0M746.9 49.5h0M723.4 93.6h0M748.2 55.3h0M745.3 63.6h0M733.6 77.4h0M759.7 55h0M717.5 87.8h0M705 99.6h0M735.5 61.9h0M721.7 89.2h0M736.5 74.2h0M733.6 68.4h0M753.2 21.2h0M714.4 100.5h0M736.2 76.5h0M731.8 64.8h0M765.8 53.2h0M720.7 112.8h0M757.2 40.4h0M710 92.8h0M680.9 122h0M737.1 65.2h0M745.7 53.8h0M727.6 90.9h0M706.6 98.7h0M709.3 110.8h0M709.4 114.9h0M742.9 70.2h0M724.8 98.8h0M754.4 66.1h0M726.8 91.4h0M726.9 89.4h0M718.9 93h0M759 60h0M772.1 39.2h0M723 91.2h0M707.7 104.1h0M755.6 48.1h0M774.6 19.6h0M699 112h0M741.5 65.4h0M749.9 53h0M714.3 98.9h0M687.6 122.4h0M742.4 77.5h0M702.4 108.7h0M729.3 74.7h0M746.1 71h0M728.9 72.3h0M749.2 66h0M741.7 59.1h0M732.7 64.5h0M715.3 96.1h0M766.7 43.7h0M757.6 45.7h0M753.8 59.5h0M727.9 92.6h0M733.2 69.7h0M767 60.8h0M751.5 48.6h0M711.4 107.5h0M698.5 107.9h0M741.4 74.7h0M691 109.7h0M708.8 107.9h0M760.1 72.3h0M749 31.3h0M735.8 75.9h0M712.7 101.4h0M696.7 115.6h0M739.1 75.6h0M753.7 52.3h0M733 86.2h0M757.8 26.9h0M704.5 113.1h0M726.7 80.6h0M692.4 111.3h0M719.5 95.4h0M714.3 92.3h0M736.7 80.2h0M744.8 75.8h0M688.1 127.6h0M739.1 62.3h0M718.3 86.6h0M778.8 34.7h0M744.6 56.3h0M734.9 85.5h0M735 75.5h0M716.7 91h0M750 81.1h0M716.8 91.6h0M766 43.7h0M757.9 66.5h0M754 48h0M709 102.1h0M734.7 74.3h0M732 83h0M710 108.2h0M718.6 105.2h0M737.1 77.1h0M734 88h0M703.2 112.8h0M739.3 68.7h0M708.3 99.2h0M740.1 67.6h0M763.4 40.6h0M708 107.2h0M726.9 78h0M712.4 92.1h0M717.4 99.8h0M730.5 86.2h0M740.6 80.4h0M717.6 98.1h0M744.7 70.7h0M746.6 44.6h0M718.5 84.1h0M740.2 84.5h0M757.9 42.2h0M736.9 77.5h0M747.1 81.1h0M724.2 86.9h0M735.9 82.7h0M756.3 49.2h0M710.6 98.9h0M723.3 95.4h0M748.7 46.6h0M754.4 53.4h0M753.4 64.3h0M729.2 98h0M747.7 40.5h0M763 53.3h0M743.9 66.7h0M759.9 45.1h0M761.9 35.8h0M739.5 85.3h0M751.2 84.1h0M735.2 76.2h0M702 121h0M738.6 76.1h0M730.9 63.7h0M739.7 77.9h0M739 66.7h0M746.6 75.5h0M748 32.5h0M720.7 95.8h0M729.3 80.3h0M746.3 66.2h0M748.3 68.6h0M741.7 59.7h0M784.4 19.3h0M759.1 59.5h0M739 78.2h0M752.6 60.6h0M762.8 43.8h0M746.5 63.3h0M711.3 108.4h0M742.1 74.8h0M688.8 111h0M776.2 30.9h0M709.7 94h0M766.5 45.6h0M685.3 124h0M756.2 60.1h0M735.7 95.5h0M743.6 73.8h0M715.5 91.7h0M742.1 57.9h0M696 110.1h0M739.3 78.6h0M733.9 82.4h0M737.1 86.6h0M732.3 78.7h0M738.7 66.4h0M763.6 42h0M721.2 99h0M713 98.1h0M740.5 71.2h0M769.1 32h0M758.4 53h0M763 43h0M761.8 54.8h0M728.7 92.3h0M742.9 94.1h0M696.3 115.2h0M730.7 81.4h0M751.1 69.7h0M714.9 87.3h0M706.4 98.7h0M719.2 81h0M744.7 68.3h0M760.6 50.8h0M702.5 108.6h0M765.1 31.7h0M715.7 86.4h0M702.2 117.5h0M743.7 69.8h0M759 72.1h0M714.1 101.7h0M732.5 72.3h0M733.8 72.9h0M741.9 47.1h0M738.4 67.6h0M750.1 64.9h0M759.2 57.8h0M742.7 66.5h0M754.1 38.1h0M775 44.6h0M724.4 97.1h0M724 88.8h0M750.2 63.9h0M772.7 21.5h0M744.5 71.6h0M760 47.9h0M736.6 76.1h0M757.1 49.6h0M731.3 69.5h0M753.1 70.5h0M707.7 118.2h0M748.5 77.6h0M765 45.5h0M759.9 47.3h0M732 76.2h0M756.9 48.9h0M713.6 99.1h0M758.7 69.6h0M682.5 131.6h0M689.7 119.5h0M743.4 80.5h0M756.3 58.3h0M734.8 81.9h0M697.4 112.2h0M737.9 82.8h0M735.4 92.8h0M744.6 70.5h0M699.6 115.3h0M713.5 93.8h0M777.4 33.5h0M745 68.8h0M714.3 103.4h0M760.8 52.9h0M742.2 49.4h0M746.1 90.6h0M754.6 48.8h0M727.7 92.6h0M693.4 118.4h0M741 85.9h0M746.8 62.4h0M759.5 58h0M716.6 92.7h0M738.3 61.3h0M749.4 74.2h0M737.4 90.2h0M715 89.9h0M718.3 79.9h0M726 87.4h0M719.5 110.9h0M727.3 99.6h0M743.3 59h0M737.2 58.9h0M730.8 83.4h0M751.7 72.7h0M759.7 36.2h0M707.9 115.4h0M752.4 64.9h0M700.4 116.8h0M757.1 59h0M715.6 93.9h0M698.4 120.8h0M751.4 57.4h0M752.1 46.7h0M717.2 88h0M695.6 108.5h0M770.4 39.7h0M734 94.5h0M714.9 97.4h0M721.7 90.1h0M696.8 114h0M696.9 118.2h0M742.3 65h0M762.5 56.9h0M676.7 128.7h0M750.2 42h0M694.2 117.3h0M735.9 76.1h0M747.2 57.4h0M735.7 71.8h0M731.5 76.4h0M753.2 54.5h0M728.4 87.3h0M743.4 52.6h0M728.8 94.8h0M740.6 60.6h0M733.2 87.4h0M760.3 42.6h0M743.3 77.6h0M743.2 83.5h0M711.3 109.9h0M693.3 124.8h0M723.1 79.4h0M695.8 120.5h0M741.5 77.2h0M749 71.8h0M752.4 58.1h0M708.3 105.4h0M726.9 81.7h0M770.8 42.9h0M746.5 76.8h0M737 76.1h0M722.6 83.9h0M748.4 54.9h0M733.1 88.8h0M733.7 83.7h0M744.7 63.5h0M744.9 72.4h0M727.4 98h0M762.2 43.6h0M724.4 92.2h0M722.4 88.8h0M746.3 56.5h0M707.6 109.4h0M694.4 125h0M734.2 85.6h0M741.8 62.7h0M731.6 80.6h0M713.4 94.4h0M753.3 60.3h0M724 83.4h0M737.2 79.8h0M720 98.8h0M741.4 70.6h0M717.5 97.1h0M687.2 125.5h0M742.4 68.9h0M763.7 33.1h0M736.7 82h0M716.9 110.4h0M760.1 43.8h0M725.4 72.1h0M703.5 102.5h0M702 119.1h0M729.6 79.6h0M733.3 69.5h0M701.5 105.6h0M737.4 58h0M707.1 100.3h0M685.9 140.6h0M738.8 68h0M722.5 97.4h0M714.7 106h0M770.2 55.6h0M748.4 75.4h0M756.1 57.1h0M724.5 79.8h0M740.2 60.9h0M737.3 69h0M716.9 87.1h0M749.9 64.7h0M737.3 83h0M715.3 83.7h0M757.3 46.6h0M753.4 60.1h0M747.3 56.2h0M725.5 94.2h0M731.7 67.2h0M761.2 61.4h0M736.1 81.5h0M745.2 68h0M743.1 70.5h0M721.9 101.9h0M729.7 75.8h0M707.4 101.5h0M744.4 66.4h0M739.2 67.4h0M719 98.2h0M746.3 55.1h0M749.4 67h0M741.6 80.5h0M726.8 87.9h0M748.2 64.5h0M759.4 45.1h0M712.1 96.3h0M769.6 16.2h0M755.1 68.4h0M753.6 72.8h0M730.4 80h0M722.8 79.7h0M732 71.5h0M709.5 104.6h0M749.4 63.3h0M766 43.7h0M759.9 28.5h0M743.7 69.5h0M704.9 105.8h0M736.1 87.3h0M734.7 69.2h0M713.7 100.6h0M756 55.6h0M732.9 82.1h0M734.9 78.5h0M706.5 87.4h0M732.3 74.6h0M737.1 68.7h0M704.3 113.7h0M747.2 77.3h0M735.9 95.9h0M744.3 72.4h0M747.3 61.4h0M710 101.3h0M781.5 37.9h0M744 60.5h0M726.1 91.5h0M711.7 93h0M752.2 59.8h0M714.5 98.2h0M736.1 82.6h0M746.4 70.9h0M701.6 110.8h0M736.9 69.5h0M727.5 79h0M765.1 49.2h0M747.3 75.4h0M740 67.4h0M705.2 98.7h0M745.7 69.6h0M740.2 75.2h0M747.6 67.1h0M684.8 123.9h0M746.7 54.1h0M745.6 74.2h0M732.1 76.3h0M701.3 101.7h0M748.2 55.8h0M705.2 112.9h0M752.7 71.5h0M756.1 51.9h0M747.1 49.6h0M751.5 49.6h0M736.5 62h0M738.5 76.3h0M760.2 46.4h0M708.7 109.9h0M697.9 110.7h0M711.6 102.7h0M767.7 46.6h0M714.2 101.6h0M748.4 55.7h0M769.5 25h0M767.1 29.3h0M694.3 103.2h0M716.7 90.2h0M717.8 102.1h0M753.8 43.5h0M735.2 84.1h0M741.8 79.4h0M746 56.9h0M748.5 67h0M750.5 58.5h0M722 94.6h0M714.6 99.5h0M765.9 59.1h0M695.4 110.7h0M762.1 30.8h0M731.3 82.7h0M710.6 92.9h0M732.6 71.5h0M735.2 65.4h0M711.4 90.4h0M736.6 85.8h0M722.9 82.8h0M755.5 53.9h0M731.6 73.5h0M763.8 45h0M738.7 53h0M729.4 68.1h0M748.6 60.8h0M756.1 46.8h0M725.8 84.4h0M736.5 72.3h0M765.2 29.7h0M724.5 95.7h0M727 97h0M744 55.1h0M720.9 88.7h0M717.3 98.6h0M713.3 104.2h0M747.5 76.6h0M705.9 108.3h0M751.2 75.2h0M697.4 113.5h0M720.6 89.6h0M752.6 62.8h0M760.6 35.1h0M729.6 75.9h0M757.1 48.5h0M683.1 130.8h0M744.5 72.1h0M747.4 71.7h0M716.4 111.4h0M765.8 39.7h0M696.1 111.2h0M739.6 85.8h0M733 75.8h0M704.1 110.2h0M748.5 60.2h0M741.7 62.5h0M765 30.7h0M703.7 113.5h0M702.3 105.2h0M693 121.1h0M736.6 98.7h0M736.4 56.7h0M726.7 85.7h0M726.9 88.5h0M733.7 66.4h0M758.8 44.1h0M773.1 37.5h0M760.5 44.7h0M729.5 80.3h0M745.6 67h0M718.5 113.4h0M753.6 54h0M691.1 125.9h0M710.1 110.6h0M739.6 71.6h0M737.1 54.9h0M730.6 92.4h0M705.1 105.6h0M755.1 69.4h0M759.1 66.4h0M744 70.5h0M735.5 68.2h0M686.5 122.9h0M735.2 74.4h0M748 50.1h0M739.3 67.7h0M664.1 135.1h0M666.8 146.3h0M794.4 29.5h0M798.9 18.7h0M801.7 18.7h0M774.3 14.5h0" stroke="#000" stroke-width="2.2" stroke-linecap="round" fill="none"/>
<rect x="658.7" y="9.2" width="148.7" height="142.2" fill="none" stroke="#111" stroke-width="1.1"/>
<line x1="688.7" y1="151.4" x2="688.7" y2="155.0" stroke="#111" stroke-width="1"/>
<text x="688.7" y="165" font-size="6.8" text-anchor="middle">2</text>
<line x1="725.1" y1="151.4" x2="725.1" y2="155.0" stroke="#111" stroke-width="1"/>
<text x="725.1" y="165" font-size="6.8" text-anchor="middle">4</text>
<line x1="761.6" y1="151.4" x2="761.6" y2="155.0" stroke="#111" stroke-width="1"/>
<text x="761.6" y="165" font-size="6.8" text-anchor="middle">6</text>
<line x1="798.0" y1="151.4" x2="798.0" y2="155.0" stroke="#111" stroke-width="1"/>
<text x="798.0" y="165" font-size="6.8" text-anchor="middle">8</text>
<line x1="655.1" y1="148.4" x2="658.7" y2="148.4" stroke="#111" stroke-width="1"/>
<text transform="translate(651.5 148.4) rotate(-90)" font-size="6.8" text-anchor="middle">0</text>
<line x1="655.1" y1="127.0" x2="658.7" y2="127.0" stroke="#111" stroke-width="1"/>
<text transform="translate(651.5 127.0) rotate(-90)" font-size="6.8" text-anchor="middle">1</text>
<line x1="655.1" y1="105.5" x2="658.7" y2="105.5" stroke="#111" stroke-width="1"/>
<text transform="translate(651.5 105.5) rotate(-90)" font-size="6.8" text-anchor="middle">2</text>
<line x1="655.1" y1="84.1" x2="658.7" y2="84.1" stroke="#111" stroke-width="1"/>
<text transform="translate(651.5 84.1) rotate(-90)" font-size="6.8" text-anchor="middle">3</text>
<line x1="655.1" y1="62.7" x2="658.7" y2="62.7" stroke="#111" stroke-width="1"/>
<text transform="translate(651.5 62.7) rotate(-90)" font-size="6.8" text-anchor="middle">4</text>
<line x1="655.1" y1="41.2" x2="658.7" y2="41.2" stroke="#111" stroke-width="1"/>
<text transform="translate(651.5 41.2) rotate(-90)" font-size="6.8" text-anchor="middle">5</text>
<line x1="655.1" y1="19.8" x2="658.7" y2="19.8" stroke="#111" stroke-width="1"/>
<text transform="translate(651.5 19.8) rotate(-90)" font-size="6.8" text-anchor="middle">6</text>
<text x="667.5" y="19.7" font-size="7.5">p−value = 0</text>
<text x="667.5" y="28.1" font-size="7.5">R = 0.81</text>
<text x="733.1" y="176.5" font-size="8.6" text-anchor="middle">log2(<tspan fill="#e8202a">TPX2</tspan> TPM)</text>
<text transform="translate(639.2 80.3) rotate(-90)" font-size="8.6" text-anchor="middle">log2(<tspan fill="#e8202a">KIF20A</tspan> TPM)</text>
<path d="M950.9 94.7h0M963.9 85h0M947.6 95.1h0M894.3 133h0M942.6 100.4h0M931.5 109.9h0M968.3 75.2h0M958.6 89.2h0M931.5 118.9h0M970.5 75.5h0M969.2 44.9h0M962.4 62.5h0M923.5 102.6h0M960.8 75.8h0M956.7 83.4h0M918.9 111.6h0M956.5 86.5h0M953.6 72.6h0M898.9 131.5h0M944.6 86.7h0M911.8 129.8h0M950.5 68.9h0M939.5 97.9h0M955.8 75.4h0M914.5 127.7h0M941.9 104.7h0M918.4 112.9h0M942.9 113.6h0M907 118h0M947 98.8h0M944.8 84.7h0M947.8 98.6h0M972.9 62.9h0M931.1 107.1h0M961.5 65.5h0M921.3 123.7h0M938.8 95.2h0M949.4 86.8h0M922.3 108.9h0M950.1 98.3h0M958.8 79.4h0M926.6 118.5h0M945.3 98.2h0M940.3 88.4h0M905.8 119.4h0M943.5 105.7h0M933.3 107.5h0M969.1 68.1h0M932 116.1h0M917.1 122.9h0M937.7 112.4h0M979.1 47h0M955.7 93.9h0M954.2 68.9h0M906.5 141.8h0M961.8 69.4h0M970.1 58.4h0M975.7 67.4h0M940.8 116h0M925.7 111.2h0M901.8 139.1h0M927.6 101.3h0M959.4 77.7h0M953 86.4h0M948.6 89.8h0M940.8 91.4h0M935.9 103.9h0M941.9 92.3h0M919.1 115.2h0M917 124.1h0M894.2 128.4h0M922.2 102.1h0M944 84.3h0M936 102.4h0M940.4 92.5h0M929.1 119.7h0M927.3 118.9h0M900.1 137.8h0M928.4 115.8h0M987.8 31.2h0M939.6 108.4h0M916 125.9h0M928.6 116.7h0M905.3 140.4h0M942.2 88.6h0M951.7 89.5h0M921.3 108.8h0M946.6 78.9h0M926.2 108.4h0M945.9 90.4h0M904.1 128.4h0M954.6 89.3h0M953.8 109.6h0M934.7 103.2h0M961.2 85.2h0M926.1 121.4h0M895 138.7h0M958.3 80.7h0M941.4 91.5h0M925 122.3h0M956.8 96.4h0M917.2 111.2h0M902.1 126.9h0M928 103.8h0M960.6 80.9h0M943.7 110.4h0M908.8 116.3h0M912.4 113.9h0M981.2 59.9h0M976.6 52.6h0M937 92.2h0M947.8 65.7h0M938 89.9h0M961.4 70.2h0M947 94.9h0M928.1 114.8h0M959.1 80h0M956.8 89.5h0M924.2 108.6h0M940.3 97.9h0M951 90.9h0M946.4 103.7h0M955.2 82.3h0M959.8 82.3h0M955.5 78.9h0M944.5 104.8h0M923.8 108.4h0M956.8 83.1h0M969.9 42.5h0M923.3 121.3h0M945.9 73.1h0M945.8 63.3h0M970.7 65.3h0M917.8 102.3h0M892.7 128.9h0M958.4 93.4h0M933.6 110.5h0M912 115.4h0M932.6 103.2h0M944 86h0M944.3 90.1h0M938.5 86h0M933.7 107.2h0M932.5 115.8h0M897 137.5h0M945.4 93.7h0M939.8 108h0M912.6 122.9h0M957.9 82.1h0M960.6 80.3h0M932.9 106.1h0M946.7 96.1h0M940.8 88.3h0M931.6 105.9h0M921.3 109.4h0M944.7 109h0M931.7 106.5h0M982.4 55.4h0M944.7 114.3h0M942.6 75.7h0M906.2 136.7h0M977.8 44.6h0M930.6 101h0M943.6 83.4h0M933.4 109.4h0M944.3 120.9h0M916.3 114.8h0M964.8 72.9h0M922.6 109.1h0M946 94.4h0M973.4 44.5h0M937.8 95.9h0M881.8 143.2h0M889.3 123.5h0M902.5 133.8h0M907 142.5h0M966.1 68.6h0M938.5 95.5h0M915.4 115.9h0M950.8 93.4h0M947.7 91.1h0M963.1 83.4h0M961.6 80.2h0M912 117.8h0M953 90.8h0M916.2 114h0M965 74.2h0M920.1 115.9h0M964.5 75.7h0M964.2 58.7h0M941.5 96.1h0M943.8 103h0M914.3 120.3h0M911.7 114.2h0M915.6 118.2h0M948.9 100.9h0M935.2 110.7h0M958.3 91.1h0M922.9 102.9h0M953.9 82.2h0M933.4 97h0M916.8 112.8h0M959.4 81.9h0M956.6 69h0M888.7 138.6h0M939.3 96.5h0M941.7 117.7h0M944 96.1h0M937.8 105.3h0M912.6 128.8h0M959.5 76h0M921.3 126.9h0M894 136.9h0M941.2 123.8h0M950.7 90.8h0M919.3 123.7h0M966.6 49.3h0M929.6 107.6h0M959.3 72.1h0M912.8 145.7h0M933 110.4h0M893.8 142.8h0M952 72.9h0M968.4 56.3h0M965.9 69.8h0M937.5 100.5h0M944.9 93.7h0M951.3 88.7h0M907.6 122.1h0M935.3 98.6h0M935.8 105.2h0M973.1 71.6h0M935.6 88.5h0M894.2 138h0M946.8 100.5h0M918.5 99.7h0M983.7 46.8h0M930.3 110.1h0M957 97h0M975.2 72.8h0M937.7 88.4h0M926 115.2h0M964.1 59.5h0M947.7 102.9h0M926.1 105h0M928.5 108.6h0M940.1 103.2h0M916.9 133.8h0M917.9 107.8h0M957.6 78.7h0M906.1 127.5h0M903.1 123.1h0M970.7 76.8h0M967.3 51.2h0M919.7 110.3h0M967.1 61.8h0M952.1 79.4h0M944.5 100.9h0M928.4 111h0M913.4 118.3h0M933.1 110h0M946.3 78h0M926.9 103.4h0M916.4 108.2h0M922.3 127.5h0M901.1 119.8h0M941.7 101.8h0M944.2 102.2h0M968.9 69.8h0M941.2 83h0M956.7 75.6h0M928.9 105.3h0M952.1 74.5h0M948.6 78.1h0M949.6 76.3h0M938.8 90.4h0M924 110.6h0M941.6 91.7h0M938.8 113.2h0M963.9 74.1h0M911.1 140.3h0M926.5 112h0M957.1 79.2h0M938.6 107.5h0M954.3 89.4h0M938.6 89.7h0M922 118.1h0M963.7 72.6h0M954.2 62.7h0M926.1 108.8h0M914.9 113.5h0M916.7 115.8h0M928.4 104.5h0M907.6 117.9h0M925.7 114h0M971.3 54.3h0M940.6 103.1h0M969.7 70.7h0M966.1 62.7h0M939.3 105.7h0M904.6 146.9h0M960.9 79.2h0M956.9 66.7h0M986.1 58h0M970.6 57.6h0M959.8 82.3h0M975 78.7h0M929.1 112.4h0M949.9 113.7h0M942.1 85.3h0M975.9 63.4h0M956.2 78.2h0M904.3 129h0M969.7 84.7h0M915.7 124h0M959.8 64.9h0M938.7 92.9h0M950.9 92.4h0M957.5 89.3h0M950.1 90.1h0M930.8 120.2h0M970.3 62.8h0M953.5 103.6h0M946.6 100.9h0M937.9 93.6h0M937.9 101.8h0M978.5 63.9h0M950.7 87.2h0M953 89.1h0M952.7 83.8h0M931.6 97.7h0M927.2 112.4h0M950.6 107.1h0M952.8 81.8h0M969.5 76.8h0M954.5 71.9h0M905.8 121.1h0M955.8 83.3h0M960.8 72.1h0M963.8 91.1h0M952.5 105.6h0M913.4 125.3h0M966.4 66.6h0M909.8 115.2h0M914.6 127h0M913.4 129.8h0M959.8 88.3h0M933.8 112.6h0M965.1 70.2h0M976.5 76.2h0M966.5 61.4h0M927.4 123h0M931.1 87.4h0M932.3 108.2h0M958 79.5h0M952.7 104.5h0M949.6 86.8h0M952.1 107.8h0M956.6 72.7h0M957.8 88h0M975.2 56.4h0M946 88.4h0M894.2 129.6h0M915.8 110.2h0M924.7 104h0M935.2 97.2h0M927 117.1h0M913.3 131.4h0M964.3 64.4h0M925.4 110.2h0M938.7 106h0M938.2 101.9h0M949 80.6h0M937.6 93.2h0M953.9 91.8h0M951.8 101.7h0M952.5 107.5h0M959.5 84.1h0M947.2 95.6h0M890.5 145.2h0M976.2 44.8h0M945.9 74.1h0M960 87h0M927.9 104.3h0M939 101.8h0M939 95.1h0M932.9 104.8h0M933.1 106.9h0M936.5 94h0M939.5 93.2h0M967 74.7h0M944.4 90.3h0M965.7 78.5h0M915.1 121.6h0M961.1 69.9h0M936.4 98.6h0M949.1 106.7h0M938.9 94.9h0M960.5 91.3h0M963.4 71.6h0M950.5 81.3h0M960.9 94.3h0M927.1 121h0M932.3 99.4h0M953.7 81.8h0M960.3 101.6h0M908.8 118.8h0M901.3 135.1h0M940.5 110.7h0M943.4 93.6h0M952 94h0M922.5 115.1h0M927.5 108.8h0M917.3 100.1h0M930 100.5h0M935.4 101.6h0M920.7 116.1h0M907.8 124.1h0M938.9 95.9h0M945 100.9h0M929.4 104.9h0M933.9 111.8h0M911.4 128.3h0M952.4 87.7h0M904.8 121.5h0M952.3 77.8h0M949.4 121.3h0M948.9 77.7h0M972.9 61.7h0M939.5 99.3h0M953.2 70h0M953.2 93.7h0M942.2 107.9h0M926.6 129.3h0M899.8 139.7h0M950.5 80.1h0M946.9 101.1h0M946.5 103.9h0M946.4 89.2h0M897.3 140h0M950.9 96.6h0M907.2 133h0M945.5 90.1h0M914.3 127.4h0M940 104.7h0M929.5 111.3h0M941.5 116.6h0M937.8 104.4h0M954.5 104.6h0M941.3 110.5h0M939 105.6h0M939.2 99.6h0M971.1 68.3h0M956.9 70.3h0M953.8 84.3h0M925.8 108.1h0M888.4 141.4h0M924 120h0M917.4 106.5h0M911.5 136.7h0M905.2 120.5h0M922.2 122.4h0M966.1 63.5h0M959.1 94.4h0M915.9 117.2h0M941.6 95.3h0M969.8 92.7h0M964.7 80.8h0M917.8 114.4h0M913 115.5h0M925.9 110.4h0M928.4 115.8h0M934.8 105.5h0M976.4 75h0M902.6 137.2h0M941.8 96.1h0M940 100.1h0M956.7 74.6h0M957.1 79.9h0M930.2 104h0M970.1 67.7h0M927.4 106.3h0M940.9 74.8h0M953.1 97.1h0M974.2 59.5h0M914.9 125.4h0M950.3 84h0M967.4 64.2h0M956 92.1h0M905.6 127.2h0M962.9 72.6h0M949.9 90.8h0M925.2 110.6h0M960.9 61.4h0M919.9 112.7h0M972.3 66.6h0M912.2 121.7h0M930.1 90.9h0M902.7 134.3h0M952.7 74.3h0M934.7 110.9h0M951.9 104.6h0M963.8 81.9h0M931.4 104.6h0M908.6 127.8h0M943.5 103.2h0M902.5 135.6h0M912.1 130.9h0M964.2 85.8h0M903.3 133.9h0M939.4 124.6h0M956.7 77.3h0M925.1 110.8h0M919.1 117.5h0M955.1 73.9h0M945.6 100.2h0M943.1 96.7h0M947.9 118.9h0M891.4 135.8h0M907.9 129.6h0M938.3 95.6h0M897.1 128.3h0M938.6 102.9h0M910.5 134.3h0M945.9 90.4h0M908.9 119.8h0M937.5 93.5h0M976 65.5h0M915.6 128.3h0M924.6 116.2h0M958.5 92h0M919.3 135.8h0M955.7 79.3h0M947.9 87.3h0M950 82.7h0M910.9 131.1h0M930.4 109.3h0M920.4 127.5h0M961.9 93.5h0M943.3 92h0M950.3 108.8h0M937.8 105.4h0M911.6 106.4h0M924.2 104h0M907 122.6h0M932.4 101.6h0M939.1 102.8h0M921 121.9h0M913.4 107.3h0M939.3 102.5h0M941.8 104h0M896.4 130h0M934.9 105.3h0M903.5 120.8h0M945.3 101.1h0M920.5 124.1h0M943.1 100.8h0M974.7 40.3h0M948.9 80.9h0M951.9 84.7h0M919 117.6h0M962.7 71.2h0M895.5 140.7h0M945.1 89.4h0M929.1 114.3h0M955.8 80.4h0M924 114.1h0M967.1 66.1h0M945.1 99.3h0M920 109.6h0M941.6 94.5h0M975.3 69.1h0M931 104.1h0M923.5 117.5h0M954 80.8h0M890.8 132.2h0M903.9 132.7h0M930.5 108.8h0M948.6 90.1h0M950.9 88h0M965.1 48.1h0M981.4 46.6h0M943.6 107.5h0M967.2 68.2h0M939.7 105.2h0M929.8 87.2h0M932.6 112.4h0M952.4 98.6h0M930.4 101.9h0M960.3 83.7h0M936.2 106.8h0M946.7 95.1h0M944 102.3h0M939.8 103.7h0M947.6 114.6h0M963.5 75.1h0M908.6 121.3h0M950.5 68.8h0M942.5 96.3h0M930.1 101.2h0M950.2 96.6h0M930.7 94.9h0M944.1 72.5h0M966.2 66.5h0M911.6 126.3h0M949.6 88.9h0M952.9 69.1h0M929.4 120.4h0M954.2 70.4h0M951.3 98.2h0M939.6 107.8h0M965.7 67.8h0M923.5 108.8h0M911 116.8h0M941.5 83.6h0M927.7 120.7h0M942.5 96.1h0M939.6 92.1h0M959.2 75.6h0M920.4 107.6h0M942.2 96.7h0M937.8 104.2h0M971.8 91.1h0M926.7 128h0M963.2 64.8h0M916 129.4h0M886.9 137.3h0M943.1 89.6h0M951.7 88.4h0M933.6 96h0M912.6 127.8h0M915.3 116.2h0M915.4 121.8h0M948.9 105.8h0M930.8 126.1h0M960.4 79.6h0M932.8 91.1h0M932.9 95.3h0M924.9 109h0M965 62.5h0M978.1 43.7h0M929 111.7h0M913.7 112h0M961.6 72.9h0M980.6 58.6h0M905 101.2h0M947.5 84.7h0M955.9 83.8h0M920.3 110.6h0M893.6 142.8h0M948.4 103.6h0M908.4 111.9h0M935.3 97.9h0M952.1 98.4h0M934.9 119.5h0M955.2 84.5h0M947.7 102.5h0M938.7 87.7h0M921.3 132.4h0M972.7 47.3h0M963.6 85.8h0M959.8 92.7h0M933.9 105h0M939.2 112.8h0M973 69.6h0M957.5 87.3h0M917.4 139.2h0M904.5 137.3h0M947.4 88.5h0M897 147h0M914.8 132.4h0M966.1 82.1h0M955 73.8h0M941.8 88.7h0M918.7 106.4h0M902.7 136.8h0M945.1 86.2h0M959.7 76h0M939 113.6h0M963.8 67.8h0M910.5 124.9h0M932.7 112.9h0M898.4 140h0M925.5 127.2h0M920.3 113.2h0M942.7 92.6h0M950.8 91.8h0M894.1 137.8h0M945.1 100.9h0M924.3 107.5h0M984.8 44.4h0M950.6 108.2h0M940.9 98h0M941 94.1h0M922.7 120.6h0M956 88.3h0M922.8 120.4h0M972 55.9h0M963.9 78.6h0M960 78.8h0M915 120.9h0M940.7 83.6h0M938 116.5h0M916 102.1h0M924.6 124.3h0M943.1 98.9h0M940 107.8h0M909.2 124.8h0M945.3 88.7h0M914.3 103.6h0M946.1 81.1h0M969.4 75.5h0M914 120.5h0M932.9 105.3h0M918.4 124.3h0M923.4 109.6h0M936.5 100.5h0M946.6 97.7h0M923.6 120.6h0M950.7 81h0M952.6 87.9h0M924.5 103.4h0M946.2 84.3h0M963.9 88.1h0M942.9 118.3h0M953.1 85.6h0M930.2 115.1h0M941.9 108.3h0M962.3 84.1h0M916.6 108.6h0M929.3 111.7h0M954.7 63.1h0M960.4 68.7h0M959.4 99h0M935.2 100h0M953.7 68.8h0M969 89.5h0M949.9 103.2h0M965.9 72.6h0M967.9 75.6h0M945.5 76.5h0M957.2 91.3h0M941.2 81.2h0M908 136.9h0M944.6 103.9h0M936.9 99.4h0M945.7 88.4h0M945 93.1h0M952.6 68.8h0M954 64.7h0M926.7 94.3h0M935.3 105h0M952.3 77.2h0M954.3 87.6h0M947.7 76.5h0M990.4 71.4h0M965.1 80h0M945 96.7h0M958.6 85.4h0M968.8 47.8h0M952.5 101.9h0M917.3 126.2h0M948.1 104.1h0M894.8 135.1h0M982.2 62.3h0M915.7 113.2h0M972.5 51.6h0M962.2 100.7h0M941.7 89.5h0M949.6 85.5h0M921.5 129.7h0M948.1 91.6h0M902 139.1h0M945.3 85.7h0M939.9 112.9h0M943.1 102.8h0M938.3 96.5h0M944.7 94.2h0M969.6 53.4h0M927.2 107.6h0M919 130.7h0M946.5 90.4h0M975.1 74.2h0M964.4 55.5h0M969 47.7h0M967.8 54.7h0M934.7 83.5h0M948.9 81.8h0M902.3 120h0M936.7 93.5h0M957.1 71.3h0M920.9 109.4h0M912.4 121h0M925.2 97.2h0M950.7 100.4h0M966.6 89.4h0M908.5 131.8h0M971.1 44.8h0M921.7 118.3h0M908.2 132.3h0M949.7 98.8h0M965 66.7h0M920.1 117.8h0M938.5 89.1h0M939.8 103h0M947.9 81.8h0M944.4 104.2h0M956.1 76.5h0M965.2 35.2h0M948.7 92.8h0M960.1 79.5h0M981 38.8h0M930.4 117.6h0M930 113.1h0M956.2 88.6h0M978.7 51.4h0M950.5 103.6h0M966 53.5h0M942.6 95.5h0M963.1 72.2h0M937.3 103.7h0M959.1 79.4h0M913.7 140.5h0M954.5 70h0M971 75.8h0M965.9 61.1h0M938 103h0M962.9 77.1h0M919.6 113.5h0M964.7 52.2h0M888.5 138.9h0M895.7 138h0M949.4 84.8h0M962.3 104.6h0M940.8 107.3h0M903.4 136.5h0M943.9 99.3h0M941.4 112h0M950.6 79.3h0M905.6 130.3h0M919.5 116.6h0M983.4 48.2h0M951 91.6h0M920.3 122.7h0M966.8 54.3h0M948.2 82.3h0M952.1 70.5h0M960.6 79.3h0M933.7 102.9h0M899.4 129.7h0M947 95.8h0M952.8 86.6h0M965.5 91.1h0M922.6 125.5h0M944.3 104.8h0M955.4 96.2h0M943.4 91.6h0M921 113.5h0M924.3 110.3h0M932 109.5h0M925.5 103.9h0M933.3 97.2h0M949.3 83.8h0M943.2 99.8h0M936.8 87.5h0M957.7 94.4h0M965.7 91.2h0M913.9 132.4h0M958.4 66h0M906.4 126.8h0M963.1 81.4h0M921.6 135.9h0M904.4 130.5h0M957.4 92.4h0M958.1 104.3h0M923.2 105.4h0M901.6 130.5h0M976.4 39.8h0M940 99.7h0M920.9 111.9h0M927.7 117.2h0M902.8 125.6h0M902.9 132.7h0M948.3 84.5h0M968.5 65.3h0M882.7 147.1h0M956.2 82.1h0M900.2 130.4h0M941.9 104.7h0M953.2 87h0M941.7 88.4h0M937.5 89.8h0M959.2 78.3h0M934.4 126.6h0M949.4 81.7h0M934.8 86.8h0M946.6 95.3h0M939.2 108.8h0M966.3 66.8h0M949.3 87.6h0M949.2 80.5h0M917.3 124.6h0M899.3 120.4h0M929.1 101.3h0M901.8 137.5h0M947.5 80.7h0M955 85.1h0M958.4 71.9h0M914.3 118.9h0M932.9 105.7h0M976.8 53h0M952.5 91h0M943 103.9h0M928.6 112.2h0M954.4 87.5h0M939.1 96.4h0M939.7 97.8h0M950.7 106h0M950.9 79.1h0M933.4 106.1h0M968.2 57.6h0M930.4 102.2h0M928.4 107.7h0M952.3 80.4h0M913.6 133.5h0M900.4 120.9h0M940.2 79.8h0M947.8 84.7h0M937.6 106.8h0M919.4 112h0M959.3 82.6h0M930 93.8h0M943.2 100.7h0M926 122.5h0M947.4 100.6h0M923.5 120.8h0M893.2 131.2h0M948.4 91.2h0M969.7 62.7h0M942.7 100h0M922.9 103.5h0M966.1 70.4h0M931.4 105.3h0M909.5 113.3h0M908 124.1h0M935.6 108.5h0M939.3 102.4h0M907.5 118.2h0M943.4 91.9h0M913.1 128.6h0M891.9 129.2h0M944.8 109.5h0M928.5 129.4h0M920.7 124.9h0M976.2 82.2h0M954.4 86.4h0M962.1 74.9h0M930.5 110.7h0M946.2 99h0M943.3 106.8h0M922.9 106.8h0M955.9 104.7h0M943.3 88.5h0M921.3 114h0M963.3 74.7h0M959.4 73.3h0M953.3 102.7h0M931.5 98.3h0M937.7 96.6h0M967.2 55.7h0M942.1 118.2h0M951.2 85h0M949.1 91.5h0M927.9 131.3h0M935.7 106.7h0M913.4 121.9h0M950.4 97.1h0M945.2 90.1h0M925 108.1h0M952.3 91.6h0M955.4 87.1h0M947.6 83.5h0M932.8 115.4h0M954.2 78.9h0M965.4 55.5h0M918.1 119.1h0M975.6 53.9h0M961.1 76.3h0M959.6 68.9h0M936.4 117.5h0M928.8 125.3h0M938 109.8h0M915.5 125.8h0M955.4 72.3h0M972 46.1h0M965.9 63.9h0M949.7 76h0M910.9 127.4h0M942.1 102.7h0M940.7 114.2h0M919.7 107.9h0M962 69.4h0M938.9 100.9h0M940.9 112.1h0M912.5 131h0M938.3 96.3h0M943.1 96.5h0M910.3 116.4h0M953.2 83.6h0M941.9 104.8h0M950.3 101.7h0M953.3 85.7h0M916 107.4h0M987.5 15.3h0M950 97.2h0M932.1 102.2h0M917.7 125.1h0M958.2 77.1h0M920.5 140.8h0M942.1 103.9h0M952.4 106.5h0M907.6 116h0M942.9 100.6h0M933.5 101.4h0M971.1 64.3h0M953.3 100.5h0M946 87h0M911.2 115.9h0M951.7 85h0M946.2 87.5h0M953.6 73.1h0M890.8 133.7h0M952.7 87.7h0M951.6 105.4h0M938.1 109.8h0M907.3 132.5h0M954.2 76.2h0M911.2 113.9h0M958.7 79.3h0M962.1 63.9h0M953.1 112.3h0M957.5 77.6h0M942.5 109h0M944.5 85.1h0M966.2 55.3h0M914.7 112.5h0M903.9 123.4h0M917.6 109.8h0M973.7 38.2h0M920.2 121.3h0M954.4 66.5h0M975.5 62.7h0M973.1 79h0M900.3 127.2h0M922.7 108.2h0M923.8 111h0M959.8 85h0M941.2 91.6h0M947.8 93.3h0M952 59.5h0M954.5 79.7h0M956.5 76.6h0M928 114.7h0M920.6 111.3h0M971.9 41.8h0M901.4 135.2h0M968.1 71.9h0M937.3 120.1h0M916.6 120.2h0M938.6 84.4h0M941.2 109.8h0M917.4 122.2h0M942.6 104h0M928.9 112h0M961.5 84.9h0M937.6 105h0M969.8 79.7h0M944.7 92.3h0M935.4 94.3h0M954.6 75.3h0M962.1 97.2h0M931.8 94.7h0M942.5 89.4h0M971.2 49.9h0M930.5 116.2h0M933 111.5h0M950 81.6h0M926.9 95.8h0M923.3 122.6h0M919.3 115.4h0M953.5 80.2h0M911.9 126.1h0M957.2 77h0M903.4 132.9h0M926.6 100.2h0M958.6 97.9h0M966.6 66.2h0M935.6 108.4h0M963.1 74.9h0M889.1 143.2h0M950.5 120.9h0M953.4 68.4h0M922.4 109h0M971.8 58h0M902.1 130.3h0M945.6 90.2h0M939 103.2h0M910.1 123.8h0M954.5 68.3h0M947.7 97.8h0M971 74.9h0M909.7 110.8h0M908.3 129.4h0M899 130.5h0M942.6 98.2h0M942.4 90.5h0M932.7 99.9h0M932.9 104.7h0M939.7 108.9h0M964.8 83h0M979.1 52.7h0M966.5 47.7h0M935.5 120.5h0M951.6 88.1h0M924.5 109.2h0M959.6 84.6h0M897.1 131.7h0M916.1 120.9h0M945.6 85.2h0M943.1 79.1h0M936.6 105.4h0M911.1 121.6h0M961.1 71.1h0M965.1 69.7h0M950 88.7h0M941.5 119.2h0M892.5 135.4h0M941.2 108.7h0M954 89.3h0M945.3 89.3h0M871 146.3h0M873.7 146.1h0M1000.4 14.2h0M1004.9 35.7h0M1007.7 48.8h0" stroke="#000" stroke-width="2.2" stroke-linecap="round" fill="none"/>
<rect x="864.7" y="9.2" width="148.7" height="142.2" fill="none" stroke="#111" stroke-width="1.1"/>
<line x1="894.7" y1="151.4" x2="894.7" y2="155.0" stroke="#111" stroke-width="1"/>
<text x="894.7" y="165" font-size="6.8" text-anchor="middle">2</text>
<line x1="931.1" y1="151.4" x2="931.1" y2="155.0" stroke="#111" stroke-width="1"/>
<text x="931.1" y="165" font-size="6.8" text-anchor="middle">4</text>
<line x1="967.6" y1="151.4" x2="967.6" y2="155.0" stroke="#111" stroke-width="1"/>
<text x="967.6" y="165" font-size="6.8" text-anchor="middle">6</text>
<line x1="1004.0" y1="151.4" x2="1004.0" y2="155.0" stroke="#111" stroke-width="1"/>
<text x="1004.0" y="165" font-size="6.8" text-anchor="middle">8</text>
<line x1="861.1" y1="148.0" x2="864.7" y2="148.0" stroke="#111" stroke-width="1"/>
<text transform="translate(857.5 148.0) rotate(-90)" font-size="6.8" text-anchor="middle">0</text>
<line x1="861.1" y1="124.1" x2="864.7" y2="124.1" stroke="#111" stroke-width="1"/>
<text transform="translate(857.5 124.1) rotate(-90)" font-size="6.8" text-anchor="middle">1</text>
<line x1="861.1" y1="100.2" x2="864.7" y2="100.2" stroke="#111" stroke-width="1"/>
<text transform="translate(857.5 100.2) rotate(-90)" font-size="6.8" text-anchor="middle">2</text>
<line x1="861.1" y1="76.3" x2="864.7" y2="76.3" stroke="#111" stroke-width="1"/>
<text transform="translate(857.5 76.3) rotate(-90)" font-size="6.8" text-anchor="middle">3</text>
<line x1="861.1" y1="52.4" x2="864.7" y2="52.4" stroke="#111" stroke-width="1"/>
<text transform="translate(857.5 52.4) rotate(-90)" font-size="6.8" text-anchor="middle">4</text>
<line x1="861.1" y1="28.5" x2="864.7" y2="28.5" stroke="#111" stroke-width="1"/>
<text transform="translate(857.5 28.5) rotate(-90)" font-size="6.8" text-anchor="middle">5</text>
<text x="873.5" y="19.7" font-size="7.5">p−value = 0</text>
<text x="873.5" y="28.1" font-size="7.5">R = 0.81</text>
<text x="939.1" y="176.5" font-size="8.6" text-anchor="middle">log2(<tspan fill="#e8202a">TPX2</tspan> TPM)</text>
<text transform="translate(845.2 80.3) rotate(-90)" font-size="8.6" text-anchor="middle">log2(<tspan fill="#e8202a">CKAP2L</tspan> TPM)</text>
<text x="3" y="25" font-size="30" font-weight="bold">A</text>
<text x="47" y="240" font-size="30" font-weight="bold">B</text>
<rect x="46.6" y="309.6" width="720.2" height="92.6" fill="none" stroke="#cfcfcf" stroke-width="1"/>
<line x1="57.6" y1="305" x2="57.6" y2="309.6" stroke="#999" stroke-width="0.8"/>
<text transform="translate(57.6 302.5) rotate(90)" font-size="8.3" text-anchor="end" dy="2.6" stroke="#111" stroke-width="0.12">UVM (n=80)</text>
<line x1="75.5" y1="305" x2="75.5" y2="309.6" stroke="#999" stroke-width="0.8"/>
<text transform="translate(75.5 302.5) rotate(90)" font-size="8.3" text-anchor="end" dy="2.6" stroke="#111" stroke-width="0.12">UCS (n=57)</text>
<line x1="93.4" y1="305" x2="93.4" y2="309.6" stroke="#999" stroke-width="0.8"/>
<text transform="translate(93.4 302.5) rotate(90)" font-size="8.3" text-anchor="end" dy="2.6" stroke="#111" stroke-width="0.12">UCEC (n=545)</text>
<line x1="111.3" y1="305" x2="111.3" y2="309.6" stroke="#999" stroke-width="0.8"/>
<text transform="translate(111.3 302.5) rotate(90)" font-size="8.3" text-anchor="end" dy="2.6" stroke="#111" stroke-width="0.12">THYM (n=120)</text>
<line x1="129.2" y1="305" x2="129.2" y2="309.6" stroke="#999" stroke-width="0.8"/>
<text transform="translate(129.2 302.5) rotate(90)" font-size="8.3" text-anchor="end" dy="2.6" stroke="#111" stroke-width="0.12">THCA (n=509)</text>
<line x1="147.1" y1="305" x2="147.1" y2="309.6" stroke="#999" stroke-width="0.8"/>
<text transform="translate(147.1 302.5) rotate(90)" font-size="8.3" text-anchor="end" dy="2.6" stroke="#111" stroke-width="0.12">TGCT (n=150)</text>
<line x1="165.0" y1="305" x2="165.0" y2="309.6" stroke="#999" stroke-width="0.8"/>
<text transform="translate(165.0 302.5) rotate(90)" font-size="8.3" text-anchor="end" dy="2.6" stroke="#111" stroke-width="0.12">STAD (n=415)</text>
<line x1="182.9" y1="305" x2="182.9" y2="309.6" stroke="#999" stroke-width="0.8"/>
<text transform="translate(182.9 302.5) rotate(90)" font-size="8.3" text-anchor="end" dy="2.6" stroke="#111" stroke-width="0.12">SKCM−Primary (n=103)</text>
<line x1="200.8" y1="305" x2="200.8" y2="309.6" stroke="#999" stroke-width="0.8"/>
<text transform="translate(200.8 302.5) rotate(90)" font-size="8.3" text-anchor="end" dy="2.6" stroke="#111" stroke-width="0.12">SKCM−Metastasis (n=368)</text>
<line x1="218.7" y1="305" x2="218.7" y2="309.6" stroke="#999" stroke-width="0.8"/>
<text transform="translate(218.7 302.5) rotate(90)" font-size="8.3" text-anchor="end" dy="2.6" stroke="#111" stroke-width="0.12">SKCM (n=471)</text>
<line x1="236.6" y1="305" x2="236.6" y2="309.6" stroke="#999" stroke-width="0.8"/>
<text transform="translate(236.6 302.5) rotate(90)" font-size="8.3" text-anchor="end" dy="2.6" stroke="#111" stroke-width="0.12">SARC (n=260)</text>
<line x1="254.5" y1="305" x2="254.5" y2="309.6" stroke="#999" stroke-width="0.8"/>
<text transform="translate(254.5 302.5) rotate(90)" font-size="8.3" text-anchor="end" dy="2.6" stroke="#111" stroke-width="0.12">READ (n=166)</text>
<line x1="272.4" y1="305" x2="272.4" y2="309.6" stroke="#999" stroke-width="0.8"/>
<text transform="translate(272.4 302.5) rotate(90)" font-size="8.3" text-anchor="end" dy="2.6" stroke="#111" stroke-width="0.12">PRAD (n=498)</text>
<line x1="290.3" y1="305" x2="290.3" y2="309.6" stroke="#999" stroke-width="0.8"/>
<text transform="translate(290.3 302.5) rotate(90)" font-size="8.3" text-anchor="end" dy="2.6" stroke="#111" stroke-width="0.12">PCPG (n=181)</text>
<line x1="308.2" y1="305" x2="308.2" y2="309.6" stroke="#999" stroke-width="0.8"/>
<text transform="translate(308.2 302.5) rotate(90)" font-size="8.3" text-anchor="end" dy="2.6" stroke="#111" stroke-width="0.12">PAAD (n=179)</text>
<line x1="326.1" y1="305" x2="326.1" y2="309.6" stroke="#999" stroke-width="0.8"/>
<text transform="translate(326.1 302.5) rotate(90)" font-size="8.3" text-anchor="end" dy="2.6" stroke="#111" stroke-width="0.12">OV (n=303)</text>
<line x1="344.0" y1="305" x2="344.0" y2="309.6" stroke="#999" stroke-width="0.8"/>
<text transform="translate(344.0 302.5) rotate(90)" font-size="8.3" text-anchor="end" dy="2.6" stroke="#111" stroke-width="0.12">MESO (n=87)</text>
<line x1="361.9" y1="305" x2="361.9" y2="309.6" stroke="#999" stroke-width="0.8"/>
<text transform="translate(361.9 302.5) rotate(90)" font-size="8.3" text-anchor="end" dy="2.6" stroke="#111" stroke-width="0.12">LUSC (n=501)</text>
<line x1="379.8" y1="305" x2="379.8" y2="309.6" stroke="#999" stroke-width="0.8"/>
<text transform="translate(379.8 302.5) rotate(90)" font-size="8.3" text-anchor="end" dy="2.6" stroke="#111" stroke-width="0.12">LUAD (n=515)</text>
<line x1="397.7" y1="305" x2="397.7" y2="309.6" stroke="#999" stroke-width="0.8"/>
<text transform="translate(397.7 302.5) rotate(90)" font-size="8.3" text-anchor="end" dy="2.6" stroke="#111" stroke-width="0.12">LIHC (n=371)</text>
<line x1="415.6" y1="305" x2="415.6" y2="309.6" stroke="#999" stroke-width="0.8"/>
<text transform="translate(415.6 302.5) rotate(90)" font-size="8.3" text-anchor="end" dy="2.6" stroke="#111" stroke-width="0.12">LGG (n=516)</text>
<line x1="433.5" y1="305" x2="433.5" y2="309.6" stroke="#999" stroke-width="0.8"/>
<text transform="translate(433.5 302.5) rotate(90)" font-size="8.3" text-anchor="end" dy="2.6" stroke="#111" stroke-width="0.12">KIRP (n=290)</text>
<line x1="451.4" y1="305" x2="451.4" y2="309.6" stroke="#999" stroke-width="0.8"/>
<text transform="translate(451.4 302.5) rotate(90)" font-size="8.3" text-anchor="end" dy="2.6" stroke="#111" stroke-width="0.12">KIRC (n=533)</text>
<line x1="469.3" y1="305" x2="469.3" y2="309.6" stroke="#999" stroke-width="0.8"/>
<text transform="translate(469.3 302.5) rotate(90)" font-size="8.3" text-anchor="end" dy="2.6" stroke="#111" stroke-width="0.12">KICH (n=66)</text>
<line x1="487.2" y1="305" x2="487.2" y2="309.6" stroke="#999" stroke-width="0.8"/>
<text transform="translate(487.2 302.5) rotate(90)" font-size="8.3" text-anchor="end" dy="2.6" stroke="#111" stroke-width="0.12">HNSC−HPV+ (n=98)</text>
<line x1="505.1" y1="305" x2="505.1" y2="309.6" stroke="#999" stroke-width="0.8"/>
<text transform="translate(505.1 302.5) rotate(90)" font-size="8.3" text-anchor="end" dy="2.6" stroke="#111" stroke-width="0.12">HNSC−HPV− (n=422)</text>
<line x1="523.0" y1="305" x2="523.0" y2="309.6" stroke="#999" stroke-width="0.8"/>
<text transform="translate(523.0 302.5) rotate(90)" font-size="8.3" text-anchor="end" dy="2.6" stroke="#111" stroke-width="0.12">HNSC (n=522)</text>
<line x1="540.9" y1="305" x2="540.9" y2="309.6" stroke="#999" stroke-width="0.8"/>
<text transform="translate(540.9 302.5) rotate(90)" font-size="8.3" text-anchor="end" dy="2.6" stroke="#111" stroke-width="0.12">GBM (n=153)</text>
<line x1="558.8" y1="305" x2="558.8" y2="309.6" stroke="#999" stroke-width="0.8"/>
<text transform="translate(558.8 302.5) rotate(90)" font-size="8.3" text-anchor="end" dy="2.6" stroke="#111" stroke-width="0.12">ESCA (n=185)</text>
<line x1="576.7" y1="305" x2="576.7" y2="309.6" stroke="#999" stroke-width="0.8"/>
<text transform="translate(576.7 302.5) rotate(90)" font-size="8.3" text-anchor="end" dy="2.6" stroke="#111" stroke-width="0.12">DLBC (n=48)</text>
<line x1="594.6" y1="305" x2="594.6" y2="309.6" stroke="#999" stroke-width="0.8"/>
<text transform="translate(594.6 302.5) rotate(90)" font-size="8.3" text-anchor="end" dy="2.6" stroke="#111" stroke-width="0.12">COAD (n=458)</text>
<line x1="612.5" y1="305" x2="612.5" y2="309.6" stroke="#999" stroke-width="0.8"/>
<text transform="translate(612.5 302.5) rotate(90)" font-size="8.3" text-anchor="end" dy="2.6" stroke="#111" stroke-width="0.12">CHOL (n=36)</text>
<line x1="630.4" y1="305" x2="630.4" y2="309.6" stroke="#999" stroke-width="0.8"/>
<text transform="translate(630.4 302.5) rotate(90)" font-size="8.3" text-anchor="end" dy="2.6" stroke="#111" stroke-width="0.12">CESC (n=306)</text>
<line x1="648.3" y1="305" x2="648.3" y2="309.6" stroke="#999" stroke-width="0.8"/>
<text transform="translate(648.3 302.5) rotate(90)" font-size="8.3" text-anchor="end" dy="2.6" stroke="#111" stroke-width="0.12">BRCA−LumB (n=219)</text>
<line x1="666.2" y1="305" x2="666.2" y2="309.6" stroke="#999" stroke-width="0.8"/>
<text transform="translate(666.2 302.5) rotate(90)" font-size="8.3" text-anchor="end" dy="2.6" stroke="#111" stroke-width="0.12">BRCA−LumA (n=568)</text>
<line x1="684.1" y1="305" x2="684.1" y2="309.6" stroke="#999" stroke-width="0.8"/>
<text transform="translate(684.1 302.5) rotate(90)" font-size="8.3" text-anchor="end" dy="2.6" stroke="#111" stroke-width="0.12">BRCA−Her2 (n=82)</text>
<line x1="702.0" y1="305" x2="702.0" y2="309.6" stroke="#999" stroke-width="0.8"/>
<text transform="translate(702.0 302.5) rotate(90)" font-size="8.3" text-anchor="end" dy="2.6" stroke="#111" stroke-width="0.12">BRCA−Basal (n=191)</text>
<line x1="719.9" y1="305" x2="719.9" y2="309.6" stroke="#999" stroke-width="0.8"/>
<text transform="translate(719.9 302.5) rotate(90)" font-size="8.3" text-anchor="end" dy="2.6" stroke="#111" stroke-width="0.12">BRCA (n=1100)</text>
<line x1="737.8" y1="305" x2="737.8" y2="309.6" stroke="#999" stroke-width="0.8"/>
<text transform="translate(737.8 302.5) rotate(90)" font-size="8.3" text-anchor="end" dy="2.6" stroke="#111" stroke-width="0.12">BLCA (n=408)</text>
<line x1="755.7" y1="305" x2="755.7" y2="309.6" stroke="#999" stroke-width="0.8"/>
<text transform="translate(755.7 302.5) rotate(90)" font-size="8.3" text-anchor="end" dy="2.6" stroke="#111" stroke-width="0.12">ACC (n=79)</text>
<line x1="766.8" y1="320.4" x2="770.5" y2="320.4" stroke="#999" stroke-width="0.8"/>
<text x="774" y="320.3" font-size="8.1">BUB1</text>
<rect x="51.5" y="314.3" width="12.2" height="12.2" fill="#dc5044" stroke="#cf4036" stroke-width="0.8"/>
<rect x="69.4" y="314.3" width="12.2" height="12.2" fill="#e78571" stroke="#d96a5a" stroke-width="0.8"/>
<rect x="87.3" y="314.3" width="12.2" height="12.2" fill="#dc5044" stroke="#cf4036" stroke-width="0.8"/>
<rect x="105.2" y="314.3" width="12.2" height="12.2" fill="#d52c25" stroke="#c8231e" stroke-width="0.8"/>
<rect x="123.1" y="314.3" width="12.2" height="12.2" fill="#e06253" stroke="#d34e42" stroke-width="0.8"/>
<rect x="141.0" y="314.3" width="12.2" height="12.2" fill="#e78571" stroke="#d96a5a" stroke-width="0.8"/>
<rect x="158.9" y="314.3" width="12.2" height="12.2" fill="#dc5044" stroke="#cf4036" stroke-width="0.8"/>
<rect x="176.8" y="314.3" width="12.2" height="12.2" fill="#e06253" stroke="#d34e42" stroke-width="0.8"/>
<rect x="194.7" y="314.3" width="12.2" height="12.2" fill="#dd574a" stroke="#d0463b" stroke-width="0.8"/>
<rect x="212.6" y="314.3" width="12.2" height="12.2" fill="#dd574a" stroke="#d0463b" stroke-width="0.8"/>
<rect x="230.5" y="314.3" width="12.2" height="12.2" fill="#da453b" stroke="#cd372f" stroke-width="0.8"/>
<rect x="248.4" y="314.3" width="12.2" height="12.2" fill="#e37362" stroke="#d55c4e" stroke-width="0.8"/>
<rect x="266.3" y="314.3" width="12.2" height="12.2" fill="#da453b" stroke="#cd372f" stroke-width="0.8"/>
<rect x="284.2" y="314.3" width="12.2" height="12.2" fill="#da453b" stroke="#cd372f" stroke-width="0.8"/>
<rect x="302.1" y="314.3" width="12.2" height="12.2" fill="#db493e" stroke="#ce3a32" stroke-width="0.8"/>
<rect x="320.0" y="314.3" width="12.2" height="12.2" fill="#e06253" stroke="#d34e42" stroke-width="0.8"/>
<rect x="337.9" y="314.3" width="12.2" height="12.2" fill="#da453b" stroke="#cd372f" stroke-width="0.8"/>
<rect x="355.8" y="314.3" width="12.2" height="12.2" fill="#e57b69" stroke="#d76254" stroke-width="0.8"/>
<rect x="373.7" y="314.3" width="12.2" height="12.2" fill="#db493e" stroke="#ce3a32" stroke-width="0.8"/>
<rect x="391.6" y="314.3" width="12.2" height="12.2" fill="#d83e35" stroke="#cb322a" stroke-width="0.8"/>
<rect x="409.5" y="314.3" width="12.2" height="12.2" fill="#d6332b" stroke="#c92922" stroke-width="0.8"/>
<rect x="427.4" y="314.3" width="12.2" height="12.2" fill="#dd574a" stroke="#d0463b" stroke-width="0.8"/>
<rect x="445.3" y="314.3" width="12.2" height="12.2" fill="#dd574a" stroke="#d0463b" stroke-width="0.8"/>
<rect x="463.2" y="314.3" width="12.2" height="12.2" fill="#e37362" stroke="#d55c4e" stroke-width="0.8"/>
<rect x="481.1" y="314.3" width="12.2" height="12.2" fill="#e16959" stroke="#d45447" stroke-width="0.8"/>
<rect x="499.0" y="314.3" width="12.2" height="12.2" fill="#dd574a" stroke="#d0463b" stroke-width="0.8"/>
<rect x="516.9" y="314.3" width="12.2" height="12.2" fill="#df5e50" stroke="#d24b40" stroke-width="0.8"/>
<rect x="534.8" y="314.3" width="12.2" height="12.2" fill="#d83e35" stroke="#cb322a" stroke-width="0.8"/>
<rect x="552.7" y="314.3" width="12.2" height="12.2" fill="#df5e50" stroke="#d24b40" stroke-width="0.8"/>
<rect x="570.6" y="314.3" width="12.2" height="12.2" fill="#de5a4c" stroke="#d1483d" stroke-width="0.8"/>
<rect x="588.5" y="314.3" width="12.2" height="12.2" fill="#e57b69" stroke="#d76254" stroke-width="0.8"/>
<rect x="606.4" y="314.3" width="12.2" height="12.2" fill="#d83a31" stroke="#cb2e27" stroke-width="0.8"/>
<rect x="624.3" y="314.3" width="12.2" height="12.2" fill="#e16959" stroke="#d45447" stroke-width="0.8"/>
<rect x="642.2" y="314.3" width="12.2" height="12.2" fill="#e06253" stroke="#d34e42" stroke-width="0.8"/>
<rect x="660.1" y="314.3" width="12.2" height="12.2" fill="#da453b" stroke="#cd372f" stroke-width="0.8"/>
<rect x="678.0" y="314.3" width="12.2" height="12.2" fill="#e16959" stroke="#d45447" stroke-width="0.8"/>
<rect x="695.9" y="314.3" width="12.2" height="12.2" fill="#e26c5c" stroke="#d4564a" stroke-width="0.8"/>
<rect x="713.8" y="314.3" width="12.2" height="12.2" fill="#d83e35" stroke="#cb322a" stroke-width="0.8"/>
<rect x="731.7" y="314.3" width="12.2" height="12.2" fill="#dd574a" stroke="#d0463b" stroke-width="0.8"/>
<rect x="749.6" y="314.3" width="12.2" height="12.2" fill="#da453b" stroke="#cd372f" stroke-width="0.8"/>
<line x1="766.8" y1="338.3" x2="770.5" y2="338.3" stroke="#999" stroke-width="0.8"/>
<text x="774" y="338.2" font-size="8.1">CKAP2L</text>
<rect x="51.5" y="332.2" width="12.2" height="12.2" fill="#e06253" stroke="#d34e42" stroke-width="0.8"/>
<rect x="69.4" y="332.2" width="12.2" height="12.2" fill="#e37362" stroke="#d55c4e" stroke-width="0.8"/>
<rect x="87.3" y="332.2" width="12.2" height="12.2" fill="#dd574a" stroke="#d0463b" stroke-width="0.8"/>
<rect x="105.2" y="332.2" width="12.2" height="12.2" fill="#d83e35" stroke="#cb322a" stroke-width="0.8"/>
<rect x="123.1" y="332.2" width="12.2" height="12.2" fill="#dc5044" stroke="#cf4036" stroke-width="0.8"/>
<rect x="141.0" y="332.2" width="12.2" height="12.2" fill="#e57b69" stroke="#d76254" stroke-width="0.8"/>
<rect x="158.9" y="332.2" width="12.2" height="12.2" fill="#e06253" stroke="#d34e42" stroke-width="0.8"/>
<rect x="176.8" y="332.2" width="12.2" height="12.2" fill="#e06253" stroke="#d34e42" stroke-width="0.8"/>
<rect x="194.7" y="332.2" width="12.2" height="12.2" fill="#e06253" stroke="#d34e42" stroke-width="0.8"/>
<rect x="212.6" y="332.2" width="12.2" height="12.2" fill="#e06253" stroke="#d34e42" stroke-width="0.8"/>
<rect x="230.5" y="332.2" width="12.2" height="12.2" fill="#db493e" stroke="#ce3a32" stroke-width="0.8"/>
<rect x="248.4" y="332.2" width="12.2" height="12.2" fill="#e57b69" stroke="#d76254" stroke-width="0.8"/>
<rect x="266.3" y="332.2" width="12.2" height="12.2" fill="#db493e" stroke="#ce3a32" stroke-width="0.8"/>
<rect x="284.2" y="332.2" width="12.2" height="12.2" fill="#dc5044" stroke="#cf4036" stroke-width="0.8"/>
<rect x="302.1" y="332.2" width="12.2" height="12.2" fill="#dc5044" stroke="#cf4036" stroke-width="0.8"/>
<rect x="320.0" y="332.2" width="12.2" height="12.2" fill="#df5e50" stroke="#d24b40" stroke-width="0.8"/>
<rect x="337.9" y="332.2" width="12.2" height="12.2" fill="#d83e35" stroke="#cb322a" stroke-width="0.8"/>
<rect x="355.8" y="332.2" width="12.2" height="12.2" fill="#e78571" stroke="#d96a5a" stroke-width="0.8"/>
<rect x="373.7" y="332.2" width="12.2" height="12.2" fill="#da453b" stroke="#cd372f" stroke-width="0.8"/>
<rect x="391.6" y="332.2" width="12.2" height="12.2" fill="#da453b" stroke="#cd372f" stroke-width="0.8"/>
<rect x="409.5" y="332.2" width="12.2" height="12.2" fill="#d6332b" stroke="#c92922" stroke-width="0.8"/>
<rect x="427.4" y="332.2" width="12.2" height="12.2" fill="#dd574a" stroke="#d0463b" stroke-width="0.8"/>
<rect x="445.3" y="332.2" width="12.2" height="12.2" fill="#dc5044" stroke="#cf4036" stroke-width="0.8"/>
<rect x="463.2" y="332.2" width="12.2" height="12.2" fill="#e57e6b" stroke="#d76556" stroke-width="0.8"/>
<rect x="481.1" y="332.2" width="12.2" height="12.2" fill="#e26c5c" stroke="#d4564a" stroke-width="0.8"/>
<rect x="499.0" y="332.2" width="12.2" height="12.2" fill="#e06253" stroke="#d34e42" stroke-width="0.8"/>
<rect x="516.9" y="332.2" width="12.2" height="12.2" fill="#e06253" stroke="#d34e42" stroke-width="0.8"/>
<rect x="534.8" y="332.2" width="12.2" height="12.2" fill="#d94137" stroke="#cc342c" stroke-width="0.8"/>
<rect x="552.7" y="332.2" width="12.2" height="12.2" fill="#e16959" stroke="#d45447" stroke-width="0.8"/>
<rect x="570.6" y="332.2" width="12.2" height="12.2" fill="#db493e" stroke="#ce3a32" stroke-width="0.8"/>
<rect x="588.5" y="332.2" width="12.2" height="12.2" fill="#e6826e" stroke="#d86858" stroke-width="0.8"/>
<rect x="606.4" y="332.2" width="12.2" height="12.2" fill="#df5e50" stroke="#d24b40" stroke-width="0.8"/>
<rect x="624.3" y="332.2" width="12.2" height="12.2" fill="#e06556" stroke="#d35145" stroke-width="0.8"/>
<rect x="642.2" y="332.2" width="12.2" height="12.2" fill="#e06556" stroke="#d35145" stroke-width="0.8"/>
<rect x="660.1" y="332.2" width="12.2" height="12.2" fill="#db493e" stroke="#ce3a32" stroke-width="0.8"/>
<rect x="678.0" y="332.2" width="12.2" height="12.2" fill="#e6826e" stroke="#d86858" stroke-width="0.8"/>
<rect x="695.9" y="332.2" width="12.2" height="12.2" fill="#e37362" stroke="#d55c4e" stroke-width="0.8"/>
<rect x="713.8" y="332.2" width="12.2" height="12.2" fill="#da453b" stroke="#cd372f" stroke-width="0.8"/>
<rect x="731.7" y="332.2" width="12.2" height="12.2" fill="#dd574a" stroke="#d0463b" stroke-width="0.8"/>
<rect x="749.6" y="332.2" width="12.2" height="12.2" fill="#d94137" stroke="#cc342c" stroke-width="0.8"/>
<line x1="766.8" y1="356.2" x2="770.5" y2="356.2" stroke="#999" stroke-width="0.8"/>
<text x="774" y="356.1" font-size="8.1">KIF20A</text>
<rect x="51.5" y="350.1" width="12.2" height="12.2" fill="#dc5044" stroke="#cf4036" stroke-width="0.8"/>
<rect x="69.4" y="350.1" width="12.2" height="12.2" fill="#e78571" stroke="#d96a5a" stroke-width="0.8"/>
<rect x="87.3" y="350.1" width="12.2" height="12.2" fill="#dd574a" stroke="#d0463b" stroke-width="0.8"/>
<rect x="105.2" y="350.1" width="12.2" height="12.2" fill="#d83e35" stroke="#cb322a" stroke-width="0.8"/>
<rect x="123.1" y="350.1" width="12.2" height="12.2" fill="#da453b" stroke="#cd372f" stroke-width="0.8"/>
<rect x="141.0" y="350.1" width="12.2" height="12.2" fill="#e37362" stroke="#d55c4e" stroke-width="0.8"/>
<rect x="158.9" y="350.1" width="12.2" height="12.2" fill="#e16959" stroke="#d45447" stroke-width="0.8"/>
<rect x="176.8" y="350.1" width="12.2" height="12.2" fill="#e26c5c" stroke="#d4564a" stroke-width="0.8"/>
<rect x="194.7" y="350.1" width="12.2" height="12.2" fill="#e16959" stroke="#d45447" stroke-width="0.8"/>
<rect x="212.6" y="350.1" width="12.2" height="12.2" fill="#e16959" stroke="#d45447" stroke-width="0.8"/>
<rect x="230.5" y="350.1" width="12.2" height="12.2" fill="#dc5044" stroke="#cf4036" stroke-width="0.8"/>
<rect x="248.4" y="350.1" width="12.2" height="12.2" fill="#e78571" stroke="#d96a5a" stroke-width="0.8"/>
<rect x="266.3" y="350.1" width="12.2" height="12.2" fill="#d83e35" stroke="#cb322a" stroke-width="0.8"/>
<rect x="284.2" y="350.1" width="12.2" height="12.2" fill="#dd574a" stroke="#d0463b" stroke-width="0.8"/>
<rect x="302.1" y="350.1" width="12.2" height="12.2" fill="#dd574a" stroke="#d0463b" stroke-width="0.8"/>
<rect x="320.0" y="350.1" width="12.2" height="12.2" fill="#e16959" stroke="#d45447" stroke-width="0.8"/>
<rect x="337.9" y="350.1" width="12.2" height="12.2" fill="#da453b" stroke="#cd372f" stroke-width="0.8"/>
<rect x="355.8" y="350.1" width="12.2" height="12.2" fill="#e78571" stroke="#d96a5a" stroke-width="0.8"/>
<rect x="373.7" y="350.1" width="12.2" height="12.2" fill="#dc5044" stroke="#cf4036" stroke-width="0.8"/>
<rect x="391.6" y="350.1" width="12.2" height="12.2" fill="#da453b" stroke="#cd372f" stroke-width="0.8"/>
<rect x="409.5" y="350.1" width="12.2" height="12.2" fill="#d7372f" stroke="#ca2c26" stroke-width="0.8"/>
<rect x="427.4" y="350.1" width="12.2" height="12.2" fill="#dc5044" stroke="#cf4036" stroke-width="0.8"/>
<rect x="445.3" y="350.1" width="12.2" height="12.2" fill="#da453b" stroke="#cd372f" stroke-width="0.8"/>
<rect x="463.2" y="350.1" width="12.2" height="12.2" fill="#da453b" stroke="#cd372f" stroke-width="0.8"/>
<rect x="481.1" y="350.1" width="12.2" height="12.2" fill="#e16959" stroke="#d45447" stroke-width="0.8"/>
<rect x="499.0" y="350.1" width="12.2" height="12.2" fill="#e26c5c" stroke="#d4564a" stroke-width="0.8"/>
<rect x="516.9" y="350.1" width="12.2" height="12.2" fill="#e06556" stroke="#d35145" stroke-width="0.8"/>
<rect x="534.8" y="350.1" width="12.2" height="12.2" fill="#d83e35" stroke="#cb322a" stroke-width="0.8"/>
<rect x="552.7" y="350.1" width="12.2" height="12.2" fill="#e26c5c" stroke="#d4564a" stroke-width="0.8"/>
<rect x="570.6" y="350.1" width="12.2" height="12.2" fill="#d94137" stroke="#cc342c" stroke-width="0.8"/>
<rect x="588.5" y="350.1" width="12.2" height="12.2" fill="#e9907a" stroke="#db7362" stroke-width="0.8"/>
<rect x="606.4" y="350.1" width="12.2" height="12.2" fill="#dc5044" stroke="#cf4036" stroke-width="0.8"/>
<rect x="624.3" y="350.1" width="12.2" height="12.2" fill="#e6826e" stroke="#d86858" stroke-width="0.8"/>
<rect x="642.2" y="350.1" width="12.2" height="12.2" fill="#e37362" stroke="#d55c4e" stroke-width="0.8"/>
<rect x="660.1" y="350.1" width="12.2" height="12.2" fill="#d83e35" stroke="#cb322a" stroke-width="0.8"/>
<rect x="678.0" y="350.1" width="12.2" height="12.2" fill="#e26c5c" stroke="#d4564a" stroke-width="0.8"/>
<rect x="695.9" y="350.1" width="12.2" height="12.2" fill="#e57b69" stroke="#d76254" stroke-width="0.8"/>
<rect x="713.8" y="350.1" width="12.2" height="12.2" fill="#d94137" stroke="#cc342c" stroke-width="0.8"/>
<rect x="731.7" y="350.1" width="12.2" height="12.2" fill="#df5e50" stroke="#d24b40" stroke-width="0.8"/>
<rect x="749.6" y="350.1" width="12.2" height="12.2" fill="#dd5347" stroke="#d04239" stroke-width="0.8"/>
<line x1="766.8" y1="374.1" x2="770.5" y2="374.1" stroke="#999" stroke-width="0.8"/>
<text x="774" y="374.0" font-size="8.1">KIF4A</text>
<rect x="51.5" y="368.0" width="12.2" height="12.2" fill="#ea9780" stroke="#dc7966" stroke-width="0.8"/>
<rect x="69.4" y="368.0" width="12.2" height="12.2" fill="#ec9e86" stroke="#de7e6b" stroke-width="0.8"/>
<rect x="87.3" y="368.0" width="12.2" height="12.2" fill="#dc5044" stroke="#cf4036" stroke-width="0.8"/>
<rect x="105.2" y="368.0" width="12.2" height="12.2" fill="#d52c25" stroke="#c8231e" stroke-width="0.8"/>
<rect x="123.1" y="368.0" width="12.2" height="12.2" fill="#da453b" stroke="#cd372f" stroke-width="0.8"/>
<rect x="141.0" y="368.0" width="12.2" height="12.2" fill="#e78571" stroke="#d96a5a" stroke-width="0.8"/>
<rect x="158.9" y="368.0" width="12.2" height="12.2" fill="#dd574a" stroke="#d0463b" stroke-width="0.8"/>
<rect x="176.8" y="368.0" width="12.2" height="12.2" fill="#e06253" stroke="#d34e42" stroke-width="0.8"/>
<rect x="194.7" y="368.0" width="12.2" height="12.2" fill="#dc5044" stroke="#cf4036" stroke-width="0.8"/>
<rect x="212.6" y="368.0" width="12.2" height="12.2" fill="#dc5044" stroke="#cf4036" stroke-width="0.8"/>
<rect x="230.5" y="368.0" width="12.2" height="12.2" fill="#d83e35" stroke="#cb322a" stroke-width="0.8"/>
<rect x="248.4" y="368.0" width="12.2" height="12.2" fill="#e16959" stroke="#d45447" stroke-width="0.8"/>
<rect x="266.3" y="368.0" width="12.2" height="12.2" fill="#d83e35" stroke="#cb322a" stroke-width="0.8"/>
<rect x="284.2" y="368.0" width="12.2" height="12.2" fill="#e06253" stroke="#d34e42" stroke-width="0.8"/>
<rect x="302.1" y="368.0" width="12.2" height="12.2" fill="#dc5044" stroke="#cf4036" stroke-width="0.8"/>
<rect x="320.0" y="368.0" width="12.2" height="12.2" fill="#df5e50" stroke="#d24b40" stroke-width="0.8"/>
<rect x="337.9" y="368.0" width="12.2" height="12.2" fill="#d83a31" stroke="#cb2e27" stroke-width="0.8"/>
<rect x="355.8" y="368.0" width="12.2" height="12.2" fill="#e37362" stroke="#d55c4e" stroke-width="0.8"/>
<rect x="373.7" y="368.0" width="12.2" height="12.2" fill="#d94137" stroke="#cc342c" stroke-width="0.8"/>
<rect x="391.6" y="368.0" width="12.2" height="12.2" fill="#da453b" stroke="#cd372f" stroke-width="0.8"/>
<rect x="409.5" y="368.0" width="12.2" height="12.2" fill="#dc5044" stroke="#cf4036" stroke-width="0.8"/>
<rect x="427.4" y="368.0" width="12.2" height="12.2" fill="#db493e" stroke="#ce3a32" stroke-width="0.8"/>
<rect x="445.3" y="368.0" width="12.2" height="12.2" fill="#db493e" stroke="#ce3a32" stroke-width="0.8"/>
<rect x="463.2" y="368.0" width="12.2" height="12.2" fill="#d6332b" stroke="#c92922" stroke-width="0.8"/>
<rect x="481.1" y="368.0" width="12.2" height="12.2" fill="#e26c5c" stroke="#d4564a" stroke-width="0.8"/>
<rect x="499.0" y="368.0" width="12.2" height="12.2" fill="#e06253" stroke="#d34e42" stroke-width="0.8"/>
<rect x="516.9" y="368.0" width="12.2" height="12.2" fill="#df5e50" stroke="#d24b40" stroke-width="0.8"/>
<rect x="534.8" y="368.0" width="12.2" height="12.2" fill="#d94137" stroke="#cc342c" stroke-width="0.8"/>
<rect x="552.7" y="368.0" width="12.2" height="12.2" fill="#dd574a" stroke="#d0463b" stroke-width="0.8"/>
<rect x="570.6" y="368.0" width="12.2" height="12.2" fill="#d94137" stroke="#cc342c" stroke-width="0.8"/>
<rect x="588.5" y="368.0" width="12.2" height="12.2" fill="#e26c5c" stroke="#d4564a" stroke-width="0.8"/>
<rect x="606.4" y="368.0" width="12.2" height="12.2" fill="#d83e35" stroke="#cb322a" stroke-width="0.8"/>
<rect x="624.3" y="368.0" width="12.2" height="12.2" fill="#e06556" stroke="#d35145" stroke-width="0.8"/>
<rect x="642.2" y="368.0" width="12.2" height="12.2" fill="#e06556" stroke="#d35145" stroke-width="0.8"/>
<rect x="660.1" y="368.0" width="12.2" height="12.2" fill="#d94137" stroke="#cc342c" stroke-width="0.8"/>
<rect x="678.0" y="368.0" width="12.2" height="12.2" fill="#e16959" stroke="#d45447" stroke-width="0.8"/>
<rect x="695.9" y="368.0" width="12.2" height="12.2" fill="#e06556" stroke="#d35145" stroke-width="0.8"/>
<rect x="713.8" y="368.0" width="12.2" height="12.2" fill="#d94137" stroke="#cc342c" stroke-width="0.8"/>
<rect x="731.7" y="368.0" width="12.2" height="12.2" fill="#db493e" stroke="#ce3a32" stroke-width="0.8"/>
<rect x="749.6" y="368.0" width="12.2" height="12.2" fill="#d94137" stroke="#cc342c" stroke-width="0.8"/>
<line x1="766.8" y1="392.0" x2="770.5" y2="392.0" stroke="#999" stroke-width="0.8"/>
<text x="774" y="391.9" font-size="8.1">PLK1</text>
<rect x="51.5" y="385.9" width="12.2" height="12.2" fill="#dc5044" stroke="#cf4036" stroke-width="0.8"/>
<rect x="69.4" y="385.9" width="12.2" height="12.2" fill="#e88c77" stroke="#da705f" stroke-width="0.8"/>
<rect x="87.3" y="385.9" width="12.2" height="12.2" fill="#dd574a" stroke="#d0463b" stroke-width="0.8"/>
<rect x="105.2" y="385.9" width="12.2" height="12.2" fill="#d7372f" stroke="#ca2c26" stroke-width="0.8"/>
<rect x="123.1" y="385.9" width="12.2" height="12.2" fill="#df5e50" stroke="#d24b40" stroke-width="0.8"/>
<rect x="141.0" y="385.9" width="12.2" height="12.2" fill="#e88c77" stroke="#da705f" stroke-width="0.8"/>
<rect x="158.9" y="385.9" width="12.2" height="12.2" fill="#e16959" stroke="#d45447" stroke-width="0.8"/>
<rect x="176.8" y="385.9" width="12.2" height="12.2" fill="#dd574a" stroke="#d0463b" stroke-width="0.8"/>
<rect x="194.7" y="385.9" width="12.2" height="12.2" fill="#df5e50" stroke="#d24b40" stroke-width="0.8"/>
<rect x="212.6" y="385.9" width="12.2" height="12.2" fill="#dd574a" stroke="#d0463b" stroke-width="0.8"/>
<rect x="230.5" y="385.9" width="12.2" height="12.2" fill="#d83e35" stroke="#cb322a" stroke-width="0.8"/>
<rect x="248.4" y="385.9" width="12.2" height="12.2" fill="#eea990" stroke="#e08773" stroke-width="0.8"/>
<rect x="266.3" y="385.9" width="12.2" height="12.2" fill="#da453b" stroke="#cd372f" stroke-width="0.8"/>
<rect x="284.2" y="385.9" width="12.2" height="12.2" fill="#e06556" stroke="#d35145" stroke-width="0.8"/>
<rect x="302.1" y="385.9" width="12.2" height="12.2" fill="#db493e" stroke="#ce3a32" stroke-width="0.8"/>
<rect x="320.0" y="385.9" width="12.2" height="12.2" fill="#e16959" stroke="#d45447" stroke-width="0.8"/>
<rect x="337.9" y="385.9" width="12.2" height="12.2" fill="#d83e35" stroke="#cb322a" stroke-width="0.8"/>
<rect x="355.8" y="385.9" width="12.2" height="12.2" fill="#e57e6b" stroke="#d76556" stroke-width="0.8"/>
<rect x="373.7" y="385.9" width="12.2" height="12.2" fill="#da453b" stroke="#cd372f" stroke-width="0.8"/>
<rect x="391.6" y="385.9" width="12.2" height="12.2" fill="#d83e35" stroke="#cb322a" stroke-width="0.8"/>
<rect x="409.5" y="385.9" width="12.2" height="12.2" fill="#e06253" stroke="#d34e42" stroke-width="0.8"/>
<rect x="427.4" y="385.9" width="12.2" height="12.2" fill="#dd574a" stroke="#d0463b" stroke-width="0.8"/>
<rect x="445.3" y="385.9" width="12.2" height="12.2" fill="#dc5044" stroke="#cf4036" stroke-width="0.8"/>
<rect x="463.2" y="385.9" width="12.2" height="12.2" fill="#db493e" stroke="#ce3a32" stroke-width="0.8"/>
<rect x="481.1" y="385.9" width="12.2" height="12.2" fill="#e57b69" stroke="#d76254" stroke-width="0.8"/>
<rect x="499.0" y="385.9" width="12.2" height="12.2" fill="#dd574a" stroke="#d0463b" stroke-width="0.8"/>
<rect x="516.9" y="385.9" width="12.2" height="12.2" fill="#df5e50" stroke="#d24b40" stroke-width="0.8"/>
<rect x="534.8" y="385.9" width="12.2" height="12.2" fill="#dd574a" stroke="#d0463b" stroke-width="0.8"/>
<rect x="552.7" y="385.9" width="12.2" height="12.2" fill="#e37362" stroke="#d55c4e" stroke-width="0.8"/>
<rect x="570.6" y="385.9" width="12.2" height="12.2" fill="#dc5044" stroke="#cf4036" stroke-width="0.8"/>
<rect x="588.5" y="385.9" width="12.2" height="12.2" fill="#eea990" stroke="#e08773" stroke-width="0.8"/>
<rect x="606.4" y="385.9" width="12.2" height="12.2" fill="#dd574a" stroke="#d0463b" stroke-width="0.8"/>
<rect x="624.3" y="385.9" width="12.2" height="12.2" fill="#e16959" stroke="#d45447" stroke-width="0.8"/>
<rect x="642.2" y="385.9" width="12.2" height="12.2" fill="#e06556" stroke="#d35145" stroke-width="0.8"/>
<rect x="660.1" y="385.9" width="12.2" height="12.2" fill="#da453b" stroke="#cd372f" stroke-width="0.8"/>
<rect x="678.0" y="385.9" width="12.2" height="12.2" fill="#e16959" stroke="#d45447" stroke-width="0.8"/>
<rect x="695.9" y="385.9" width="12.2" height="12.2" fill="#e57b69" stroke="#d76254" stroke-width="0.8"/>
<rect x="713.8" y="385.9" width="12.2" height="12.2" fill="#d83e35" stroke="#cb322a" stroke-width="0.8"/>
<rect x="731.7" y="385.9" width="12.2" height="12.2" fill="#dd574a" stroke="#d0463b" stroke-width="0.8"/>
<rect x="749.6" y="385.9" width="12.2" height="12.2" fill="#db493e" stroke="#ce3a32" stroke-width="0.8"/>
<rect x="864" y="267.2" width="12" height="12" fill="none" stroke="#111" stroke-width="1.2"/>
<path d="M864 267.2L876 279.2M876 267.2L864 279.2" stroke="#111" stroke-width="1"/>
<text x="888.4" y="277" font-size="11" textLength="41.5" lengthAdjust="spacingAndGlyphs">p &gt; 0.05</text>
<rect x="863.8" y="289.5" width="12" height="12" fill="#111"/>
<text x="888.4" y="299.5" font-size="11" textLength="44" lengthAdjust="spacingAndGlyphs">p ... 0.05</text>
<text x="859.3" y="346" font-size="13.2" textLength="70.5" lengthAdjust="spacingAndGlyphs">Partial_Cor</text>
<defs><linearGradient id="pc" x1="0" y1="0" x2="0" y2="1"><stop offset="0" stop-color="#d7302a"/><stop offset="0.5" stop-color="#ffffff"/><stop offset="1" stop-color="#1e2a8a"/></linearGradient></defs>
<rect x="859" y="354.7" width="9" height="37" fill="url(#pc)"/>
<text x="875.5" y="360" font-size="10.5">1</text>
<text x="875.5" y="377" font-size="10.5">0</text>
<text x="875.5" y="395.5" font-size="10.5">−1</text>
<text x="89" y="473" font-size="30" font-weight="bold">C</text>
<defs><radialGradient id="ng_gray" cx="0.5" cy="0.45" r="0.55"><stop offset="0" stop-color="#f8f8f8"/><stop offset="0.55" stop-color="#ececec"/><stop offset="0.85" stop-color="#c8c8c8"/><stop offset="1" stop-color="#7a7a7a"/></radialGradient><radialGradient id="ng_TUBA1B" cx="0.5" cy="0.5" r="0.55"><stop offset="0" stop-color="#bce5a9"/><stop offset="0.7" stop-color="#a6dc8c"/><stop offset="1" stop-color="#6c8f5b"/></radialGradient><radialGradient id="ng_TUBB2B" cx="0.5" cy="0.5" r="0.55"><stop offset="0" stop-color="#cab870"/><stop offset="0.7" stop-color="#b8a040"/><stop offset="1" stop-color="#78682a"/></radialGradient><radialGradient id="ng_BRCA1" cx="0.5" cy="0.5" r="0.55"><stop offset="0" stop-color="#abe2be"/><stop offset="0.7" stop-color="#8fd8a8"/><stop offset="1" stop-color="#5d8c6d"/></radialGradient><radialGradient id="ng_HMMR" cx="0.5" cy="0.5" r="0.55"><stop offset="0" stop-color="#aad3eb"/><stop offset="0.7" stop-color="#8ec4e4"/><stop offset="1" stop-color="#5c7f94"/></radialGradient><radialGradient id="ng_AURKA" cx="0.5" cy="0.5" r="0.55"><stop offset="0" stop-color="#e5c59e"/><stop offset="0.7" stop-color="#dcb27e"/><stop offset="1" stop-color="#8f7452"/></radialGradient><radialGradient id="ng_TPX2" cx="0.5" cy="0.5" r="0.55"><stop offset="0" stop-color="#ee8383"/><stop offset="0.7" stop-color="#e85a5a"/><stop offset="1" stop-color="#973a3a"/></radialGradient><radialGradient id="ng_AURKB" cx="0.5" cy="0.5" r="0.55"><stop offset="0" stop-color="#738bc7"/><stop offset="0.7" stop-color="#4464b4"/><stop offset="1" stop-color="#2c4175"/></radialGradient><radialGradient id="ng_ZNF598" cx="0.5" cy="0.5" r="0.55"><stop offset="0" stop-color="#73be73"/><stop offset="0.7" stop-color="#44a844"/><stop offset="1" stop-color="#2c6d2c"/></radialGradient><radialGradient id="ng_FZR1" cx="0.5" cy="0.5" r="0.55"><stop offset="0" stop-color="#6bbeb2"/><stop offset="0.7" stop-color="#3aa898"/><stop offset="1" stop-color="#266d63"/></radialGradient><linearGradient id="hl" x1="0" y1="0" x2="0" y2="1"><stop offset="0" stop-color="#fff" stop-opacity="0.95"/><stop offset="1" stop-color="#fff" stop-opacity="0"/></linearGradient></defs>
<path d="M475.9 478.0L498.0 540.6M514.1 484.7L498.0 540.6M338.8 493.3L428.0 548.0M428.0 548.0L314.7 560.3M428.0 548.0L308.0 616.4M428.0 548.0L393.5 629.7M428.0 548.0L489.7 596.5M428.0 548.0L482.4 628.8M498.0 540.6L489.7 596.5M396.5 586.8L393.5 629.7M393.5 629.7L482.4 628.8M393.5 629.7L368.2 672.2M393.5 629.7L422.6 702.2M489.7 596.5L535.3 600.0M489.7 596.5L482.4 628.8M489.7 596.5L422.6 702.2M482.4 628.8L507.4 679.6M482.4 628.8L422.6 702.2M548.8 630.9L422.6 702.2M507.4 679.6L547.6 698.2M507.4 679.6L476.5 717.6M210.6 627.4L186.5 676.8" stroke="#b4bcd0" stroke-width="1" fill="none"/>
<path d="M210.0 457.4L147.4 524.4M210.0 457.4L227.0 507.4M210.0 457.4L272.6 537.6M260.6 441.2L272.6 537.6M260.6 441.2L262.0 594.1M292.4 447.9L272.6 537.6M338.8 493.3L272.6 537.6M338.8 493.3L262.0 594.1M195.3 507.4L147.4 524.4M195.3 507.4L272.6 537.6M195.3 507.4L209.4 599.4M195.3 507.4L262.0 594.1M227.0 507.4L272.6 537.6M227.0 507.4L262.0 594.1M227.0 507.4L209.4 599.4M147.4 524.4L272.6 537.6M147.4 524.4L200.3 544.1M147.4 524.4L262.0 594.1M147.4 524.4L209.4 599.4M147.4 524.4L210.6 627.4M200.3 544.1L272.6 537.6M200.3 544.1L209.4 599.4M200.3 544.1L262.0 594.1M171.8 565.6L272.6 537.6M171.8 565.6L262.0 594.1M171.8 565.6L210.6 627.4M314.7 560.3L262.0 594.1M314.7 560.3L209.4 599.4M314.7 560.3L393.5 629.7M272.6 537.6L262.0 594.1M272.6 537.6L209.4 599.4M122.6 591.5L209.4 599.4M122.6 591.5L262.0 594.1M209.4 599.4L262.0 594.1M209.4 599.4L210.6 627.4M209.4 599.4L132.6 637.6M209.4 599.4L153.0 678.0M209.4 599.4L186.5 676.8M209.4 599.4L210.0 703.2M262.0 594.1L308.0 616.4M262.0 594.1L132.6 637.6M262.0 594.1L210.6 627.4M262.0 594.1L153.0 678.0M262.0 594.1L186.5 676.8M262.0 594.1L210.0 703.2M262.0 594.1L393.5 629.7M209.4 599.4L308.0 616.4M446.5 440.0L428.0 548.0M475.9 478.0L428.0 548.0M514.1 484.7L428.0 548.0M428.0 548.0L498.0 540.6M546.5 551.5L489.7 596.5M393.5 629.7L489.7 596.5M489.7 596.5L548.8 630.9M482.4 628.8L535.3 600.0M507.4 679.6L422.6 702.2M272.6 537.6L314.7 560.3M422.6 702.2L547.6 698.2M422.6 702.2L348.0 720.0M422.6 702.2L476.5 717.6M422.6 702.2L434.4 743.2M422.6 702.2L545.0 752.0M422.6 702.2L492.0 762.0M422.6 702.2L329.4 779.0M422.6 702.2L383.2 787.0M422.6 702.2L429.4 785.6M422.6 702.2L488.2 800.6M422.6 702.2L533.8 801.8M422.6 702.2L382.4 825.3M422.6 702.2L440.0 832.0M422.6 702.2L489.7 828.2M547.6 698.2L348.0 720.0M547.6 698.2L476.5 717.6M547.6 698.2L434.4 743.2M547.6 698.2L545.0 752.0M547.6 698.2L492.0 762.0M547.6 698.2L329.4 779.0M547.6 698.2L383.2 787.0M547.6 698.2L429.4 785.6M547.6 698.2L488.2 800.6M547.6 698.2L533.8 801.8M547.6 698.2L382.4 825.3M547.6 698.2L440.0 832.0M547.6 698.2L489.7 828.2M348.0 720.0L476.5 717.6M348.0 720.0L434.4 743.2M348.0 720.0L545.0 752.0M348.0 720.0L492.0 762.0M348.0 720.0L329.4 779.0M348.0 720.0L383.2 787.0M348.0 720.0L429.4 785.6M348.0 720.0L488.2 800.6M348.0 720.0L533.8 801.8M348.0 720.0L382.4 825.3M348.0 720.0L440.0 832.0M348.0 720.0L489.7 828.2M476.5 717.6L434.4 743.2M476.5 717.6L545.0 752.0M476.5 717.6L492.0 762.0M476.5 717.6L329.4 779.0M476.5 717.6L383.2 787.0M476.5 717.6L429.4 785.6M476.5 717.6L488.2 800.6M476.5 717.6L533.8 801.8M476.5 717.6L382.4 825.3M476.5 717.6L440.0 832.0M476.5 717.6L489.7 828.2M434.4 743.2L545.0 752.0M434.4 743.2L492.0 762.0M434.4 743.2L329.4 779.0M434.4 743.2L383.2 787.0M434.4 743.2L429.4 785.6M434.4 743.2L488.2 800.6M434.4 743.2L533.8 801.8M434.4 743.2L382.4 825.3M434.4 743.2L440.0 832.0M434.4 743.2L489.7 828.2M545.0 752.0L492.0 762.0M545.0 752.0L329.4 779.0M545.0 752.0L383.2 787.0M545.0 752.0L429.4 785.6M545.0 752.0L488.2 800.6M545.0 752.0L533.8 801.8M545.0 752.0L382.4 825.3M545.0 752.0L440.0 832.0M545.0 752.0L489.7 828.2M492.0 762.0L329.4 779.0M492.0 762.0L383.2 787.0M492.0 762.0L429.4 785.6M492.0 762.0L488.2 800.6M492.0 762.0L533.8 801.8M492.0 762.0L382.4 825.3M492.0 762.0L440.0 832.0M492.0 762.0L489.7 828.2M329.4 779.0L383.2 787.0M329.4 779.0L429.4 785.6M329.4 779.0L488.2 800.6M329.4 779.0L533.8 801.8M329.4 779.0L382.4 825.3M329.4 779.0L440.0 832.0M329.4 779.0L489.7 828.2M383.2 787.0L429.4 785.6M383.2 787.0L488.2 800.6M383.2 787.0L533.8 801.8M383.2 787.0L382.4 825.3M383.2 787.0L440.0 832.0M383.2 787.0L489.7 828.2M429.4 785.6L488.2 800.6M429.4 785.6L533.8 801.8M429.4 785.6L382.4 825.3M429.4 785.6L440.0 832.0M429.4 785.6L489.7 828.2M488.2 800.6L533.8 801.8M488.2 800.6L382.4 825.3M488.2 800.6L440.0 832.0M488.2 800.6L489.7 828.2M533.8 801.8L382.4 825.3M533.8 801.8L440.0 832.0M533.8 801.8L489.7 828.2M382.4 825.3L440.0 832.0M382.4 825.3L489.7 828.2M440.0 832.0L489.7 828.2" stroke="#404a76" stroke-width="1.6" fill="none"/>
<circle cx="260.6" cy="442.1" r="8.9" fill="#555" opacity="0.75"/>
<circle cx="260.6" cy="441.2" r="8.6" fill="url(#ng_gray)" stroke="#7c7c7c" stroke-width="0.8"/>
<path d="M261.3 443.2L262.8 445.4L264.0 446.7L261.7 446.5L263.9 446.7L265.6 444.8L265.4 443.5L265.6 443.9L263.2 442.5L262.1 444.5L263.4 442.8L264.9 441.0L265.5 439.2L263.0 441.0L261.5 439.6" stroke="#4a90c8" stroke-width="1" fill="none" opacity="0.8" stroke-linejoin="round"/>
<ellipse cx="260.6" cy="436.6" rx="5.6" ry="3" fill="url(#hl)"/>
<circle cx="292.4" cy="448.8" r="8.9" fill="#555" opacity="0.75"/>
<circle cx="292.4" cy="447.9" r="8.6" fill="url(#ng_gray)" stroke="#7c7c7c" stroke-width="0.8"/>
<path d="M295.3 450.6L294.2 452.9L294.4 453.4L293.0 453.4L293.9 453.4L295.9 452.4L295.2 450.7L293.4 448.5L292.4 449.1L289.9 450.0L289.1 449.0L290.7 448.9L289.8 448.8L290.8 446.6L293.2 444.2" stroke="#5aa050" stroke-width="1" fill="none" opacity="0.8" stroke-linejoin="round"/>
<ellipse cx="292.4" cy="443.3" rx="5.6" ry="3" fill="url(#hl)"/>
<circle cx="210.0" cy="458.3" r="8.9" fill="#555" opacity="0.75"/>
<circle cx="210.0" cy="457.4" r="8.6" fill="url(#ng_gray)" stroke="#7c7c7c" stroke-width="0.8"/>
<path d="M211.5 460.0L209.1 461.4L208.4 461.8L206.0 459.5L205.0 461.8L205.0 462.9L207.1 462.9L206.4 462.2L206.5 462.9L205.0 462.9L206.5 462.9L205.0 462.9L205.0 462.1L205.6 462.9L205.0 462.9" stroke="#40a040" stroke-width="1" fill="none" opacity="0.8" stroke-linejoin="round"/>
<ellipse cx="210.0" cy="452.8" rx="5.6" ry="3" fill="url(#hl)"/>
<circle cx="338.8" cy="494.2" r="8.9" fill="#555" opacity="0.75"/>
<circle cx="338.8" cy="493.3" r="8.6" fill="url(#ng_gray)" stroke="#7c7c7c" stroke-width="0.8"/>
<path d="M339.1 492.7L338.2 491.1L336.0 489.3L337.0 491.8L335.3 489.5L337.7 489.7L337.3 488.8L337.7 490.4L337.5 490.0L335.3 492.1L333.8 492.1L335.5 490.2L336.7 492.5L337.3 493.9L335.3 493.6" stroke="#60b060" stroke-width="1" fill="none" opacity="0.8" stroke-linejoin="round"/>
<ellipse cx="338.8" cy="488.7" rx="5.6" ry="3" fill="url(#hl)"/>
<circle cx="195.3" cy="508.3" r="8.9" fill="#555" opacity="0.75"/>
<circle cx="195.3" cy="507.4" r="8.6" fill="url(#ng_gray)" stroke="#7c7c7c" stroke-width="0.8"/>
<path d="M193.2 510.0L192.2 509.7L194.7 511.5L197.0 511.3L197.0 512.4L196.9 511.4L196.4 509.6L195.8 512.0L198.1 512.7L198.1 511.9L196.0 510.7L197.4 512.6L196.7 512.9L198.1 512.9L198.9 512.9" stroke="#6070c0" stroke-width="1" fill="none" opacity="0.8" stroke-linejoin="round"/>
<ellipse cx="195.3" cy="502.8" rx="5.6" ry="3" fill="url(#hl)"/>
<circle cx="227.0" cy="508.3" r="8.9" fill="#555" opacity="0.75"/>
<circle cx="227.0" cy="507.4" r="8.6" fill="url(#ng_gray)" stroke="#7c7c7c" stroke-width="0.8"/>
<path d="M226.2 509.1L225.1 509.1L226.4 510.0L225.4 512.2L226.2 512.6L223.7 512.9L222.5 512.9L222.3 512.9L223.0 512.9L222.3 512.9L223.4 512.9L222.7 512.9L224.5 512.9L226.9 512.9L227.0 512.9" stroke="#b89850" stroke-width="1" fill="none" opacity="0.8" stroke-linejoin="round"/>
<ellipse cx="227.0" cy="502.8" rx="5.6" ry="3" fill="url(#hl)"/>
<circle cx="147.4" cy="525.3" r="8.9" fill="#555" opacity="0.75"/>
<circle cx="147.4" cy="524.4" r="8.6" fill="url(#ng_gray)" stroke="#7c7c7c" stroke-width="0.8"/>
<path d="M145.4 526.9L147.6 526.8L148.5 527.9L149.7 526.3L151.1 526.7L151.9 526.3L152.4 527.6L152.4 528.7L150.0 527.0L149.7 527.8L148.3 528.7L149.0 526.4L148.9 525.1L146.6 523.2L145.7 521.6" stroke="#d03030" stroke-width="1" fill="none" opacity="0.8" stroke-linejoin="round"/>
<ellipse cx="147.4" cy="519.8" rx="5.6" ry="3" fill="url(#hl)"/>
<circle cx="272.6" cy="538.5" r="8.9" fill="#555" opacity="0.75"/>
<circle cx="272.6" cy="537.6" r="8.6" fill="url(#ng_TUBA1B)" stroke="#648454" stroke-width="0.8"/>
<path d="M270.8 535.3L270.6 534.7L271.1 535.2L269.8 537.2L267.6 536.7L267.6 536.3L267.6 537.9L267.6 535.6L268.2 533.6L268.4 533.1L268.8 535.4L270.4 535.0L272.0 535.7L271.3 533.9L271.8 534.2" stroke="#40a080" stroke-width="1" fill="none" opacity="0.8" stroke-linejoin="round"/>
<ellipse cx="272.6" cy="533.0" rx="5.6" ry="3" fill="url(#hl)"/>
<circle cx="200.3" cy="545.0" r="8.9" fill="#555" opacity="0.75"/>
<circle cx="200.3" cy="544.1" r="8.6" fill="url(#ng_gray)" stroke="#7c7c7c" stroke-width="0.8"/>
<path d="M203.0 547.4L203.6 546.7L205.3 544.2L203.3 544.5L203.9 542.7L204.6 544.7L203.9 544.3L202.6 543.3L204.9 542.7L205.3 544.7L205.3 543.5L205.3 543.5L204.9 542.6L205.3 542.6L204.2 542.5" stroke="#d03030" stroke-width="1" fill="none" opacity="0.8" stroke-linejoin="round"/>
<ellipse cx="200.3" cy="539.5" rx="5.6" ry="3" fill="url(#hl)"/>
<circle cx="314.7" cy="561.2" r="8.9" fill="#555" opacity="0.75"/>
<circle cx="314.7" cy="560.3" r="8.6" fill="url(#ng_gray)" stroke="#7c7c7c" stroke-width="0.8"/>
<path d="M312.4 561.5L312.1 560.5L313.6 562.1L311.1 562.3L310.0 564.5L311.4 563.2L310.2 561.5L312.7 560.4L313.2 560.3L313.9 560.8L315.2 558.9L316.5 557.9L316.6 557.1L315.6 557.3L315.4 556.6" stroke="#c070a0" stroke-width="1" fill="none" opacity="0.8" stroke-linejoin="round"/>
<ellipse cx="314.7" cy="555.7" rx="5.6" ry="3" fill="url(#hl)"/>
<circle cx="171.8" cy="566.5" r="8.9" fill="#555" opacity="0.75"/>
<circle cx="171.8" cy="565.6" r="8.6" fill="url(#ng_gray)" stroke="#7c7c7c" stroke-width="0.8"/>
<path d="M173.3 566.6L171.0 565.4L170.7 567.5L172.7 567.7L170.2 569.1L169.9 569.5L170.9 570.1L170.8 571.1L170.3 570.6L172.0 569.0L171.0 570.7L168.8 571.1L169.8 570.8L168.7 571.1L170.8 569.3" stroke="#d03030" stroke-width="1" fill="none" opacity="0.8" stroke-linejoin="round"/>
<ellipse cx="171.8" cy="561.0" rx="5.6" ry="3" fill="url(#hl)"/>
<circle cx="122.6" cy="592.4" r="8.9" fill="#555" opacity="0.75"/>
<circle cx="122.6" cy="591.5" r="8.6" fill="url(#ng_gray)" stroke="#7c7c7c" stroke-width="0.8"/>
<path d="M122.5 592.3L122.5 591.4L120.7 591.9L122.3 589.7L120.9 591.3L122.4 592.1L120.0 593.2L122.4 595.7L123.4 593.5L125.1 592.1L125.9 594.3L126.9 592.5L125.9 594.6L124.1 595.2L123.7 593.5" stroke="#9060b0" stroke-width="1" fill="none" opacity="0.8" stroke-linejoin="round"/>
<ellipse cx="122.6" cy="586.9" rx="5.6" ry="3" fill="url(#hl)"/>
<circle cx="209.4" cy="600.3" r="8.9" fill="#555" opacity="0.75"/>
<circle cx="209.4" cy="599.4" r="8.6" fill="url(#ng_gray)" stroke="#7c7c7c" stroke-width="0.8"/>
<path d="M210.1 597.2L208.2 596.6L206.0 594.9L206.4 596.1L208.3 594.9L208.0 594.9L208.5 594.9L210.7 594.9L208.4 595.9L206.7 596.5L206.7 598.6L207.0 599.2L205.8 599.5L204.6 600.7L204.7 598.9" stroke="#50a060" stroke-width="1" fill="none" opacity="0.8" stroke-linejoin="round"/>
<ellipse cx="209.4" cy="594.8" rx="5.6" ry="3" fill="url(#hl)"/>
<circle cx="262.0" cy="595.0" r="8.9" fill="#555" opacity="0.75"/>
<circle cx="262.0" cy="594.1" r="8.6" fill="url(#ng_TUBB2B)" stroke="#6e6026" stroke-width="0.8"/>
<path d="M260.4 593.8L261.6 592.2L262.7 593.0L260.6 593.8L258.5 592.0L259.0 590.7L260.9 590.6L260.0 592.0L257.7 593.2L257.0 591.4L259.3 592.3L257.9 590.4L260.2 591.2L261.8 589.6L262.5 589.6" stroke="#a04020" stroke-width="1" fill="none" opacity="0.8" stroke-linejoin="round"/>
<ellipse cx="262.0" cy="589.5" rx="5.6" ry="3" fill="url(#hl)"/>
<circle cx="308.0" cy="617.3" r="8.9" fill="#555" opacity="0.75"/>
<circle cx="308.0" cy="616.4" r="8.6" fill="url(#ng_gray)" stroke="#7c7c7c" stroke-width="0.8"/>
<path d="M306.4 615.9L307.0 615.1L306.4 613.3L308.1 614.1L309.6 613.7L311.3 613.8L311.8 614.2L313.0 613.7L311.0 611.9L309.5 611.9L311.4 611.9L312.7 611.9L312.6 613.8L313.0 613.5L312.8 611.9" stroke="#d04040" stroke-width="1" fill="none" opacity="0.8" stroke-linejoin="round"/>
<ellipse cx="308.0" cy="611.8" rx="5.6" ry="3" fill="url(#hl)"/>
<circle cx="210.6" cy="628.3" r="8.9" fill="#555" opacity="0.75"/>
<circle cx="210.6" cy="627.4" r="8.6" fill="url(#ng_gray)" stroke="#7c7c7c" stroke-width="0.8"/>
<path d="M208.5 625.9L207.9 625.3L209.8 623.5L208.6 622.9L206.9 622.9L205.6 622.9L205.6 625.0L205.6 627.2L206.5 628.1L206.4 630.3L205.6 631.2L205.6 632.0L206.7 630.3L205.6 628.0L205.6 625.9" stroke="#d03030" stroke-width="1" fill="none" opacity="0.8" stroke-linejoin="round"/>
<ellipse cx="210.6" cy="622.8" rx="5.6" ry="3" fill="url(#hl)"/>
<circle cx="132.6" cy="638.5" r="8.9" fill="#555" opacity="0.75"/>
<circle cx="132.6" cy="637.6" r="8.6" fill="url(#ng_gray)" stroke="#7c7c7c" stroke-width="0.8"/>
<path d="M132.0 640.9L131.3 640.0L131.2 638.9L132.3 640.0L130.6 638.7L131.5 640.9L132.2 640.6L134.6 638.1L132.4 639.5L132.0 637.2L132.2 639.7L132.3 638.9L130.3 636.8L132.3 636.7L134.4 634.5" stroke="#d03030" stroke-width="1" fill="none" opacity="0.8" stroke-linejoin="round"/>
<ellipse cx="132.6" cy="633.0" rx="5.6" ry="3" fill="url(#hl)"/>
<circle cx="153.0" cy="678.9" r="8.9" fill="#555" opacity="0.75"/>
<circle cx="153.0" cy="678.0" r="8.6" fill="url(#ng_gray)" stroke="#7c7c7c" stroke-width="0.8"/>
<path d="M151.5 675.8L150.9 673.6L149.7 673.5L148.8 673.5L148.0 675.9L148.0 675.9L148.0 676.1L148.0 675.1L148.0 675.3L150.1 675.8L151.9 674.4L149.5 674.6L149.4 675.0L148.8 675.6L149.9 677.6" stroke="#9a70c0" stroke-width="1" fill="none" opacity="0.8" stroke-linejoin="round"/>
<ellipse cx="153.0" cy="673.4" rx="5.6" ry="3" fill="url(#hl)"/>
<circle cx="186.5" cy="677.7" r="8.9" fill="#555" opacity="0.75"/>
<circle cx="186.5" cy="676.8" r="8.6" fill="url(#ng_gray)" stroke="#7c7c7c" stroke-width="0.8"/>
<path d="M185.3 677.0L187.0 675.6L185.1 674.7L183.0 676.0L184.6 675.1L182.7 673.0L181.5 672.3L181.5 672.7L181.5 672.3L182.5 672.3L181.5 672.3L181.5 672.3L181.5 672.3L182.8 672.6L184.7 673.4" stroke="#d03030" stroke-width="1" fill="none" opacity="0.8" stroke-linejoin="round"/>
<ellipse cx="186.5" cy="672.2" rx="5.6" ry="3" fill="url(#hl)"/>
<circle cx="210.0" cy="704.1" r="8.9" fill="#555" opacity="0.75"/>
<circle cx="210.0" cy="703.2" r="8.6" fill="url(#ng_gray)" stroke="#7c7c7c" stroke-width="0.8"/>
<path d="M211.6 704.1L211.3 705.7L212.0 708.0L213.2 708.7L212.0 708.7L211.4 706.9L209.3 705.2L208.1 706.1L207.0 703.9L208.3 704.2L206.0 701.9L205.0 701.2L206.8 703.5L207.4 702.1L207.0 701.4" stroke="#9070b8" stroke-width="1" fill="none" opacity="0.8" stroke-linejoin="round"/>
<ellipse cx="210.0" cy="698.6" rx="5.6" ry="3" fill="url(#hl)"/>
<circle cx="446.5" cy="440.9" r="8.9" fill="#555" opacity="0.75"/>
<circle cx="446.5" cy="440.0" r="8.6" fill="url(#ng_gray)" stroke="#7c7c7c" stroke-width="0.8"/>
<path d="M445.5 437.6L445.9 439.2L447.0 437.2L447.2 435.5L448.2 435.5L450.4 437.0L448.5 436.1L450.6 435.9L450.3 435.6L451.5 437.8L451.5 440.1L451.5 438.1L451.5 437.7L449.3 440.1L446.9 440.5" stroke="#a070c0" stroke-width="1" fill="none" opacity="0.8" stroke-linejoin="round"/>
<ellipse cx="446.5" cy="435.4" rx="5.6" ry="3" fill="url(#hl)"/>
<circle cx="475.9" cy="478.9" r="8.9" fill="#555" opacity="0.75"/>
<circle cx="475.9" cy="478.0" r="8.6" fill="url(#ng_gray)" stroke="#7c7c7c" stroke-width="0.8"/>
<path d="M475.8 480.8L475.3 479.4L474.1 477.9L474.5 477.2L475.7 475.9L475.0 474.6L477.4 476.3L479.1 476.9L478.6 475.1L480.3 475.1L478.0 473.5L476.0 474.6L478.0 473.5L479.5 473.5L480.4 475.3" stroke="#90b040" stroke-width="1" fill="none" opacity="0.8" stroke-linejoin="round"/>
<ellipse cx="475.9" cy="473.4" rx="5.6" ry="3" fill="url(#hl)"/>
<circle cx="514.1" cy="485.6" r="8.9" fill="#555" opacity="0.75"/>
<circle cx="514.1" cy="484.7" r="8.6" fill="url(#ng_gray)" stroke="#7c7c7c" stroke-width="0.8"/>
<path d="M514.8 487.0L514.2 484.6L514.3 485.0L512.7 484.4L511.8 482.1L510.8 481.5L510.7 482.5L510.2 484.9L511.8 487.0L512.8 487.9L513.0 489.4L512.3 489.8L513.2 490.0L512.1 487.8L510.0 487.1" stroke="#40a0b0" stroke-width="1" fill="none" opacity="0.8" stroke-linejoin="round"/>
<ellipse cx="514.1" cy="480.1" rx="5.6" ry="3" fill="url(#hl)"/>
<circle cx="428.0" cy="548.9" r="8.9" fill="#555" opacity="0.75"/>
<circle cx="428.0" cy="548.0" r="8.6" fill="url(#ng_BRCA1)" stroke="#568265" stroke-width="0.8"/>
<path d="M428.5 550.1L429.6 549.1L431.7 548.0L432.8 545.8L433.0 546.7L433.0 548.7L433.0 550.4L433.0 550.9L431.5 551.0L433.0 549.7L433.0 549.9L432.5 547.4L431.9 545.8L432.7 547.8L433.0 548.4" stroke="#409060" stroke-width="1" fill="none" opacity="0.8" stroke-linejoin="round"/>
<ellipse cx="428.0" cy="543.4" rx="5.6" ry="3" fill="url(#hl)"/>
<circle cx="498.0" cy="541.5" r="8.9" fill="#555" opacity="0.75"/>
<circle cx="498.0" cy="540.6" r="8.6" fill="url(#ng_gray)" stroke="#7c7c7c" stroke-width="0.8"/>
<path d="M497.3 538.8L498.3 539.0L499.3 538.4L501.3 537.0L500.3 536.1L500.9 538.1L499.2 538.8L500.6 537.4L498.4 537.7L500.0 539.6L501.2 539.2L500.8 539.3L502.8 538.3L501.7 538.9L503.0 537.3" stroke="#a0b040" stroke-width="1" fill="none" opacity="0.8" stroke-linejoin="round"/>
<ellipse cx="498.0" cy="536.0" rx="5.6" ry="3" fill="url(#hl)"/>
<circle cx="546.5" cy="552.4" r="8.9" fill="#555" opacity="0.75"/>
<circle cx="546.5" cy="551.5" r="8.6" fill="url(#ng_gray)" stroke="#7c7c7c" stroke-width="0.8"/>
<path d="M543.7 549.7L544.0 550.2L542.4 548.7L542.9 549.4L543.8 550.5L541.6 550.5L543.3 552.7L542.4 554.5L543.1 556.6L541.8 557.0L543.5 556.9L541.5 555.4L541.5 553.3L541.5 553.9L541.5 555.2" stroke="#60a050" stroke-width="1" fill="none" opacity="0.8" stroke-linejoin="round"/>
<ellipse cx="546.5" cy="546.9" rx="5.6" ry="3" fill="url(#hl)"/>
<circle cx="396.5" cy="587.7" r="8.9" fill="#555" opacity="0.75"/>
<circle cx="396.5" cy="586.8" r="8.6" fill="url(#ng_HMMR)" stroke="#557689" stroke-width="0.8"/>
<path d="M397.9 589.2L399.4 590.3L401.5 592.3L401.5 592.3L399.5 590.3L397.3 588.8L396.7 588.6L397.6 589.9L395.5 589.4L395.7 588.7L393.8 589.2L393.2 590.2L393.2 592.3L395.4 590.2L396.7 591.3" stroke="#4080b0" stroke-width="1" fill="none" opacity="0.8" stroke-linejoin="round"/>
<ellipse cx="396.5" cy="582.2" rx="5.6" ry="3" fill="url(#hl)"/>
<circle cx="489.7" cy="597.4" r="8.9" fill="#555" opacity="0.75"/>
<circle cx="489.7" cy="596.5" r="8.6" fill="url(#ng_AURKA)" stroke="#846b4c" stroke-width="0.8"/>
<path d="M488.5 594.7L488.4 594.0L489.6 596.1L489.0 595.0L489.0 596.0L490.4 596.4L489.4 595.6L491.1 595.7L488.9 595.3L487.6 596.1L485.4 595.0L484.7 594.8L487.1 595.0L486.6 597.2L484.7 596.5" stroke="#608050" stroke-width="1" fill="none" opacity="0.8" stroke-linejoin="round"/>
<ellipse cx="489.7" cy="591.9" rx="5.6" ry="3" fill="url(#hl)"/>
<circle cx="535.3" cy="600.9" r="8.9" fill="#555" opacity="0.75"/>
<circle cx="535.3" cy="600.0" r="8.6" fill="url(#ng_gray)" stroke="#7c7c7c" stroke-width="0.8"/>
<path d="M537.2 597.5L538.5 596.8L536.1 595.6L535.9 595.5L536.0 595.5L534.5 597.9L534.3 597.7L532.2 596.6L534.5 597.6L534.5 595.5L534.0 596.9L533.6 597.4L535.6 598.1L536.3 595.8L533.9 597.1" stroke="#c0a030" stroke-width="1" fill="none" opacity="0.8" stroke-linejoin="round"/>
<ellipse cx="535.3" cy="595.4" rx="5.6" ry="3" fill="url(#hl)"/>
<circle cx="393.5" cy="630.6" r="8.9" fill="#555" opacity="0.75"/>
<circle cx="393.5" cy="629.7" r="8.6" fill="url(#ng_TPX2)" stroke="#8b3636" stroke-width="0.8"/>
<path d="M393.0 632.4L394.6 634.5L394.0 635.2L395.3 635.2L393.5 635.2L393.1 635.2L395.6 633.8L395.2 632.6L395.1 631.6L395.9 629.7L394.2 629.5L392.1 628.9L394.1 630.8L392.6 628.4L394.2 630.7" stroke="#a03030" stroke-width="1" fill="none" opacity="0.8" stroke-linejoin="round"/>
<ellipse cx="393.5" cy="625.1" rx="5.6" ry="3" fill="url(#hl)"/>
<circle cx="482.4" cy="629.7" r="8.9" fill="#555" opacity="0.75"/>
<circle cx="482.4" cy="628.8" r="8.6" fill="url(#ng_AURKB)" stroke="#293c6c" stroke-width="0.8"/>
<path d="M483.0 627.1L481.7 629.2L483.9 626.9L482.3 626.5L481.1 627.8L480.5 629.2L478.7 629.3L481.1 630.3L479.1 628.3L479.8 627.7L479.1 627.6L479.5 629.9L478.2 630.3L477.4 630.5L478.6 628.7" stroke="#203080" stroke-width="1" fill="none" opacity="0.8" stroke-linejoin="round"/>
<ellipse cx="482.4" cy="624.2" rx="5.6" ry="3" fill="url(#hl)"/>
<circle cx="548.8" cy="631.8" r="8.9" fill="#555" opacity="0.75"/>
<circle cx="548.8" cy="630.9" r="8.6" fill="url(#ng_gray)" stroke="#7c7c7c" stroke-width="0.8"/>
<path d="M548.7 632.6L546.2 634.0L545.8 634.0L546.4 635.5L544.2 635.5L543.8 634.9L543.8 632.5L543.8 632.3L544.6 634.4L543.9 634.5L545.0 636.4L547.2 636.4L546.2 634.7L548.4 632.6L548.2 633.8" stroke="#4050c0" stroke-width="1" fill="none" opacity="0.8" stroke-linejoin="round"/>
<ellipse cx="548.8" cy="626.3" rx="5.6" ry="3" fill="url(#hl)"/>
<circle cx="368.2" cy="673.1" r="8.9" fill="#555" opacity="0.75"/>
<circle cx="368.2" cy="672.2" r="8.6" fill="url(#ng_ZNF598)" stroke="#296529" stroke-width="0.8"/>
<path d="M368.4 672.0L370.5 671.0L370.8 672.7L368.9 671.9L368.9 672.3L367.5 672.0L365.3 670.0L364.5 668.2L366.8 667.7L365.7 669.1L366.9 667.9L368.5 668.6L368.0 669.2L366.7 668.0L368.6 667.7" stroke="#207020" stroke-width="1" fill="none" opacity="0.8" stroke-linejoin="round"/>
<ellipse cx="368.2" cy="667.6" rx="5.6" ry="3" fill="url(#hl)"/>
<circle cx="507.4" cy="680.5" r="8.9" fill="#555" opacity="0.75"/>
<circle cx="507.4" cy="679.6" r="8.6" fill="url(#ng_gray)" stroke="#7c7c7c" stroke-width="0.8"/>
<path d="M509.8 678.2L508.0 675.9L509.2 676.2L506.7 675.1L508.3 675.1L510.2 675.1L510.6 675.1L511.7 675.7L512.3 675.1L512.4 675.1L510.2 676.0L508.2 675.1L508.0 675.8L509.9 676.9L507.8 677.7" stroke="#d09040" stroke-width="1" fill="none" opacity="0.8" stroke-linejoin="round"/>
<ellipse cx="507.4" cy="675.0" rx="5.6" ry="3" fill="url(#hl)"/>
<circle cx="422.6" cy="703.1" r="8.9" fill="#555" opacity="0.75"/>
<circle cx="422.6" cy="702.2" r="8.6" fill="url(#ng_FZR1)" stroke="#23655b" stroke-width="0.8"/>
<path d="M424.7 700.4L425.9 699.2L424.9 697.7L426.2 697.8L427.6 697.7L425.9 697.7L424.7 699.9L423.2 697.9L422.5 697.7L422.1 698.3L422.9 697.7L421.1 697.7L422.0 697.7L422.4 699.8L420.6 698.6" stroke="#207060" stroke-width="1" fill="none" opacity="0.8" stroke-linejoin="round"/>
<ellipse cx="422.6" cy="697.6" rx="5.6" ry="3" fill="url(#hl)"/>
<circle cx="547.6" cy="699.1" r="8.9" fill="#555" opacity="0.75"/>
<circle cx="547.6" cy="698.2" r="8.6" fill="url(#ng_gray)" stroke="#7c7c7c" stroke-width="0.8"/>
<path d="M547.6 698.9L549.6 699.2L550.4 698.8L551.8 700.5L550.8 698.5L549.6 697.8L551.5 696.6L552.2 697.3L552.6 695.4L552.6 694.6L550.6 695.2L552.3 695.7L550.1 698.0L549.5 698.7L550.6 697.5" stroke="#50a0a0" stroke-width="1" fill="none" opacity="0.8" stroke-linejoin="round"/>
<ellipse cx="547.6" cy="693.6" rx="5.6" ry="3" fill="url(#hl)"/>
<circle cx="348.0" cy="720.9" r="8.9" fill="#555" opacity="0.75"/>
<circle cx="348.0" cy="720.0" r="8.6" fill="url(#ng_gray)" stroke="#7c7c7c" stroke-width="0.8"/>
<path d="M347.5 719.5L345.4 717.3L346.5 716.9L348.4 715.5L347.4 715.5L349.6 717.0L351.6 717.0L349.6 716.6L348.2 715.5L348.5 715.5L346.6 715.6L348.8 717.8L348.6 715.8L349.9 715.5L350.1 715.5" stroke="#40a080" stroke-width="1" fill="none" opacity="0.8" stroke-linejoin="round"/>
<ellipse cx="348.0" cy="715.4" rx="5.6" ry="3" fill="url(#hl)"/>
<circle cx="476.5" cy="718.5" r="8.9" fill="#555" opacity="0.75"/>
<circle cx="476.5" cy="717.6" r="8.6" fill="url(#ng_gray)" stroke="#7c7c7c" stroke-width="0.8"/>
<path d="M479.4 718.4L479.1 717.2L479.4 719.6L479.0 718.1L479.1 720.2L478.5 720.9L480.6 720.0L481.5 720.2L479.7 717.9L481.5 717.8L481.2 719.8L481.5 719.8L480.4 721.1L479.2 720.9L480.5 721.4" stroke="#40a0a0" stroke-width="1" fill="none" opacity="0.8" stroke-linejoin="round"/>
<ellipse cx="476.5" cy="713.0" rx="5.6" ry="3" fill="url(#hl)"/>
<circle cx="434.4" cy="744.1" r="8.9" fill="#555" opacity="0.75"/>
<circle cx="434.4" cy="743.2" r="8.6" fill="url(#ng_gray)" stroke="#7c7c7c" stroke-width="0.8"/>
<path d="M432.2 741.9L433.2 743.1L431.2 745.5L429.4 743.9L429.4 743.6L430.0 745.4L429.4 746.4L429.4 746.8L429.4 746.1L429.4 747.2L429.4 748.5L429.4 748.7L430.1 748.6L432.0 748.7L430.9 747.9" stroke="#a070c0" stroke-width="1" fill="none" opacity="0.8" stroke-linejoin="round"/>
<ellipse cx="434.4" cy="738.6" rx="5.6" ry="3" fill="url(#hl)"/>
<circle cx="545.0" cy="752.9" r="8.9" fill="#555" opacity="0.75"/>
<circle cx="545.0" cy="752.0" r="8.6" fill="url(#ng_gray)" stroke="#7c7c7c" stroke-width="0.8"/>
<path d="M547.3 750.3L546.9 749.9L549.2 748.0L550.0 749.3L550.0 747.5L550.0 747.5L550.0 748.3L549.6 750.0L550.0 749.2L550.0 749.2L550.0 749.8L550.0 748.1L550.0 747.5L550.0 748.9L550.0 747.5" stroke="#60b040" stroke-width="1" fill="none" opacity="0.8" stroke-linejoin="round"/>
<ellipse cx="545.0" cy="747.4" rx="5.6" ry="3" fill="url(#hl)"/>
<circle cx="492.0" cy="762.9" r="8.9" fill="#555" opacity="0.75"/>
<circle cx="492.0" cy="762.0" r="8.6" fill="url(#ng_gray)" stroke="#7c7c7c" stroke-width="0.8"/>
<path d="M492.2 762.4L490.3 760.9L492.7 762.6L491.4 764.3L492.1 763.7L492.9 762.4L491.7 759.9L492.5 760.3L493.7 760.3L493.4 759.4L494.6 758.7L495.1 760.0L494.8 761.0L492.6 759.8L494.3 758.0" stroke="#c070b0" stroke-width="1" fill="none" opacity="0.8" stroke-linejoin="round"/>
<ellipse cx="492.0" cy="757.4" rx="5.6" ry="3" fill="url(#hl)"/>
<circle cx="329.4" cy="779.9" r="8.9" fill="#555" opacity="0.75"/>
<circle cx="329.4" cy="779.0" r="8.6" fill="url(#ng_gray)" stroke="#7c7c7c" stroke-width="0.8"/>
<path d="M326.7 776.6L328.1 774.6L327.9 774.5L329.4 774.5L329.5 774.5L331.0 775.8L331.6 777.5L332.1 778.6L333.9 779.2L331.5 781.1L334.0 779.6L331.8 778.8L329.8 778.2L327.7 776.8L325.2 776.4" stroke="#9070c0" stroke-width="1" fill="none" opacity="0.8" stroke-linejoin="round"/>
<ellipse cx="329.4" cy="774.4" rx="5.6" ry="3" fill="url(#hl)"/>
<circle cx="383.2" cy="787.9" r="8.9" fill="#555" opacity="0.75"/>
<circle cx="383.2" cy="787.0" r="8.6" fill="url(#ng_gray)" stroke="#7c7c7c" stroke-width="0.8"/>
<path d="M382.0 788.9L381.4 787.2L383.7 789.2L384.7 787.8L384.2 787.5L383.7 785.1L383.5 786.5L384.5 788.3L385.4 789.6L387.2 791.7L388.2 791.3L388.2 792.1L388.2 792.5L387.9 791.0L387.1 789.7" stroke="#a070c0" stroke-width="1" fill="none" opacity="0.8" stroke-linejoin="round"/>
<ellipse cx="383.2" cy="782.4" rx="5.6" ry="3" fill="url(#hl)"/>
<circle cx="429.4" cy="786.5" r="8.9" fill="#555" opacity="0.75"/>
<circle cx="429.4" cy="785.6" r="8.6" fill="url(#ng_gray)" stroke="#7c7c7c" stroke-width="0.8"/>
<path d="M430.5 787.7L429.0 787.9L430.7 787.2L428.6 787.7L427.9 786.0L426.9 783.5L425.1 783.1L424.4 781.1L424.6 783.4L426.3 782.5L428.4 781.1L426.7 781.1L424.5 781.6L425.8 781.5L427.3 781.3" stroke="#a070c0" stroke-width="1" fill="none" opacity="0.8" stroke-linejoin="round"/>
<ellipse cx="429.4" cy="781.0" rx="5.6" ry="3" fill="url(#hl)"/>
<circle cx="488.2" cy="801.5" r="8.9" fill="#555" opacity="0.75"/>
<circle cx="488.2" cy="800.6" r="8.6" fill="url(#ng_gray)" stroke="#7c7c7c" stroke-width="0.8"/>
<path d="M490.7 801.7L490.9 800.1L490.5 799.8L492.1 798.5L491.1 800.0L489.0 800.2L487.6 801.0L488.0 799.0L489.2 798.6L488.3 800.3L489.7 799.4L490.6 797.5L490.7 796.1L491.4 798.2L492.1 796.1" stroke="#40a0a0" stroke-width="1" fill="none" opacity="0.8" stroke-linejoin="round"/>
<ellipse cx="488.2" cy="796.0" rx="5.6" ry="3" fill="url(#hl)"/>
<circle cx="533.8" cy="802.7" r="8.9" fill="#555" opacity="0.75"/>
<circle cx="533.8" cy="801.8" r="8.6" fill="url(#ng_gray)" stroke="#7c7c7c" stroke-width="0.8"/>
<path d="M533.9 802.1L533.6 800.4L532.5 800.1L530.3 801.0L529.1 799.9L528.8 799.0L531.0 797.9L528.9 797.3L531.2 797.3L530.4 797.3L531.3 797.3L529.3 799.1L528.8 800.0L528.8 801.9L528.8 800.5" stroke="#9070c0" stroke-width="1" fill="none" opacity="0.8" stroke-linejoin="round"/>
<ellipse cx="533.8" cy="797.2" rx="5.6" ry="3" fill="url(#hl)"/>
<circle cx="382.4" cy="826.2" r="8.9" fill="#555" opacity="0.75"/>
<circle cx="382.4" cy="825.3" r="8.6" fill="url(#ng_gray)" stroke="#7c7c7c" stroke-width="0.8"/>
<path d="M381.1 824.4L382.7 824.4L382.0 824.4L383.7 824.8L383.4 825.6L384.0 825.1L383.7 823.3L383.3 825.1L382.4 824.5L382.9 824.9L381.3 824.7L382.4 822.4L380.5 823.6L382.5 821.5L380.4 822.1" stroke="#40a0a0" stroke-width="1" fill="none" opacity="0.8" stroke-linejoin="round"/>
<ellipse cx="382.4" cy="820.7" rx="5.6" ry="3" fill="url(#hl)"/>
<circle cx="440.0" cy="832.9" r="8.9" fill="#555" opacity="0.75"/>
<circle cx="440.0" cy="832.0" r="8.6" fill="url(#ng_gray)" stroke="#7c7c7c" stroke-width="0.8"/>
<path d="M438.7 833.4L436.4 833.2L435.0 832.4L436.0 832.4L437.7 834.1L438.3 835.9L436.7 835.8L435.8 836.4L435.0 837.5L435.0 837.5L437.2 837.5L436.7 837.5L439.2 835.7L440.4 836.8L440.2 835.7" stroke="#5090c0" stroke-width="1" fill="none" opacity="0.8" stroke-linejoin="round"/>
<ellipse cx="440.0" cy="827.4" rx="5.6" ry="3" fill="url(#hl)"/>
<circle cx="489.7" cy="829.1" r="8.9" fill="#555" opacity="0.75"/>
<circle cx="489.7" cy="828.2" r="8.6" fill="url(#ng_gray)" stroke="#7c7c7c" stroke-width="0.8"/>
<path d="M487.7 828.2L489.9 827.7L488.7 828.3L488.4 828.8L488.1 827.8L485.8 829.4L486.6 828.1L486.6 828.5L486.6 830.5L488.0 829.5L487.2 830.1L485.5 832.3L484.7 832.3L484.7 832.4L484.7 831.0" stroke="#a070c0" stroke-width="1" fill="none" opacity="0.8" stroke-linejoin="round"/>
<ellipse cx="489.7" cy="823.6" rx="5.6" ry="3" fill="url(#hl)"/>
<text x="268.9" y="432.9" font-size="5.9" fill="#fff" stroke="#fff" stroke-width="1.8" stroke-opacity="0.8" stroke-linejoin="round">KIF11</text>
<text x="268.9" y="432.9" font-size="5.9" fill="#222" stroke="#222" stroke-width="0.15">KIF11</text>
<text x="300.7" y="439.6" font-size="5.9" fill="#fff" stroke="#fff" stroke-width="1.8" stroke-opacity="0.8" stroke-linejoin="round">MAPRE3</text>
<text x="300.7" y="439.6" font-size="5.9" fill="#222" stroke="#222" stroke-width="0.15">MAPRE3</text>
<text x="218.3" y="449.1" font-size="5.9" fill="#fff" stroke="#fff" stroke-width="1.8" stroke-opacity="0.8" stroke-linejoin="round">CENPJ</text>
<text x="218.3" y="449.1" font-size="5.9" fill="#222" stroke="#222" stroke-width="0.15">CENPJ</text>
<text x="347.1" y="485.0" font-size="5.9" fill="#fff" stroke="#fff" stroke-width="1.8" stroke-opacity="0.8" stroke-linejoin="round">KIF2A</text>
<text x="347.1" y="485.0" font-size="5.9" fill="#222" stroke="#222" stroke-width="0.15">KIF2A</text>
<text x="203.6" y="499.1" font-size="5.9" fill="#fff" stroke="#fff" stroke-width="1.8" stroke-opacity="0.8" stroke-linejoin="round">STMN4</text>
<text x="203.6" y="499.1" font-size="5.9" fill="#222" stroke="#222" stroke-width="0.15">STMN4</text>
<text x="235.3" y="499.1" font-size="5.9" fill="#fff" stroke="#fff" stroke-width="1.8" stroke-opacity="0.8" stroke-linejoin="round">TUBB3</text>
<text x="235.3" y="499.1" font-size="5.9" fill="#222" stroke="#222" stroke-width="0.15">TUBB3</text>
<text x="155.7" y="516.1" font-size="5.9" fill="#fff" stroke="#fff" stroke-width="1.8" stroke-opacity="0.8" stroke-linejoin="round">TUBB2A</text>
<text x="155.7" y="516.1" font-size="5.9" fill="#222" stroke="#222" stroke-width="0.15">TUBB2A</text>
<text x="280.9" y="529.3" font-size="5.9" fill="#fff" stroke="#fff" stroke-width="1.8" stroke-opacity="0.8" stroke-linejoin="round">TUBA1B</text>
<text x="280.9" y="529.3" font-size="5.9" fill="#222" stroke="#222" stroke-width="0.15">TUBA1B</text>
<text x="208.6" y="535.8" font-size="5.9" fill="#fff" stroke="#fff" stroke-width="1.8" stroke-opacity="0.8" stroke-linejoin="round">TUBB</text>
<text x="208.6" y="535.8" font-size="5.9" fill="#222" stroke="#222" stroke-width="0.15">TUBB</text>
<text x="323.0" y="552.0" font-size="5.9" fill="#fff" stroke="#fff" stroke-width="1.8" stroke-opacity="0.8" stroke-linejoin="round">KIF2C</text>
<text x="323.0" y="552.0" font-size="5.9" fill="#222" stroke="#222" stroke-width="0.15">KIF2C</text>
<text x="180.1" y="557.3" font-size="5.9" fill="#fff" stroke="#fff" stroke-width="1.8" stroke-opacity="0.8" stroke-linejoin="round">DCX</text>
<text x="180.1" y="557.3" font-size="5.9" fill="#222" stroke="#222" stroke-width="0.15">DCX</text>
<text x="130.9" y="583.2" font-size="5.9" fill="#fff" stroke="#fff" stroke-width="1.8" stroke-opacity="0.8" stroke-linejoin="round">KIF1A</text>
<text x="130.9" y="583.2" font-size="5.9" fill="#222" stroke="#222" stroke-width="0.15">KIF1A</text>
<text x="217.7" y="591.1" font-size="5.9" fill="#fff" stroke="#fff" stroke-width="1.8" stroke-opacity="0.8" stroke-linejoin="round">TUBA1A</text>
<text x="217.7" y="591.1" font-size="5.9" fill="#222" stroke="#222" stroke-width="0.15">TUBA1A</text>
<text x="270.3" y="585.8" font-size="5.9" fill="#fff" stroke="#fff" stroke-width="1.8" stroke-opacity="0.8" stroke-linejoin="round">TUBB2B</text>
<text x="270.3" y="585.8" font-size="5.9" fill="#222" stroke="#222" stroke-width="0.15">TUBB2B</text>
<text x="316.3" y="608.1" font-size="5.9" fill="#fff" stroke="#fff" stroke-width="1.8" stroke-opacity="0.8" stroke-linejoin="round">KIF18A</text>
<text x="316.3" y="608.1" font-size="5.9" fill="#222" stroke="#222" stroke-width="0.15">KIF18A</text>
<text x="218.9" y="619.1" font-size="5.9" fill="#fff" stroke="#fff" stroke-width="1.8" stroke-opacity="0.8" stroke-linejoin="round">KIF5B</text>
<text x="218.9" y="619.1" font-size="5.9" fill="#222" stroke="#222" stroke-width="0.15">KIF5B</text>
<text x="140.9" y="629.3" font-size="5.9" fill="#fff" stroke="#fff" stroke-width="1.8" stroke-opacity="0.8" stroke-linejoin="round">KIF5A</text>
<text x="140.9" y="629.3" font-size="5.9" fill="#222" stroke="#222" stroke-width="0.15">KIF5A</text>
<text x="161.3" y="669.7" font-size="5.9" fill="#fff" stroke="#fff" stroke-width="1.8" stroke-opacity="0.8" stroke-linejoin="round">KIF7</text>
<text x="161.3" y="669.7" font-size="5.9" fill="#222" stroke="#222" stroke-width="0.15">KIF7</text>
<text x="194.8" y="668.5" font-size="5.9" fill="#fff" stroke="#fff" stroke-width="1.8" stroke-opacity="0.8" stroke-linejoin="round">KIF5C</text>
<text x="194.8" y="668.5" font-size="5.9" fill="#222" stroke="#222" stroke-width="0.15">KIF5C</text>
<text x="218.3" y="694.9" font-size="5.9" fill="#fff" stroke="#fff" stroke-width="1.8" stroke-opacity="0.8" stroke-linejoin="round">DYNC1H1</text>
<text x="218.3" y="694.9" font-size="5.9" fill="#222" stroke="#222" stroke-width="0.15">DYNC1H1</text>
<text x="454.8" y="431.7" font-size="5.9" fill="#fff" stroke="#fff" stroke-width="1.8" stroke-opacity="0.8" stroke-linejoin="round">ACACA</text>
<text x="454.8" y="431.7" font-size="5.9" fill="#222" stroke="#222" stroke-width="0.15">ACACA</text>
<text x="484.2" y="469.7" font-size="5.9" fill="#fff" stroke="#fff" stroke-width="1.8" stroke-opacity="0.8" stroke-linejoin="round">RBBP8</text>
<text x="484.2" y="469.7" font-size="5.9" fill="#222" stroke="#222" stroke-width="0.15">RBBP8</text>
<text x="522.4" y="476.4" font-size="5.9" fill="#fff" stroke="#fff" stroke-width="1.8" stroke-opacity="0.8" stroke-linejoin="round">BRIP1</text>
<text x="522.4" y="476.4" font-size="5.9" fill="#222" stroke="#222" stroke-width="0.15">BRIP1</text>
<text x="436.3" y="539.7" font-size="5.9" fill="#fff" stroke="#fff" stroke-width="1.8" stroke-opacity="0.8" stroke-linejoin="round">BRCA1</text>
<text x="436.3" y="539.7" font-size="5.9" fill="#222" stroke="#222" stroke-width="0.15">BRCA1</text>
<text x="506.3" y="532.3" font-size="5.9" fill="#fff" stroke="#fff" stroke-width="1.8" stroke-opacity="0.8" stroke-linejoin="round">BARD1</text>
<text x="506.3" y="532.3" font-size="5.9" fill="#222" stroke="#222" stroke-width="0.15">BARD1</text>
<text x="554.8" y="543.2" font-size="5.9" fill="#fff" stroke="#fff" stroke-width="1.8" stroke-opacity="0.8" stroke-linejoin="round">MYCN</text>
<text x="554.8" y="543.2" font-size="5.9" fill="#222" stroke="#222" stroke-width="0.15">MYCN</text>
<text x="404.8" y="578.5" font-size="5.9" fill="#fff" stroke="#fff" stroke-width="1.8" stroke-opacity="0.8" stroke-linejoin="round">HMMR</text>
<text x="404.8" y="578.5" font-size="5.9" fill="#222" stroke="#222" stroke-width="0.15">HMMR</text>
<text x="498.0" y="588.2" font-size="5.9" fill="#fff" stroke="#fff" stroke-width="1.8" stroke-opacity="0.8" stroke-linejoin="round">AURKA</text>
<text x="498.0" y="588.2" font-size="5.9" fill="#222" stroke="#222" stroke-width="0.15">AURKA</text>
<text x="543.6" y="591.7" font-size="5.9" fill="#fff" stroke="#fff" stroke-width="1.8" stroke-opacity="0.8" stroke-linejoin="round">INCENP</text>
<text x="543.6" y="591.7" font-size="5.9" fill="#222" stroke="#222" stroke-width="0.15">INCENP</text>
<text x="401.8" y="621.4" font-size="5.9" fill="#fff" stroke="#fff" stroke-width="1.8" stroke-opacity="0.8" stroke-linejoin="round">TPX2</text>
<text x="401.8" y="621.4" font-size="5.9" fill="#222" stroke="#222" stroke-width="0.15">TPX2</text>
<text x="490.7" y="620.5" font-size="5.9" fill="#fff" stroke="#fff" stroke-width="1.8" stroke-opacity="0.8" stroke-linejoin="round">AURKB</text>
<text x="490.7" y="620.5" font-size="5.9" fill="#222" stroke="#222" stroke-width="0.15">AURKB</text>
<text x="557.1" y="622.6" font-size="5.9" fill="#fff" stroke="#fff" stroke-width="1.8" stroke-opacity="0.8" stroke-linejoin="round">TACC3</text>
<text x="557.1" y="622.6" font-size="5.9" fill="#222" stroke="#222" stroke-width="0.15">TACC3</text>
<text x="376.5" y="663.9" font-size="5.9" fill="#fff" stroke="#fff" stroke-width="1.8" stroke-opacity="0.8" stroke-linejoin="round">ZNF598</text>
<text x="376.5" y="663.9" font-size="5.9" fill="#222" stroke="#222" stroke-width="0.15">ZNF598</text>
<text x="515.7" y="671.3" font-size="5.9" fill="#fff" stroke="#fff" stroke-width="1.8" stroke-opacity="0.8" stroke-linejoin="round">CCNB1</text>
<text x="515.7" y="671.3" font-size="5.9" fill="#222" stroke="#222" stroke-width="0.15">CCNB1</text>
<text x="430.9" y="693.9" font-size="5.9" fill="#fff" stroke="#fff" stroke-width="1.8" stroke-opacity="0.8" stroke-linejoin="round">FZR1</text>
<text x="430.9" y="693.9" font-size="5.9" fill="#222" stroke="#222" stroke-width="0.15">FZR1</text>
<text x="555.9" y="689.9" font-size="5.9" fill="#fff" stroke="#fff" stroke-width="1.8" stroke-opacity="0.8" stroke-linejoin="round">CDC27</text>
<text x="555.9" y="689.9" font-size="5.9" fill="#222" stroke="#222" stroke-width="0.15">CDC27</text>
<text x="356.3" y="711.7" font-size="5.9" fill="#fff" stroke="#fff" stroke-width="1.8" stroke-opacity="0.8" stroke-linejoin="round">CDC23</text>
<text x="356.3" y="711.7" font-size="5.9" fill="#222" stroke="#222" stroke-width="0.15">CDC23</text>
<text x="484.8" y="709.3" font-size="5.9" fill="#fff" stroke="#fff" stroke-width="1.8" stroke-opacity="0.8" stroke-linejoin="round">ANAPC4</text>
<text x="484.8" y="709.3" font-size="5.9" fill="#222" stroke="#222" stroke-width="0.15">ANAPC4</text>
<text x="442.7" y="734.9" font-size="5.9" fill="#fff" stroke="#fff" stroke-width="1.8" stroke-opacity="0.8" stroke-linejoin="round">ANAPC1</text>
<text x="442.7" y="734.9" font-size="5.9" fill="#222" stroke="#222" stroke-width="0.15">ANAPC1</text>
<text x="553.3" y="743.7" font-size="5.9" fill="#fff" stroke="#fff" stroke-width="1.8" stroke-opacity="0.8" stroke-linejoin="round">ANAPC15</text>
<text x="553.3" y="743.7" font-size="5.9" fill="#222" stroke="#222" stroke-width="0.15">ANAPC15</text>
<text x="500.3" y="753.7" font-size="5.9" fill="#fff" stroke="#fff" stroke-width="1.8" stroke-opacity="0.8" stroke-linejoin="round">ANAPC10</text>
<text x="500.3" y="753.7" font-size="5.9" fill="#222" stroke="#222" stroke-width="0.15">ANAPC10</text>
<text x="337.7" y="770.7" font-size="5.9" fill="#fff" stroke="#fff" stroke-width="1.8" stroke-opacity="0.8" stroke-linejoin="round">FBXO5</text>
<text x="337.7" y="770.7" font-size="5.9" fill="#222" stroke="#222" stroke-width="0.15">FBXO5</text>
<text x="391.5" y="778.7" font-size="5.9" fill="#fff" stroke="#fff" stroke-width="1.8" stroke-opacity="0.8" stroke-linejoin="round">ANAPC7</text>
<text x="391.5" y="778.7" font-size="5.9" fill="#222" stroke="#222" stroke-width="0.15">ANAPC7</text>
<text x="437.7" y="777.3" font-size="5.9" fill="#fff" stroke="#fff" stroke-width="1.8" stroke-opacity="0.8" stroke-linejoin="round">ANAPC5</text>
<text x="437.7" y="777.3" font-size="5.9" fill="#222" stroke="#222" stroke-width="0.15">ANAPC5</text>
<text x="496.5" y="792.3" font-size="5.9" fill="#fff" stroke="#fff" stroke-width="1.8" stroke-opacity="0.8" stroke-linejoin="round">CDC20</text>
<text x="496.5" y="792.3" font-size="5.9" fill="#222" stroke="#222" stroke-width="0.15">CDC20</text>
<text x="542.1" y="793.5" font-size="5.9" fill="#fff" stroke="#fff" stroke-width="1.8" stroke-opacity="0.8" stroke-linejoin="round">UBE2C</text>
<text x="542.1" y="793.5" font-size="5.9" fill="#222" stroke="#222" stroke-width="0.15">UBE2C</text>
<text x="390.7" y="817.0" font-size="5.9" fill="#fff" stroke="#fff" stroke-width="1.8" stroke-opacity="0.8" stroke-linejoin="round">ANAPC11</text>
<text x="390.7" y="817.0" font-size="5.9" fill="#222" stroke="#222" stroke-width="0.15">ANAPC11</text>
<text x="448.3" y="823.7" font-size="5.9" fill="#fff" stroke="#fff" stroke-width="1.8" stroke-opacity="0.8" stroke-linejoin="round">CDC16</text>
<text x="448.3" y="823.7" font-size="5.9" fill="#222" stroke="#222" stroke-width="0.15">CDC16</text>
<text x="498.0" y="819.9" font-size="5.9" fill="#fff" stroke="#fff" stroke-width="1.8" stroke-opacity="0.8" stroke-linejoin="round">ANAPC2</text>
<text x="498.0" y="819.9" font-size="5.9" fill="#222" stroke="#222" stroke-width="0.15">ANAPC2</text>
<text x="684" y="517.6" font-size="30" font-weight="bold">D</text>
<text x="782.7" y="508.5" font-size="12" text-anchor="middle">Interacted Genes</text>
<text x="915.8" y="508.5" font-size="12" text-anchor="middle">Correlated Genes</text>
<defs><clipPath id="cl1"><circle cx="793.6" cy="613.3" r="98.5"/></clipPath></defs>
<circle cx="793.6" cy="613.3" r="98.5" fill="#adb5d8"/>
<circle cx="891.7" cy="613.3" r="98.5" fill="#f5a1a3"/>
<circle cx="891.7" cy="613.3" r="98.5" fill="#cc7b86" clip-path="url(#cl1)"/>
<circle cx="793.6" cy="613.3" r="98.5" fill="none" stroke="#222" stroke-width="1"/>
<circle cx="891.7" cy="613.3" r="98.5" fill="none" stroke="#222" stroke-width="1"/>
<text x="762.4" y="618" font-size="10.5" text-anchor="middle">39</text>
<text x="842" y="618" font-size="10.5" text-anchor="middle">9</text>
<text x="922" y="618" font-size="10.5" text-anchor="middle">91</text>
<line x1="842" y1="659.5" x2="842" y2="706" stroke="#000" stroke-width="2.4"/>
<path d="M831.5 701.5 L842 722.5 L853.5 701.5 L842 708 Z" fill="#000"/>
<text x="707.6" y="740" font-size="15.5" fill="#e0101c">KIF11, TUBB, KIF2C, KIF18A, HMMR,</text>
<text x="707.6" y="758.8" font-size="15.5" fill="#e0101c">AURKB, INCENP, CCNB1, UBE2C</text>
<text x="27" y="869.5" font-size="30" font-weight="bold">E</text>
<line x1="241.2" y1="868.2" x2="241.2" y2="1137.2" stroke="#dcdcdc" stroke-width="0.9"/>
<line x1="275.2" y1="868.2" x2="275.2" y2="1137.2" stroke="#dcdcdc" stroke-width="0.9"/>
<line x1="309.2" y1="868.2" x2="309.2" y2="1137.2" stroke="#dcdcdc" stroke-width="0.9"/>
<line x1="343.2" y1="868.2" x2="343.2" y2="1137.2" stroke="#dcdcdc" stroke-width="0.9"/>
<line x1="377.2" y1="868.2" x2="377.2" y2="1137.2" stroke="#dcdcdc" stroke-width="0.9"/>
<line x1="411.2" y1="868.2" x2="411.2" y2="1137.2" stroke="#dcdcdc" stroke-width="0.9"/>
<line x1="236.5" y1="881.5" x2="418.2" y2="881.5" stroke="#dcdcdc" stroke-width="0.9"/>
<line x1="236.5" y1="908.4" x2="418.2" y2="908.4" stroke="#dcdcdc" stroke-width="0.9"/>
<line x1="236.5" y1="935.3" x2="418.2" y2="935.3" stroke="#dcdcdc" stroke-width="0.9"/>
<line x1="236.5" y1="962.2" x2="418.2" y2="962.2" stroke="#dcdcdc" stroke-width="0.9"/>
<line x1="236.5" y1="989.1" x2="418.2" y2="989.1" stroke="#dcdcdc" stroke-width="0.9"/>
<line x1="236.5" y1="1016.0" x2="418.2" y2="1016.0" stroke="#dcdcdc" stroke-width="0.9"/>
<line x1="236.5" y1="1042.9" x2="418.2" y2="1042.9" stroke="#dcdcdc" stroke-width="0.9"/>
<line x1="236.5" y1="1069.8" x2="418.2" y2="1069.8" stroke="#dcdcdc" stroke-width="0.9"/>
<line x1="236.5" y1="1096.7" x2="418.2" y2="1096.7" stroke="#dcdcdc" stroke-width="0.9"/>
<line x1="236.5" y1="1123.6" x2="418.2" y2="1123.6" stroke="#dcdcdc" stroke-width="0.9"/>
<circle cx="402.2" cy="881.5" r="7.4" fill="#2b6dab"/>
<line x1="232.0" y1="881.5" x2="236.5" y2="881.5" stroke="#222" stroke-width="1"/>
<text x="229.5" y="883.9" font-family="Liberation Serif" font-size="9" text-anchor="end" stroke="#111" stroke-width="0.2">cell cycle</text>
<circle cx="368.2" cy="908.4" r="6.5" fill="#0e3364"/>
<line x1="232.0" y1="908.4" x2="236.5" y2="908.4" stroke="#222" stroke-width="1"/>
<text x="229.5" y="910.8" font-family="Liberation Serif" font-size="9" text-anchor="end" stroke="#111" stroke-width="0.2">mitotic cell cycle</text>
<circle cx="368.2" cy="935.3" r="6.5" fill="#b9d7e9"/>
<line x1="232.0" y1="935.3" x2="236.5" y2="935.3" stroke="#222" stroke-width="1"/>
<text x="229.5" y="937.7" font-family="Liberation Serif" font-size="9" text-anchor="end" stroke="#111" stroke-width="0.2">cell cycle process</text>
<circle cx="357.8" cy="962.2" r="6.0" fill="#1b4e8c"/>
<line x1="232.0" y1="962.2" x2="236.5" y2="962.2" stroke="#222" stroke-width="1"/>
<text x="229.5" y="964.6" font-family="Liberation Serif" font-size="9" text-anchor="end" stroke="#111" stroke-width="0.2">mitotic cell cycle process</text>
<circle cx="326.7" cy="989.1" r="5.0" fill="#6aaad2"/>
<line x1="232.0" y1="989.1" x2="236.5" y2="989.1" stroke="#222" stroke-width="1"/>
<text x="229.5" y="991.5" font-family="Liberation Serif" font-size="9" text-anchor="end" stroke="#111" stroke-width="0.2">cell division</text>
<circle cx="318.5" cy="1016.0" r="5.3" fill="#6e0d1f"/>
<line x1="232.0" y1="1016.0" x2="236.5" y2="1016.0" stroke="#222" stroke-width="1"/>
<text x="229.5" y="1018.4" font-family="Liberation Serif" font-size="9" text-anchor="end" stroke="#111" stroke-width="0.2">regulation of cell cycle</text>
<circle cx="290.5" cy="1042.9" r="4.4" fill="#b42330"/>
<line x1="232.0" y1="1042.9" x2="236.5" y2="1042.9" stroke="#222" stroke-width="1"/>
<text x="229.5" y="1045.3" font-family="Liberation Serif" font-size="9" text-anchor="end" stroke="#111" stroke-width="0.2">cell cycle phase transition</text>
<circle cx="285.2" cy="1069.8" r="4.3" fill="#a31c2b"/>
<line x1="232.0" y1="1069.8" x2="236.5" y2="1069.8" stroke="#222" stroke-width="1"/>
<text x="229.5" y="1072.2" font-family="Liberation Serif" font-size="9" text-anchor="end" stroke="#111" stroke-width="0.2">mitotic cell cycle phase transition</text>
<circle cx="258.8" cy="1096.7" r="3.4" fill="#b52530"/>
<line x1="232.0" y1="1096.7" x2="236.5" y2="1096.7" stroke="#222" stroke-width="1"/>
<text x="229.5" y="1099.1" font-family="Liberation Serif" font-size="9" text-anchor="end" stroke="#111" stroke-width="0.2">chromosome segregation</text>
<circle cx="251.2" cy="1123.6" r="3.3" fill="#8c1420"/>
<line x1="232.0" y1="1123.6" x2="236.5" y2="1123.6" stroke="#222" stroke-width="1"/>
<text x="229.5" y="1126.0" font-family="Liberation Serif" font-size="9" text-anchor="end" stroke="#111" stroke-width="0.2">mitotic nuclear division</text>
<rect x="236.5" y="868.2" width="181.7" height="269.0" fill="none" stroke="#222" stroke-width="1.1"/>
<line x1="241.2" y1="1137.2" x2="241.2" y2="1141.2" stroke="#222" stroke-width="1"/>
<text x="241.2" y="1149.7" font-size="8.5" text-anchor="middle">0.3</text>
<line x1="275.2" y1="1137.2" x2="275.2" y2="1141.2" stroke="#222" stroke-width="1"/>
<text x="275.2" y="1149.7" font-size="8.5" text-anchor="middle">0.4</text>
<line x1="309.2" y1="1137.2" x2="309.2" y2="1141.2" stroke="#222" stroke-width="1"/>
<text x="309.2" y="1149.7" font-size="8.5" text-anchor="middle">0.5</text>
<line x1="343.2" y1="1137.2" x2="343.2" y2="1141.2" stroke="#222" stroke-width="1"/>
<text x="343.2" y="1149.7" font-size="8.5" text-anchor="middle">0.6</text>
<line x1="377.2" y1="1137.2" x2="377.2" y2="1141.2" stroke="#222" stroke-width="1"/>
<text x="377.2" y="1149.7" font-size="8.5" text-anchor="middle">0.7</text>
<line x1="411.2" y1="1137.2" x2="411.2" y2="1141.2" stroke="#222" stroke-width="1"/>
<text x="411.2" y="1149.7" font-size="8.5" text-anchor="middle">0.8</text>
<path d="M236.5 1137.2v4M418.2 1137.2v4" stroke="#222" stroke-width="1"/>
<text x="327.4" y="1160.7" font-family="Liberation Serif" font-size="9.5" text-anchor="middle">GeneRatio</text>
<text x="425.6" y="908.0" font-family="Liberation Serif" font-size="9">Count</text>
<circle cx="432.8" cy="915.3" r="3.0" fill="#3b3733"/>
<circle cx="432.8" cy="930.3" r="3.6" fill="#3b3733"/>
<circle cx="432.8" cy="945.3" r="4.4" fill="#3b3733"/>
<circle cx="432.8" cy="960.3" r="5.2" fill="#3b3733"/>
<circle cx="432.8" cy="975.3" r="6.0" fill="#3b3733"/>
<circle cx="432.8" cy="990.3" r="7.0" fill="#3b3733"/>
<path d="M443.9 915.3H440.9V990.3H443.9" stroke="#222" stroke-width="0.9" fill="none"/>
<line x1="440.9" y1="924.0" x2="444.9" y2="924.0" stroke="#222" stroke-width="0.9"/>
<text x="447.2" y="927.0" font-size="8.5">50</text>
<line x1="440.9" y1="937.4" x2="444.9" y2="937.4" stroke="#222" stroke-width="0.9"/>
<text x="447.2" y="940.4" font-size="8.5">60</text>
<line x1="440.9" y1="950.3" x2="444.9" y2="950.3" stroke="#222" stroke-width="0.9"/>
<text x="447.2" y="953.3" font-size="8.5">70</text>
<line x1="440.9" y1="963.0" x2="444.9" y2="963.0" stroke="#222" stroke-width="0.9"/>
<text x="447.2" y="966.0" font-size="8.5">80</text>
<line x1="440.9" y1="976.2" x2="444.9" y2="976.2" stroke="#222" stroke-width="0.9"/>
<text x="447.2" y="979.2" font-size="8.5">90</text>
<line x1="440.9" y1="989.4" x2="444.9" y2="989.4" stroke="#222" stroke-width="0.9"/>
<text x="447.2" y="992.4" font-size="8.5">100</text>
<text x="425.6" y="1021.0" font-family="Liberation Serif" font-size="9">-log10(pvalue)</text>
<rect x="425.6" y="1026.00" width="15" height="3.88" fill="#780522"/>
<rect x="425.6" y="1029.58" width="15" height="3.88" fill="#9a1027"/>
<rect x="425.6" y="1033.15" width="15" height="3.88" fill="#b72230"/>
<rect x="425.6" y="1036.73" width="15" height="3.88" fill="#c7433f"/>
<rect x="425.6" y="1040.31" width="15" height="3.88" fill="#d7634f"/>
<rect x="425.6" y="1043.89" width="15" height="3.88" fill="#e58268"/>
<rect x="425.6" y="1047.46" width="15" height="3.88" fill="#f3a280"/>
<rect x="425.6" y="1051.04" width="15" height="3.88" fill="#f8bb9e"/>
<rect x="425.6" y="1054.62" width="15" height="3.88" fill="#fcd4be"/>
<rect x="425.6" y="1058.20" width="15" height="3.88" fill="#fbe4d6"/>
<rect x="425.6" y="1061.77" width="15" height="3.88" fill="#f8f1ec"/>
<rect x="425.6" y="1065.35" width="15" height="3.88" fill="#eef3f5"/>
<rect x="425.6" y="1068.93" width="15" height="3.88" fill="#ddebf2"/>
<rect x="425.6" y="1072.50" width="15" height="3.88" fill="#c8e1ee"/>
<rect x="425.6" y="1076.08" width="15" height="3.88" fill="#acd2e5"/>
<rect x="425.6" y="1079.66" width="15" height="3.88" fill="#8ec3dd"/>
<rect x="425.6" y="1083.24" width="15" height="3.88" fill="#6aacd0"/>
<rect x="425.6" y="1086.81" width="15" height="3.88" fill="#4795c4"/>
<rect x="425.6" y="1090.39" width="15" height="3.88" fill="#3581ba"/>
<rect x="425.6" y="1093.97" width="15" height="3.88" fill="#266caf"/>
<rect x="425.6" y="1097.55" width="15" height="3.88" fill="#185594"/>
<rect x="425.6" y="1101.12" width="15" height="3.88" fill="#0b3c72"/>
<path d="M444.6 1026.0H440.6V1104.7H444.6" stroke="#222" stroke-width="0.9" fill="none"/>
<line x1="440.6" y1="1033.5" x2="444.6" y2="1033.5" stroke="#222" stroke-width="0.9"/>
<text x="446.9" y="1036.5" font-size="8.5">50</text>
<line x1="440.6" y1="1045.3" x2="444.6" y2="1045.3" stroke="#222" stroke-width="0.9"/>
<text x="446.9" y="1048.3" font-size="8.5">55</text>
<line x1="440.6" y1="1056.5" x2="444.6" y2="1056.5" stroke="#222" stroke-width="0.9"/>
<text x="446.9" y="1059.5" font-size="8.5">60</text>
<line x1="440.6" y1="1068.0" x2="444.6" y2="1068.0" stroke="#222" stroke-width="0.9"/>
<text x="446.9" y="1071.0" font-size="8.5">65</text>
<line x1="440.6" y1="1079.4" x2="444.6" y2="1079.4" stroke="#222" stroke-width="0.9"/>
<text x="446.9" y="1082.4" font-size="8.5">70</text>
<line x1="440.6" y1="1091.0" x2="444.6" y2="1091.0" stroke="#222" stroke-width="0.9"/>
<text x="446.9" y="1094.0" font-size="8.5">75</text>
<line x1="440.6" y1="1102.6" x2="444.6" y2="1102.6" stroke="#222" stroke-width="0.9"/>
<text x="446.9" y="1105.6" font-size="8.5">80</text>
<text x="27.0" y="1019.3" font-size="28">BP</text>
<line x1="825.9" y1="868.2" x2="825.9" y2="1137.2" stroke="#dcdcdc" stroke-width="0.9"/>
<line x1="871.6" y1="868.2" x2="871.6" y2="1137.2" stroke="#dcdcdc" stroke-width="0.9"/>
<line x1="917.3" y1="868.2" x2="917.3" y2="1137.2" stroke="#dcdcdc" stroke-width="0.9"/>
<line x1="790.8" y1="881.9" x2="955.3" y2="881.9" stroke="#dcdcdc" stroke-width="0.9"/>
<line x1="790.8" y1="908.8" x2="955.3" y2="908.8" stroke="#dcdcdc" stroke-width="0.9"/>
<line x1="790.8" y1="935.7" x2="955.3" y2="935.7" stroke="#dcdcdc" stroke-width="0.9"/>
<line x1="790.8" y1="962.6" x2="955.3" y2="962.6" stroke="#dcdcdc" stroke-width="0.9"/>
<line x1="790.8" y1="989.5" x2="955.3" y2="989.5" stroke="#dcdcdc" stroke-width="0.9"/>
<line x1="790.8" y1="1016.4" x2="955.3" y2="1016.4" stroke="#dcdcdc" stroke-width="0.9"/>
<line x1="790.8" y1="1043.3" x2="955.3" y2="1043.3" stroke="#dcdcdc" stroke-width="0.9"/>
<line x1="790.8" y1="1070.2" x2="955.3" y2="1070.2" stroke="#dcdcdc" stroke-width="0.9"/>
<line x1="790.8" y1="1097.1" x2="955.3" y2="1097.1" stroke="#dcdcdc" stroke-width="0.9"/>
<line x1="790.8" y1="1124.0" x2="955.3" y2="1124.0" stroke="#dcdcdc" stroke-width="0.9"/>
<circle cx="938.4" cy="881.9" r="7.1" fill="#c43b36"/>
<line x1="786.3" y1="881.9" x2="790.8" y2="881.9" stroke="#222" stroke-width="1"/>
<text x="783.8" y="879.7" font-family="Liberation Serif" font-size="9" text-anchor="end" stroke="#111" stroke-width="0.2">intracellular non-membrane-bounded</text>
<text x="783.8" y="889.1" font-family="Liberation Serif" font-size="9" text-anchor="end" stroke="#111" stroke-width="0.2">organelle</text>
<circle cx="938.4" cy="908.8" r="7.1" fill="#c43b36"/>
<line x1="786.3" y1="908.8" x2="790.8" y2="908.8" stroke="#222" stroke-width="1"/>
<text x="783.8" y="911.2" font-family="Liberation Serif" font-size="9" text-anchor="end" stroke="#111" stroke-width="0.2">non-membrane-bounded organelle</text>
<circle cx="899.4" cy="935.7" r="6.0" fill="#e9a083"/>
<line x1="786.3" y1="935.7" x2="790.8" y2="935.7" stroke="#222" stroke-width="1"/>
<text x="783.8" y="938.1" font-family="Liberation Serif" font-size="9" text-anchor="end" stroke="#111" stroke-width="0.2">cytoskeleton</text>
<circle cx="896.2" cy="962.6" r="6.0" fill="#b8d5e7"/>
<line x1="786.3" y1="962.6" x2="790.8" y2="962.6" stroke="#222" stroke-width="1"/>
<text x="783.8" y="965.0" font-family="Liberation Serif" font-size="9" text-anchor="end" stroke="#111" stroke-width="0.2">cytoskeletal part</text>
<circle cx="890.7" cy="989.5" r="5.7" fill="#0f3262"/>
<line x1="786.3" y1="989.5" x2="790.8" y2="989.5" stroke="#222" stroke-width="1"/>
<text x="783.8" y="991.9" font-family="Liberation Serif" font-size="9" text-anchor="end" stroke="#111" stroke-width="0.2">microtubule cytoskeleton</text>
<circle cx="841.3" cy="1016.4" r="4.2" fill="#f0b79d"/>
<line x1="786.3" y1="1016.4" x2="790.8" y2="1016.4" stroke="#222" stroke-width="1"/>
<text x="783.8" y="1018.8" font-family="Liberation Serif" font-size="9" text-anchor="end" stroke="#111" stroke-width="0.2">spindle</text>
<circle cx="834.1" cy="1043.3" r="4.0" fill="#6c0d1e"/>
<line x1="786.3" y1="1043.3" x2="790.8" y2="1043.3" stroke="#222" stroke-width="1"/>
<text x="783.8" y="1045.7" font-family="Liberation Serif" font-size="9" text-anchor="end" stroke="#111" stroke-width="0.2">chromosomal region</text>
<circle cx="826.1" cy="1070.2" r="3.8" fill="#6c0d1e"/>
<line x1="786.3" y1="1070.2" x2="790.8" y2="1070.2" stroke="#222" stroke-width="1"/>
<text x="783.8" y="1072.6" font-family="Liberation Serif" font-size="9" text-anchor="end" stroke="#111" stroke-width="0.2">condensed chromosome</text>
<circle cx="809.9" cy="1097.1" r="3.1" fill="#8a1020"/>
<line x1="786.3" y1="1097.1" x2="790.8" y2="1097.1" stroke="#222" stroke-width="1"/>
<text x="783.8" y="1099.5" font-family="Liberation Serif" font-size="9" text-anchor="end" stroke="#111" stroke-width="0.2">nuclear ubiquitin ligase complex</text>
<circle cx="806.1" cy="1124.0" r="3.0" fill="#b8202e"/>
<line x1="786.3" y1="1124.0" x2="790.8" y2="1124.0" stroke="#222" stroke-width="1"/>
<text x="783.8" y="1126.4" font-family="Liberation Serif" font-size="9" text-anchor="end" stroke="#111" stroke-width="0.2">anaphase-promoting complex</text>
<rect x="790.8" y="868.2" width="164.5" height="269.0" fill="none" stroke="#222" stroke-width="1.1"/>
<line x1="825.9" y1="1137.2" x2="825.9" y2="1141.2" stroke="#222" stroke-width="1"/>
<text x="825.9" y="1149.7" font-size="8.5" text-anchor="middle">0.2</text>
<line x1="871.6" y1="1137.2" x2="871.6" y2="1141.2" stroke="#222" stroke-width="1"/>
<text x="871.6" y="1149.7" font-size="8.5" text-anchor="middle">0.4</text>
<line x1="917.3" y1="1137.2" x2="917.3" y2="1141.2" stroke="#222" stroke-width="1"/>
<text x="917.3" y="1149.7" font-size="8.5" text-anchor="middle">0.6</text>
<path d="M790.8 1137.2v4M955.3 1137.2v4" stroke="#222" stroke-width="1"/>
<text x="873.0" y="1160.7" font-family="Liberation Serif" font-size="9.5" text-anchor="middle">GeneRatio</text>
<text x="962.8" y="908.5" font-family="Liberation Serif" font-size="9">Count</text>
<circle cx="970.0" cy="916.5" r="2.6" fill="#3b3733"/>
<circle cx="970.0" cy="931.3" r="3.5" fill="#3b3733"/>
<circle cx="970.0" cy="946.4" r="4.5" fill="#3b3733"/>
<circle cx="970.0" cy="961.4" r="5.2" fill="#3b3733"/>
<circle cx="970.0" cy="976.2" r="6.0" fill="#3b3733"/>
<circle cx="970.0" cy="991.3" r="7.0" fill="#3b3733"/>
<path d="M981.1 916.5H978.1V991.3H981.1" stroke="#222" stroke-width="0.9" fill="none"/>
<line x1="978.1" y1="921.2" x2="982.1" y2="921.2" stroke="#222" stroke-width="0.9"/>
<text x="984.4" y="924.2" font-size="8.5">20</text>
<line x1="978.1" y1="940.0" x2="982.1" y2="940.0" stroke="#222" stroke-width="0.9"/>
<text x="984.4" y="943.0" font-size="8.5">40</text>
<line x1="978.1" y1="959.0" x2="982.1" y2="959.0" stroke="#222" stroke-width="0.9"/>
<text x="984.4" y="962.0" font-size="8.5">60</text>
<line x1="978.1" y1="978.0" x2="982.1" y2="978.0" stroke="#222" stroke-width="0.9"/>
<text x="984.4" y="981.0" font-size="8.5">80</text>
<text x="962.8" y="1023.0" font-family="Liberation Serif" font-size="9">-log10(pvalue)</text>
<rect x="962.8" y="1027.50" width="15" height="3.87" fill="#780522"/>
<rect x="962.8" y="1031.07" width="15" height="3.87" fill="#9a1027"/>
<rect x="962.8" y="1034.64" width="15" height="3.87" fill="#b72230"/>
<rect x="962.8" y="1038.20" width="15" height="3.87" fill="#c7433f"/>
<rect x="962.8" y="1041.77" width="15" height="3.87" fill="#d7634f"/>
<rect x="962.8" y="1045.34" width="15" height="3.87" fill="#e58268"/>
<rect x="962.8" y="1048.91" width="15" height="3.87" fill="#f3a280"/>
<rect x="962.8" y="1052.48" width="15" height="3.87" fill="#f8bb9e"/>
<rect x="962.8" y="1056.05" width="15" height="3.87" fill="#fcd4be"/>
<rect x="962.8" y="1059.61" width="15" height="3.87" fill="#fbe4d6"/>
<rect x="962.8" y="1063.18" width="15" height="3.87" fill="#f8f1ec"/>
<rect x="962.8" y="1066.75" width="15" height="3.87" fill="#eef3f5"/>
<rect x="962.8" y="1070.32" width="15" height="3.87" fill="#ddebf2"/>
<rect x="962.8" y="1073.89" width="15" height="3.87" fill="#c8e1ee"/>
<rect x="962.8" y="1077.45" width="15" height="3.87" fill="#acd2e5"/>
<rect x="962.8" y="1081.02" width="15" height="3.87" fill="#8ec3dd"/>
<rect x="962.8" y="1084.59" width="15" height="3.87" fill="#6aacd0"/>
<rect x="962.8" y="1088.16" width="15" height="3.87" fill="#4795c4"/>
<rect x="962.8" y="1091.73" width="15" height="3.87" fill="#3581ba"/>
<rect x="962.8" y="1095.30" width="15" height="3.87" fill="#266caf"/>
<rect x="962.8" y="1098.86" width="15" height="3.87" fill="#185594"/>
<rect x="962.8" y="1102.43" width="15" height="3.87" fill="#0b3c72"/>
<path d="M981.8 1027.5H977.8V1106.0H981.8" stroke="#222" stroke-width="0.9" fill="none"/>
<line x1="977.8" y1="1044.7" x2="981.8" y2="1044.7" stroke="#222" stroke-width="0.9"/>
<text x="984.1" y="1047.7" font-size="8.5">30</text>
<line x1="977.8" y1="1068.2" x2="981.8" y2="1068.2" stroke="#222" stroke-width="0.9"/>
<text x="984.1" y="1071.2" font-size="8.5">35</text>
<line x1="977.8" y1="1091.3" x2="981.8" y2="1091.3" stroke="#222" stroke-width="0.9"/>
<text x="984.1" y="1094.3" font-size="8.5">40</text>
<text x="523.5" y="1025.0" font-size="28">CC</text>
<line x1="246.6" y1="1191.0" x2="246.6" y2="1460.0" stroke="#dcdcdc" stroke-width="0.9"/>
<line x1="278.5" y1="1191.0" x2="278.5" y2="1460.0" stroke="#dcdcdc" stroke-width="0.9"/>
<line x1="310.3" y1="1191.0" x2="310.3" y2="1460.0" stroke="#dcdcdc" stroke-width="0.9"/>
<line x1="342.2" y1="1191.0" x2="342.2" y2="1460.0" stroke="#dcdcdc" stroke-width="0.9"/>
<line x1="374.0" y1="1191.0" x2="374.0" y2="1460.0" stroke="#dcdcdc" stroke-width="0.9"/>
<line x1="405.8" y1="1191.0" x2="405.8" y2="1460.0" stroke="#dcdcdc" stroke-width="0.9"/>
<line x1="242.8" y1="1204.7" x2="417.6" y2="1204.7" stroke="#dcdcdc" stroke-width="0.9"/>
<line x1="242.8" y1="1231.5" x2="417.6" y2="1231.5" stroke="#dcdcdc" stroke-width="0.9"/>
<line x1="242.8" y1="1258.4" x2="417.6" y2="1258.4" stroke="#dcdcdc" stroke-width="0.9"/>
<line x1="242.8" y1="1285.2" x2="417.6" y2="1285.2" stroke="#dcdcdc" stroke-width="0.9"/>
<line x1="242.8" y1="1312.1" x2="417.6" y2="1312.1" stroke="#dcdcdc" stroke-width="0.9"/>
<line x1="242.8" y1="1339.0" x2="417.6" y2="1339.0" stroke="#dcdcdc" stroke-width="0.9"/>
<line x1="242.8" y1="1365.8" x2="417.6" y2="1365.8" stroke="#dcdcdc" stroke-width="0.9"/>
<line x1="242.8" y1="1392.7" x2="417.6" y2="1392.7" stroke="#dcdcdc" stroke-width="0.9"/>
<line x1="242.8" y1="1419.5" x2="417.6" y2="1419.5" stroke="#dcdcdc" stroke-width="0.9"/>
<line x1="242.8" y1="1446.4" x2="417.6" y2="1446.4" stroke="#dcdcdc" stroke-width="0.9"/>
<circle cx="403.6" cy="1204.7" r="7.1" fill="#b8d5e6"/>
<line x1="238.3" y1="1204.7" x2="242.8" y2="1204.7" stroke="#222" stroke-width="1"/>
<text x="235.8" y="1207.1" font-family="Liberation Serif" font-size="9" text-anchor="end" stroke="#111" stroke-width="0.2">drug binding</text>
<circle cx="398.7" cy="1231.5" r="7.1" fill="#0c2f5c"/>
<line x1="238.3" y1="1231.5" x2="242.8" y2="1231.5" stroke="#222" stroke-width="1"/>
<text x="235.8" y="1234.0" font-family="Liberation Serif" font-size="9" text-anchor="end" stroke="#111" stroke-width="0.2">ATP binding</text>
<circle cx="398.7" cy="1258.4" r="7.1" fill="#2b6fae"/>
<line x1="238.3" y1="1258.4" x2="242.8" y2="1258.4" stroke="#222" stroke-width="1"/>
<text x="235.8" y="1260.8" font-family="Liberation Serif" font-size="9" text-anchor="end" stroke="#111" stroke-width="0.2">adenyl ribonucleotide binding</text>
<circle cx="398.7" cy="1285.2" r="7.1" fill="#2e78b6"/>
<line x1="238.3" y1="1285.2" x2="242.8" y2="1285.2" stroke="#222" stroke-width="1"/>
<text x="235.8" y="1287.7" font-family="Liberation Serif" font-size="9" text-anchor="end" stroke="#111" stroke-width="0.2">adenyl nucleotide binding</text>
<circle cx="398.7" cy="1312.1" r="7.1" fill="#e38b70"/>
<line x1="238.3" y1="1312.1" x2="242.8" y2="1312.1" stroke="#222" stroke-width="1"/>
<text x="235.8" y="1309.9" font-family="Liberation Serif" font-size="9" text-anchor="end" stroke="#111" stroke-width="0.2">purine ribonucleoside triphosphate</text>
<text x="235.8" y="1319.3" font-family="Liberation Serif" font-size="9" text-anchor="end" stroke="#111" stroke-width="0.2">binding</text>
<circle cx="398.7" cy="1339.0" r="7.1" fill="#c23b3a"/>
<line x1="238.3" y1="1339.0" x2="242.8" y2="1339.0" stroke="#222" stroke-width="1"/>
<text x="235.8" y="1341.4" font-family="Liberation Serif" font-size="9" text-anchor="end" stroke="#111" stroke-width="0.2">purine ribonucleotide binding</text>
<circle cx="398.7" cy="1365.8" r="7.1" fill="#bf2a31"/>
<line x1="238.3" y1="1365.8" x2="242.8" y2="1365.8" stroke="#222" stroke-width="1"/>
<text x="235.8" y="1368.2" font-family="Liberation Serif" font-size="9" text-anchor="end" stroke="#111" stroke-width="0.2">purine nucleotide binding</text>
<circle cx="398.7" cy="1392.7" r="7.1" fill="#b8202d"/>
<line x1="238.3" y1="1392.7" x2="242.8" y2="1392.7" stroke="#222" stroke-width="1"/>
<text x="235.8" y="1395.1" font-family="Liberation Serif" font-size="9" text-anchor="end" stroke="#111" stroke-width="0.2">ribonucleotide binding</text>
<circle cx="312.6" cy="1419.5" r="4.7" fill="#6d0f1c"/>
<line x1="238.3" y1="1419.5" x2="242.8" y2="1419.5" stroke="#222" stroke-width="1"/>
<text x="235.8" y="1421.9" font-family="Liberation Serif" font-size="9" text-anchor="end" stroke="#111" stroke-width="0.2">pyrophosphatase activity</text>
<circle cx="257.0" cy="1446.4" r="3.1" fill="#c0282f"/>
<line x1="238.3" y1="1446.4" x2="242.8" y2="1446.4" stroke="#222" stroke-width="1"/>
<text x="235.8" y="1448.8" font-family="Liberation Serif" font-size="9" text-anchor="end" stroke="#111" stroke-width="0.2">microtubule binding</text>
<rect x="242.8" y="1191.0" width="174.8" height="269.0" fill="none" stroke="#222" stroke-width="1.1"/>
<line x1="246.6" y1="1460.0" x2="246.6" y2="1464.0" stroke="#222" stroke-width="1"/>
<text x="246.6" y="1472.5" font-size="8.5" text-anchor="middle">0.10</text>
<line x1="278.5" y1="1460.0" x2="278.5" y2="1464.0" stroke="#222" stroke-width="1"/>
<text x="278.5" y="1472.5" font-size="8.5" text-anchor="middle">0.15</text>
<line x1="310.3" y1="1460.0" x2="310.3" y2="1464.0" stroke="#222" stroke-width="1"/>
<text x="310.3" y="1472.5" font-size="8.5" text-anchor="middle">0.20</text>
<line x1="342.2" y1="1460.0" x2="342.2" y2="1464.0" stroke="#222" stroke-width="1"/>
<text x="342.2" y="1472.5" font-size="8.5" text-anchor="middle">0.25</text>
<line x1="374.0" y1="1460.0" x2="374.0" y2="1464.0" stroke="#222" stroke-width="1"/>
<text x="374.0" y="1472.5" font-size="8.5" text-anchor="middle">0.30</text>
<line x1="405.8" y1="1460.0" x2="405.8" y2="1464.0" stroke="#222" stroke-width="1"/>
<text x="405.8" y="1472.5" font-size="8.5" text-anchor="middle">0.35</text>
<path d="M242.8 1460.0v4M417.6 1460.0v4" stroke="#222" stroke-width="1"/>
<text x="330.2" y="1483.5" font-family="Liberation Serif" font-size="9.5" text-anchor="middle">GeneRatio</text>
<text x="425.9" y="1230.5" font-family="Liberation Serif" font-size="9">Count</text>
<circle cx="433.1" cy="1238.2" r="2.5" fill="#3b3733"/>
<circle cx="433.1" cy="1252.7" r="3.4" fill="#3b3733"/>
<circle cx="433.1" cy="1267.8" r="4.1" fill="#3b3733"/>
<circle cx="433.1" cy="1283.0" r="5.0" fill="#3b3733"/>
<circle cx="433.1" cy="1298.0" r="5.9" fill="#3b3733"/>
<circle cx="433.1" cy="1312.9" r="7.0" fill="#3b3733"/>
<path d="M444.2 1238.2H441.2V1312.9H444.2" stroke="#222" stroke-width="0.9" fill="none"/>
<line x1="441.2" y1="1238.0" x2="445.2" y2="1238.0" stroke="#222" stroke-width="0.9"/>
<text x="447.5" y="1241.0" font-size="8.5">15</text>
<line x1="441.2" y1="1251.0" x2="445.2" y2="1251.0" stroke="#222" stroke-width="0.9"/>
<text x="447.5" y="1254.0" font-size="8.5">20</text>
<line x1="441.2" y1="1264.0" x2="445.2" y2="1264.0" stroke="#222" stroke-width="0.9"/>
<text x="447.5" y="1267.0" font-size="8.5">25</text>
<line x1="441.2" y1="1276.6" x2="445.2" y2="1276.6" stroke="#222" stroke-width="0.9"/>
<text x="447.5" y="1279.6" font-size="8.5">30</text>
<line x1="441.2" y1="1289.8" x2="445.2" y2="1289.8" stroke="#222" stroke-width="0.9"/>
<text x="447.5" y="1292.8" font-size="8.5">35</text>
<line x1="441.2" y1="1302.7" x2="445.2" y2="1302.7" stroke="#222" stroke-width="0.9"/>
<text x="447.5" y="1305.7" font-size="8.5">40</text>
<text x="425.9" y="1344.0" font-family="Liberation Serif" font-size="9">-log10(pvalue)</text>
<rect x="425.9" y="1349.40" width="15" height="3.83" fill="#780522"/>
<rect x="425.9" y="1352.93" width="15" height="3.83" fill="#9a1027"/>
<rect x="425.9" y="1356.45" width="15" height="3.83" fill="#b72230"/>
<rect x="425.9" y="1359.98" width="15" height="3.83" fill="#c7433f"/>
<rect x="425.9" y="1363.51" width="15" height="3.83" fill="#d7634f"/>
<rect x="425.9" y="1367.04" width="15" height="3.83" fill="#e58268"/>
<rect x="425.9" y="1370.56" width="15" height="3.83" fill="#f3a280"/>
<rect x="425.9" y="1374.09" width="15" height="3.83" fill="#f8bb9e"/>
<rect x="425.9" y="1377.62" width="15" height="3.83" fill="#fcd4be"/>
<rect x="425.9" y="1381.15" width="15" height="3.83" fill="#fbe4d6"/>
<rect x="425.9" y="1384.67" width="15" height="3.83" fill="#f8f1ec"/>
<rect x="425.9" y="1388.20" width="15" height="3.83" fill="#eef3f5"/>
<rect x="425.9" y="1391.73" width="15" height="3.83" fill="#ddebf2"/>
<rect x="425.9" y="1395.25" width="15" height="3.83" fill="#c8e1ee"/>
<rect x="425.9" y="1398.78" width="15" height="3.83" fill="#acd2e5"/>
<rect x="425.9" y="1402.31" width="15" height="3.83" fill="#8ec3dd"/>
<rect x="425.9" y="1405.84" width="15" height="3.83" fill="#6aacd0"/>
<rect x="425.9" y="1409.36" width="15" height="3.83" fill="#4795c4"/>
<rect x="425.9" y="1412.89" width="15" height="3.83" fill="#3581ba"/>
<rect x="425.9" y="1416.42" width="15" height="3.83" fill="#266caf"/>
<rect x="425.9" y="1419.95" width="15" height="3.83" fill="#185594"/>
<rect x="425.9" y="1423.47" width="15" height="3.83" fill="#0b3c72"/>
<path d="M444.9 1349.4H440.9V1427.0H444.9" stroke="#222" stroke-width="0.9" fill="none"/>
<line x1="440.9" y1="1362.0" x2="444.9" y2="1362.0" stroke="#222" stroke-width="0.9"/>
<text x="447.2" y="1365.0" font-size="8.5">12</text>
<line x1="440.9" y1="1383.0" x2="444.9" y2="1383.0" stroke="#222" stroke-width="0.9"/>
<text x="447.2" y="1386.0" font-size="8.5">13</text>
<line x1="440.9" y1="1404.5" x2="444.9" y2="1404.5" stroke="#222" stroke-width="0.9"/>
<text x="447.2" y="1407.5" font-size="8.5">14</text>
<line x1="440.9" y1="1425.7" x2="444.9" y2="1425.7" stroke="#222" stroke-width="0.9"/>
<text x="447.2" y="1428.7" font-size="8.5">15</text>
<text x="27.5" y="1326.0" font-size="28">MF</text>
<line x1="797.7" y1="1191.0" x2="797.7" y2="1459.1" stroke="#dcdcdc" stroke-width="0.9"/>
<line x1="837.8" y1="1191.0" x2="837.8" y2="1459.1" stroke="#dcdcdc" stroke-width="0.9"/>
<line x1="877.9" y1="1191.0" x2="877.9" y2="1459.1" stroke="#dcdcdc" stroke-width="0.9"/>
<line x1="918.0" y1="1191.0" x2="918.0" y2="1459.1" stroke="#dcdcdc" stroke-width="0.9"/>
<line x1="765.6" y1="1204.7" x2="955.5" y2="1204.7" stroke="#dcdcdc" stroke-width="0.9"/>
<line x1="765.6" y1="1231.6" x2="955.5" y2="1231.6" stroke="#dcdcdc" stroke-width="0.9"/>
<line x1="765.6" y1="1258.5" x2="955.5" y2="1258.5" stroke="#dcdcdc" stroke-width="0.9"/>
<line x1="765.6" y1="1285.3" x2="955.5" y2="1285.3" stroke="#dcdcdc" stroke-width="0.9"/>
<line x1="765.6" y1="1312.2" x2="955.5" y2="1312.2" stroke="#dcdcdc" stroke-width="0.9"/>
<line x1="765.6" y1="1339.1" x2="955.5" y2="1339.1" stroke="#dcdcdc" stroke-width="0.9"/>
<line x1="765.6" y1="1366.0" x2="955.5" y2="1366.0" stroke="#dcdcdc" stroke-width="0.9"/>
<line x1="765.6" y1="1392.9" x2="955.5" y2="1392.9" stroke="#dcdcdc" stroke-width="0.9"/>
<line x1="765.6" y1="1419.7" x2="955.5" y2="1419.7" stroke="#dcdcdc" stroke-width="0.9"/>
<line x1="765.6" y1="1446.6" x2="955.5" y2="1446.6" stroke="#dcdcdc" stroke-width="0.9"/>
<circle cx="940.3" cy="1204.7" r="7.4" fill="#0c3060"/>
<line x1="761.1" y1="1204.7" x2="765.6" y2="1204.7" stroke="#222" stroke-width="1"/>
<text x="758.6" y="1207.1" font-family="Liberation Serif" font-size="9" text-anchor="end" stroke="#111" stroke-width="0.2">Cell cycle</text>
<circle cx="881.1" cy="1231.6" r="5.6" fill="#d6e6f0"/>
<line x1="761.1" y1="1231.6" x2="765.6" y2="1231.6" stroke="#222" stroke-width="1"/>
<text x="758.6" y="1229.4" font-family="Liberation Serif" font-size="9" text-anchor="end" stroke="#111" stroke-width="0.2">Progesterone-mediated oocyte</text>
<text x="758.6" y="1238.8" font-family="Liberation Serif" font-size="9" text-anchor="end" stroke="#111" stroke-width="0.2">maturation</text>
<circle cx="881.1" cy="1258.5" r="5.6" fill="#e8e8ea"/>
<line x1="761.1" y1="1258.5" x2="765.6" y2="1258.5" stroke="#222" stroke-width="1"/>
<text x="758.6" y="1260.9" font-family="Liberation Serif" font-size="9" text-anchor="end" stroke="#111" stroke-width="0.2">Oocyte meiosis</text>
<circle cx="863.3" cy="1285.3" r="5.1" fill="#e3896c"/>
<line x1="761.1" y1="1285.3" x2="765.6" y2="1285.3" stroke="#222" stroke-width="1"/>
<text x="758.6" y="1283.1" font-family="Liberation Serif" font-size="9" text-anchor="end" stroke="#111" stroke-width="0.2">Human T-cell leukemia virus 1</text>
<text x="758.6" y="1292.5" font-family="Liberation Serif" font-size="9" text-anchor="end" stroke="#111" stroke-width="0.2">infection</text>
<circle cx="845.7" cy="1312.2" r="4.7" fill="#e07c63"/>
<line x1="761.1" y1="1312.2" x2="765.6" y2="1312.2" stroke="#222" stroke-width="1"/>
<text x="758.6" y="1314.6" font-family="Liberation Serif" font-size="9" text-anchor="end" stroke="#111" stroke-width="0.2">Ubiquitin mediated proteolysis</text>
<circle cx="804.0" cy="1339.1" r="3.7" fill="#7a0f1e"/>
<line x1="761.1" y1="1339.1" x2="765.6" y2="1339.1" stroke="#222" stroke-width="1"/>
<text x="758.6" y="1341.5" font-family="Liberation Serif" font-size="9" text-anchor="end" stroke="#111" stroke-width="0.2">Cellular senescence</text>
<circle cx="798.1" cy="1366.0" r="3.6" fill="#7a0f1e"/>
<line x1="761.1" y1="1366.0" x2="765.6" y2="1366.0" stroke="#222" stroke-width="1"/>
<text x="758.6" y="1368.4" font-family="Liberation Serif" font-size="9" text-anchor="end" stroke="#111" stroke-width="0.2">Phagosome</text>
<circle cx="792.2" cy="1392.9" r="3.3" fill="#a51c2c"/>
<line x1="761.1" y1="1392.9" x2="765.6" y2="1392.9" stroke="#222" stroke-width="1"/>
<text x="758.6" y="1395.3" font-family="Liberation Serif" font-size="9" text-anchor="end" stroke="#111" stroke-width="0.2">Homologous recombination</text>
<circle cx="792.2" cy="1419.7" r="3.3" fill="#9a1828"/>
<line x1="761.1" y1="1419.7" x2="765.6" y2="1419.7" stroke="#222" stroke-width="1"/>
<text x="758.6" y="1422.1" font-family="Liberation Serif" font-size="9" text-anchor="end" stroke="#111" stroke-width="0.2">Gap junction</text>
<circle cx="780.2" cy="1446.6" r="2.9" fill="#6b0e1a"/>
<line x1="761.1" y1="1446.6" x2="765.6" y2="1446.6" stroke="#222" stroke-width="1"/>
<text x="758.6" y="1449.0" font-family="Liberation Serif" font-size="9" text-anchor="end" stroke="#111" stroke-width="0.2">Fanconi anemia pathway</text>
<rect x="765.6" y="1191.0" width="189.9" height="268.1" fill="none" stroke="#222" stroke-width="1.1"/>
<line x1="797.7" y1="1459.1" x2="797.7" y2="1463.1" stroke="#222" stroke-width="1"/>
<text x="797.7" y="1471.6" font-size="8.5" text-anchor="middle">0.1</text>
<line x1="837.8" y1="1459.1" x2="837.8" y2="1463.1" stroke="#222" stroke-width="1"/>
<text x="837.8" y="1471.6" font-size="8.5" text-anchor="middle">0.2</text>
<line x1="877.9" y1="1459.1" x2="877.9" y2="1463.1" stroke="#222" stroke-width="1"/>
<text x="877.9" y="1471.6" font-size="8.5" text-anchor="middle">0.3</text>
<line x1="918.0" y1="1459.1" x2="918.0" y2="1463.1" stroke="#222" stroke-width="1"/>
<text x="918.0" y="1471.6" font-size="8.5" text-anchor="middle">0.4</text>
<path d="M765.6 1459.1v4M955.5 1459.1v4" stroke="#222" stroke-width="1"/>
<text x="860.5" y="1482.6" font-family="Liberation Serif" font-size="9.5" text-anchor="middle">GeneRatio</text>
<text x="962.7" y="1232.0" font-family="Liberation Serif" font-size="9">Count</text>
<circle cx="969.9" cy="1239.0" r="2.5" fill="#3b3733"/>
<circle cx="969.9" cy="1254.4" r="3.3" fill="#3b3733"/>
<circle cx="969.9" cy="1269.2" r="4.0" fill="#3b3733"/>
<circle cx="969.9" cy="1284.0" r="5.0" fill="#3b3733"/>
<circle cx="969.9" cy="1298.8" r="6.0" fill="#3b3733"/>
<circle cx="969.9" cy="1314.3" r="7.0" fill="#3b3733"/>
<path d="M981.0 1239.0H978.0V1314.3H981.0" stroke="#222" stroke-width="0.9" fill="none"/>
<line x1="978.0" y1="1242.0" x2="982.0" y2="1242.0" stroke="#222" stroke-width="0.9"/>
<text x="984.3" y="1245.0" font-size="8.5">5</text>
<line x1="978.0" y1="1256.0" x2="982.0" y2="1256.0" stroke="#222" stroke-width="0.9"/>
<text x="984.3" y="1259.0" font-size="8.5">10</text>
<line x1="978.0" y1="1269.7" x2="982.0" y2="1269.7" stroke="#222" stroke-width="0.9"/>
<text x="984.3" y="1272.7" font-size="8.5">15</text>
<line x1="978.0" y1="1284.0" x2="982.0" y2="1284.0" stroke="#222" stroke-width="0.9"/>
<text x="984.3" y="1287.0" font-size="8.5">20</text>
<line x1="978.0" y1="1297.8" x2="982.0" y2="1297.8" stroke="#222" stroke-width="0.9"/>
<text x="984.3" y="1300.8" font-size="8.5">25</text>
<line x1="978.0" y1="1311.8" x2="982.0" y2="1311.8" stroke="#222" stroke-width="0.9"/>
<text x="984.3" y="1314.8" font-size="8.5">30</text>
<text x="962.7" y="1345.0" font-family="Liberation Serif" font-size="9">-log10(pvalue)</text>
<rect x="962.7" y="1350.30" width="15" height="3.85" fill="#780522"/>
<rect x="962.7" y="1353.85" width="15" height="3.85" fill="#9a1027"/>
<rect x="962.7" y="1357.41" width="15" height="3.85" fill="#b72230"/>
<rect x="962.7" y="1360.96" width="15" height="3.85" fill="#c7433f"/>
<rect x="962.7" y="1364.52" width="15" height="3.85" fill="#d7634f"/>
<rect x="962.7" y="1368.07" width="15" height="3.85" fill="#e58268"/>
<rect x="962.7" y="1371.63" width="15" height="3.85" fill="#f3a280"/>
<rect x="962.7" y="1375.18" width="15" height="3.85" fill="#f8bb9e"/>
<rect x="962.7" y="1378.74" width="15" height="3.85" fill="#fcd4be"/>
<rect x="962.7" y="1382.29" width="15" height="3.85" fill="#fbe4d6"/>
<rect x="962.7" y="1385.85" width="15" height="3.85" fill="#f8f1ec"/>
<rect x="962.7" y="1389.40" width="15" height="3.85" fill="#eef3f5"/>
<rect x="962.7" y="1392.95" width="15" height="3.85" fill="#ddebf2"/>
<rect x="962.7" y="1396.51" width="15" height="3.85" fill="#c8e1ee"/>
<rect x="962.7" y="1400.06" width="15" height="3.85" fill="#acd2e5"/>
<rect x="962.7" y="1403.62" width="15" height="3.85" fill="#8ec3dd"/>
<rect x="962.7" y="1407.17" width="15" height="3.85" fill="#6aacd0"/>
<rect x="962.7" y="1410.73" width="15" height="3.85" fill="#4795c4"/>
<rect x="962.7" y="1414.28" width="15" height="3.85" fill="#3581ba"/>
<rect x="962.7" y="1417.84" width="15" height="3.85" fill="#266caf"/>
<rect x="962.7" y="1421.39" width="15" height="3.85" fill="#185594"/>
<rect x="962.7" y="1424.95" width="15" height="3.85" fill="#0b3c72"/>
<path d="M981.7 1350.3H977.7V1428.5H981.7" stroke="#222" stroke-width="0.9" fill="none"/>
<line x1="977.7" y1="1366.0" x2="981.7" y2="1366.0" stroke="#222" stroke-width="0.9"/>
<text x="984.0" y="1369.0" font-size="8.5">10</text>
<line x1="977.7" y1="1387.8" x2="981.7" y2="1387.8" stroke="#222" stroke-width="0.9"/>
<text x="984.0" y="1390.8" font-size="8.5">20</text>
<line x1="977.7" y1="1410.0" x2="981.7" y2="1410.0" stroke="#222" stroke-width="0.9"/>
<text x="984.0" y="1413.0" font-size="8.5">30</text>
<text x="523.5" y="1324.6" font-size="28">KEGG</text>
</svg></body></html>
